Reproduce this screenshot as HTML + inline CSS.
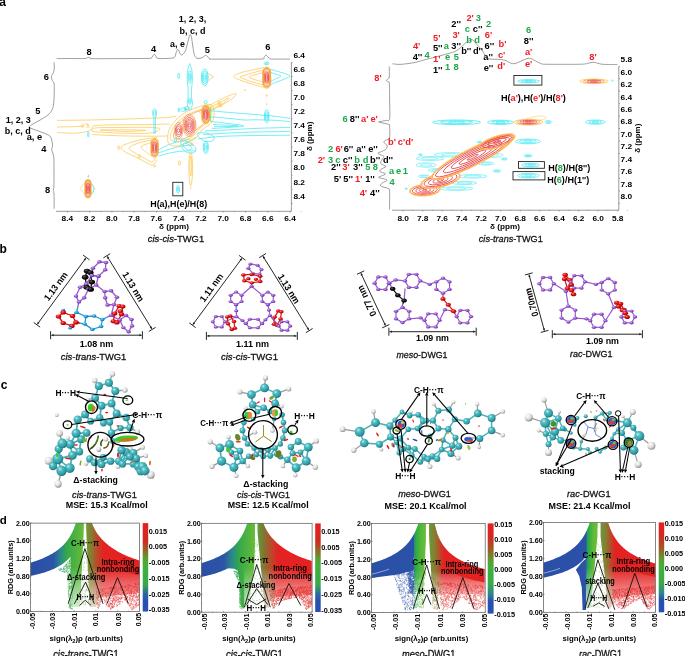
<!DOCTYPE html><html><head><meta charset="utf-8"><style>html,body{margin:0;padding:0;background:#fff;width:685px;height:656px;overflow:hidden}svg{display:block;will-change:transform}text{font-family:"Liberation Sans",sans-serif}</style></head><body><svg width="685" height="656" viewBox="0 0 685 656" font-family="Liberation Sans, sans-serif" font-weight="bold"><defs><radialGradient id="gP" cx="0.38" cy="0.35" r="0.7"><stop offset="0" stop-color="#d0aef2"/><stop offset="0.45" stop-color="#9c5cd4"/><stop offset="1" stop-color="#5e2890"/></radialGradient><radialGradient id="gR" cx="0.38" cy="0.35" r="0.7"><stop offset="0" stop-color="#ff8080"/><stop offset="0.45" stop-color="#e41010"/><stop offset="1" stop-color="#900000"/></radialGradient><radialGradient id="gB" cx="0.38" cy="0.35" r="0.7"><stop offset="0" stop-color="#9ae0ff"/><stop offset="0.45" stop-color="#1fa2dc"/><stop offset="1" stop-color="#0a6894"/></radialGradient><radialGradient id="gK" cx="0.38" cy="0.35" r="0.7"><stop offset="0" stop-color="#606060"/><stop offset="0.45" stop-color="#101010"/><stop offset="1" stop-color="#000"/></radialGradient><radialGradient id="gT" cx="0.36" cy="0.32" r="0.72"><stop offset="0" stop-color="#b8f0f2"/><stop offset="0.3" stop-color="#52bcc4"/><stop offset="0.75" stop-color="#2f9aa2"/><stop offset="1" stop-color="#1d6a70"/></radialGradient><radialGradient id="gH" cx="0.36" cy="0.32" r="0.72"><stop offset="0" stop-color="#ffffff"/><stop offset="0.55" stop-color="#dcdcdc"/><stop offset="1" stop-color="#8a8a8a"/></radialGradient><linearGradient id="bg0" gradientUnits="userSpaceOnUse" x1="30.4" y1="0" x2="139.6" y2="0"><stop offset="0" stop-color="#2a4fa6"/><stop offset="0.21" stop-color="#2b55a6"/><stop offset="0.28" stop-color="#2a8a8a"/><stop offset="0.33" stop-color="#34a848"/><stop offset="0.42" stop-color="#50b440"/><stop offset="0.49" stop-color="#6cbc38"/><stop offset="0.51" stop-color="#6a9a34"/><stop offset="0.56" stop-color="#8a7a30"/><stop offset="0.61" stop-color="#b84a2a"/><stop offset="0.67" stop-color="#e42222"/><stop offset="1" stop-color="#e42222"/></linearGradient><clipPath id="cp0"><rect x="30.4" y="523.1" width="109.2" height="88.4"/></clipPath><linearGradient id="fm0" gradientUnits="userSpaceOnUse" x1="0" y1="567.3" x2="0" y2="607.08"><stop offset="0" stop-color="#fff"/><stop offset="1" stop-color="#404040"/></linearGradient><mask id="mk0" maskUnits="userSpaceOnUse" x="30.4" y="523.1" width="109.2" height="88.4"><rect x="30.4" y="523.1" width="109.2" height="88.4" fill="url(#fm0)"/></mask><linearGradient id="bg0d" gradientUnits="userSpaceOnUse" x1="304" y1="0" x2="1396" y2="0"><stop offset="0" stop-color="#2a4fa6"/><stop offset="0.21" stop-color="#2b55a6"/><stop offset="0.28" stop-color="#2a8a8a"/><stop offset="0.33" stop-color="#34a848"/><stop offset="0.42" stop-color="#50b440"/><stop offset="0.49" stop-color="#6cbc38"/><stop offset="0.51" stop-color="#6a9a34"/><stop offset="0.56" stop-color="#8a7a30"/><stop offset="0.61" stop-color="#b84a2a"/><stop offset="0.67" stop-color="#e42222"/><stop offset="1" stop-color="#e42222"/></linearGradient><linearGradient id="cb0" x1="0" y1="0" x2="0" y2="1"><stop offset="0" stop-color="#e82020"/><stop offset="0.2" stop-color="#d02a20"/><stop offset="0.3" stop-color="#9a6028"/><stop offset="0.4" stop-color="#5aa030"/><stop offset="0.5" stop-color="#40b040"/><stop offset="0.7" stop-color="#3aa84a"/><stop offset="0.8" stop-color="#2868a0"/><stop offset="0.88" stop-color="#2850b0"/><stop offset="1" stop-color="#2850b0"/></linearGradient><linearGradient id="bg1" gradientUnits="userSpaceOnUse" x1="201.4" y1="0" x2="312.1" y2="0"><stop offset="0" stop-color="#2a4fa6"/><stop offset="0.2" stop-color="#2b55a6"/><stop offset="0.28" stop-color="#2a8a8a"/><stop offset="0.34" stop-color="#34a848"/><stop offset="0.42" stop-color="#50b440"/><stop offset="0.49" stop-color="#6cbc38"/><stop offset="0.51" stop-color="#5a9e38"/><stop offset="0.57" stop-color="#887030"/><stop offset="0.63" stop-color="#b84a2a"/><stop offset="0.69" stop-color="#e42222"/><stop offset="1" stop-color="#e42222"/></linearGradient><clipPath id="cp1"><rect x="201.4" y="523.3" width="110.7" height="88.9"/></clipPath><linearGradient id="fm1" gradientUnits="userSpaceOnUse" x1="0" y1="567.75" x2="0" y2="607.75"><stop offset="0" stop-color="#fff"/><stop offset="1" stop-color="#404040"/></linearGradient><mask id="mk1" maskUnits="userSpaceOnUse" x="201.4" y="523.3" width="110.7" height="88.9"><rect x="201.4" y="523.3" width="110.7" height="88.9" fill="url(#fm1)"/></mask><linearGradient id="bg1d" gradientUnits="userSpaceOnUse" x1="2014" y1="0" x2="3121" y2="0"><stop offset="0" stop-color="#2a4fa6"/><stop offset="0.2" stop-color="#2b55a6"/><stop offset="0.28" stop-color="#2a8a8a"/><stop offset="0.34" stop-color="#34a848"/><stop offset="0.42" stop-color="#50b440"/><stop offset="0.49" stop-color="#6cbc38"/><stop offset="0.51" stop-color="#5a9e38"/><stop offset="0.57" stop-color="#887030"/><stop offset="0.63" stop-color="#b84a2a"/><stop offset="0.69" stop-color="#e42222"/><stop offset="1" stop-color="#e42222"/></linearGradient><linearGradient id="cb1" x1="0" y1="0" x2="0" y2="1"><stop offset="0" stop-color="#e82020"/><stop offset="0.2" stop-color="#d02a20"/><stop offset="0.3" stop-color="#9a6028"/><stop offset="0.4" stop-color="#5aa030"/><stop offset="0.5" stop-color="#40b040"/><stop offset="0.7" stop-color="#3aa84a"/><stop offset="0.8" stop-color="#2868a0"/><stop offset="0.88" stop-color="#2850b0"/><stop offset="1" stop-color="#2850b0"/></linearGradient><linearGradient id="bg2" gradientUnits="userSpaceOnUse" x1="371.4" y1="0" x2="485.2" y2="0"><stop offset="0" stop-color="#2a4fa6"/><stop offset="0.37" stop-color="#2b52a8"/><stop offset="0.38" stop-color="#2a9a60"/><stop offset="0.4" stop-color="#30b040"/><stop offset="0.44" stop-color="#5cb838"/><stop offset="0.49" stop-color="#70c038"/><stop offset="0.51" stop-color="#6a9a34"/><stop offset="0.56" stop-color="#8a7a30"/><stop offset="0.61" stop-color="#c04028"/><stop offset="0.64" stop-color="#e42222"/><stop offset="1" stop-color="#e42222"/></linearGradient><clipPath id="cp2"><rect x="371.4" y="523.4" width="113.8" height="89.2"/></clipPath><linearGradient id="fm2" gradientUnits="userSpaceOnUse" x1="0" y1="570.23" x2="0" y2="596.99"><stop offset="0" stop-color="#fff"/><stop offset="1" stop-color="#303030"/></linearGradient><mask id="mk2" maskUnits="userSpaceOnUse" x="371.4" y="523.4" width="113.8" height="89.2"><rect x="371.4" y="523.4" width="113.8" height="89.2" fill="url(#fm2)"/></mask><linearGradient id="bg2d" gradientUnits="userSpaceOnUse" x1="3714" y1="0" x2="4852" y2="0"><stop offset="0" stop-color="#2a4fa6"/><stop offset="0.37" stop-color="#2b52a8"/><stop offset="0.38" stop-color="#2a9a60"/><stop offset="0.4" stop-color="#30b040"/><stop offset="0.44" stop-color="#5cb838"/><stop offset="0.49" stop-color="#70c038"/><stop offset="0.51" stop-color="#6a9a34"/><stop offset="0.56" stop-color="#8a7a30"/><stop offset="0.61" stop-color="#c04028"/><stop offset="0.64" stop-color="#e42222"/><stop offset="1" stop-color="#e42222"/></linearGradient><linearGradient id="cb2" x1="0" y1="0" x2="0" y2="1"><stop offset="0" stop-color="#e82020"/><stop offset="0.15" stop-color="#d02a20"/><stop offset="0.3" stop-color="#9a6028"/><stop offset="0.42" stop-color="#5aa030"/><stop offset="0.5" stop-color="#40b040"/><stop offset="0.68" stop-color="#3aa84a"/><stop offset="0.78" stop-color="#2a8a88"/><stop offset="0.86" stop-color="#2850b0"/><stop offset="1" stop-color="#2850b0"/></linearGradient><linearGradient id="bg3" gradientUnits="userSpaceOnUse" x1="543.4" y1="0" x2="655.6" y2="0"><stop offset="0" stop-color="#2a4fa6"/><stop offset="0.38" stop-color="#2b52a8"/><stop offset="0.39" stop-color="#2a9a60"/><stop offset="0.41" stop-color="#30b040"/><stop offset="0.44" stop-color="#5cb838"/><stop offset="0.49" stop-color="#70c038"/><stop offset="0.51" stop-color="#6a9a34"/><stop offset="0.56" stop-color="#8a7a30"/><stop offset="0.61" stop-color="#c04028"/><stop offset="0.64" stop-color="#e42222"/><stop offset="1" stop-color="#e42222"/></linearGradient><clipPath id="cp3"><rect x="543.4" y="522.5" width="112.2" height="89.8"/></clipPath><linearGradient id="fm3" gradientUnits="userSpaceOnUse" x1="0" y1="567.4" x2="0" y2="607.81"><stop offset="0" stop-color="#fff"/><stop offset="1" stop-color="#404040"/></linearGradient><mask id="mk3" maskUnits="userSpaceOnUse" x="543.4" y="522.5" width="112.2" height="89.8"><rect x="543.4" y="522.5" width="112.2" height="89.8" fill="url(#fm3)"/></mask><linearGradient id="bg3d" gradientUnits="userSpaceOnUse" x1="5434" y1="0" x2="6556" y2="0"><stop offset="0" stop-color="#2a4fa6"/><stop offset="0.38" stop-color="#2b52a8"/><stop offset="0.39" stop-color="#2a9a60"/><stop offset="0.41" stop-color="#30b040"/><stop offset="0.44" stop-color="#5cb838"/><stop offset="0.49" stop-color="#70c038"/><stop offset="0.51" stop-color="#6a9a34"/><stop offset="0.56" stop-color="#8a7a30"/><stop offset="0.61" stop-color="#c04028"/><stop offset="0.64" stop-color="#e42222"/><stop offset="1" stop-color="#e42222"/></linearGradient><linearGradient id="cb3" x1="0" y1="0" x2="0" y2="1"><stop offset="0" stop-color="#e82020"/><stop offset="0.15" stop-color="#d02a20"/><stop offset="0.3" stop-color="#9a6028"/><stop offset="0.42" stop-color="#5aa030"/><stop offset="0.5" stop-color="#40b040"/><stop offset="0.68" stop-color="#3aa84a"/><stop offset="0.78" stop-color="#2a8a88"/><stop offset="0.86" stop-color="#2850b0"/><stop offset="1" stop-color="#2850b0"/></linearGradient></defs><path d="M56.6,58.6 C58.83,58.58 65.43,58.5 70,58.5 C74.57,58.5 81.25,58.65 84,58.6 C86.75,58.55 85.75,58.42 86.5,58.2 C87.25,57.98 87.83,57.3 88.5,57.3 C89.17,57.3 89.75,57.97 90.5,58.2 C91.25,58.43 88.08,58.63 93,58.7 C97.92,58.77 110.83,58.65 120,58.6 C129.17,58.55 142.75,58.53 148,58.4 C153.25,58.27 150.67,58.27 151.5,57.8 C152.33,57.33 152.55,56.2 153,55.6 C153.45,55 153.77,54.2 154.2,54.2 C154.63,54.2 155.05,54.92 155.6,55.6 C156.15,56.28 155.93,57.82 157.5,58.3 C159.07,58.78 162.58,58.53 165,58.5 C167.42,58.47 170.38,58.35 172,58.1 C173.62,57.85 174,57.93 174.7,57 C175.4,56.07 175.75,53.73 176.2,52.5 C176.65,51.27 177,49.98 177.4,49.6 C177.8,49.22 178.17,49.55 178.6,50.2 C179.03,50.85 179.55,52.7 180,53.5 C180.45,54.3 180.8,54.88 181.3,55 C181.8,55.12 182.3,54.95 183,54.2 C183.7,53.45 184.67,52.62 185.5,50.5 C186.33,48.38 187.32,44 188,41.5 C188.68,39 189.18,36.62 189.6,35.5 C190.02,34.38 190.18,34.47 190.5,34.8 C190.82,35.13 191.12,35.63 191.5,37.5 C191.88,39.37 192.33,43.15 192.8,46 C193.27,48.85 193.77,52.67 194.3,54.6 C194.83,56.53 195.38,56.95 196,57.6 C196.62,58.25 197,58.47 198,58.5 C199,58.53 200.97,58.18 202,57.8 C203.03,57.42 203.57,56.62 204.2,56.2 C204.83,55.78 205.25,55.25 205.8,55.3 C206.35,55.35 206.88,55.95 207.5,56.5 C208.12,57.05 208.75,58.17 209.5,58.6 C210.25,59.03 206.92,59.02 212,59.1 C217.08,59.18 231.67,59.12 240,59.1 C248.33,59.08 258,59.32 262,59 C266,58.68 263.33,57.83 264,57.2 C264.67,56.57 265.33,55.23 266,55.2 C266.67,55.17 267.25,56.38 268,57 C268.75,57.62 269.33,58.55 270.5,58.9 C271.67,59.25 271.75,59.07 275,59.1 C278.25,59.13 287.5,59.1 290,59.1" stroke="#606060" stroke-width="0.6" fill="none"/>
<path d="M54.1,62.3 C54.13,63.25 54.38,66.38 54.3,68 C54.22,69.62 54.08,70.58 53.6,72 C53.12,73.42 51.63,75.17 51.4,76.5 C51.17,77.83 51.75,78.75 52.2,80 C52.65,81.25 53.77,81.5 54.1,84 C54.43,86.5 54.28,91.67 54.2,95 C54.12,98.33 53.97,101.5 53.6,104 C53.23,106.5 52.93,108.17 52,110 C51.07,111.83 49.83,113.42 48,115 C46.17,116.58 43.5,118 41,119.5 C38.5,121 35,122.78 33,124 C31,125.22 29.17,126.02 29,126.8 C28.83,127.58 30.17,127.9 32,128.7 C33.83,129.5 37.5,130.65 40,131.6 C42.5,132.55 45.25,133.57 47,134.4 C48.75,135.23 49.78,135.83 50.5,136.6 C51.22,137.37 51,137.93 51.3,139 C51.6,140.07 52.1,141.75 52.3,143 C52.5,144.25 52.62,145.42 52.5,146.5 C52.38,147.58 51.55,148.42 51.6,149.5 C51.65,150.58 52.43,151.58 52.8,153 C53.17,154.42 53.6,155.17 53.8,158 C54,160.83 53.98,165.33 54,170 C54.02,174.67 54.02,182.67 53.9,186 C53.78,189.33 53.28,188.67 53.3,190 C53.32,191.33 53.85,190.88 54,194 C54.15,197.12 54.17,206.25 54.2,208.7" stroke="#606060" stroke-width="0.6" fill="none"/>
<path d="M392.5,63.8 C393.75,63.9 397.08,64.48 400,64.4 C402.92,64.32 407.08,63.72 410,63.3 C412.92,62.88 414.83,62.55 417.5,61.9 C420.17,61.25 423.37,60.12 426,59.4 C428.63,58.68 430.47,58.33 433.3,57.6 C436.13,56.87 439.78,55.88 443,55 C446.22,54.12 450.1,53.18 452.6,52.3 C455.1,51.42 456.55,50.58 458,49.7 C459.45,48.82 460.13,48.05 461.3,47 C462.47,45.95 463.68,44.47 465,43.4 C466.32,42.33 468.07,41.23 469.2,40.6 C470.33,39.97 471.03,39.57 471.8,39.6 C472.57,39.63 473.22,40.28 473.8,40.8 C474.38,41.32 474.43,41.7 475.3,42.7 C476.17,43.7 477.83,45.5 479,46.8 C480.17,48.1 481.3,49.13 482.3,50.5 C483.3,51.87 484.12,53.72 485,55 C485.88,56.28 486.43,57.5 487.6,58.2 C488.77,58.9 490.25,59.02 492,59.2 C493.75,59.38 495.93,59.12 498.1,59.3 C500.27,59.48 503.18,59.8 505,60.3 C506.82,60.8 507.78,61.75 509,62.3 C510.22,62.85 511.13,63.43 512.3,63.6 C513.47,63.77 514.38,63.8 516,63.3 C517.62,62.8 520.17,61.38 522,60.6 C523.83,59.82 525.73,58.98 527,58.6 C528.27,58.22 528.68,58.18 529.6,58.3 C530.52,58.42 531.27,58.73 532.5,59.3 C533.73,59.87 535.58,60.98 537,61.7 C538.42,62.42 539.83,63.18 541,63.6 C542.17,64.02 540.83,64.08 544,64.2 C547.17,64.32 553.72,64.3 560,64.3 C566.28,64.3 577.03,64.37 581.7,64.2 C586.37,64.03 586.12,63.63 588,63.3 C589.88,62.97 591.33,62.2 593,62.2 C594.67,62.2 596.33,62.95 598,63.3 C599.67,63.65 599.75,64.08 603,64.3 C606.25,64.52 615.08,64.55 617.5,64.6" stroke="#606060" stroke-width="0.6" fill="none"/>
<path d="M389.3,66.5 C389.3,68.25 389.45,74.98 389.3,77 C389.15,79.02 388.88,78.05 388.4,78.6 C387.92,79.15 386.4,79.73 386.4,80.3 C386.4,80.87 387.9,81.47 388.4,82 C388.9,82.53 389.2,80.5 389.4,83.5 C389.6,86.5 389.57,94.12 389.6,100 C389.63,105.88 390.2,115.4 389.6,118.8 C389,122.2 387.6,119.92 386,120.4 C384.4,120.88 381.2,121.43 380,121.7 C378.8,121.97 378.47,121.8 378.8,122 C379.13,122.2 380.4,122.53 382,122.9 C383.6,123.27 387.13,123.68 388.4,124.2 C389.67,124.72 389.4,123.7 389.6,126 C389.8,128.3 390.07,135.72 389.6,138 C389.13,140.28 387.73,139.1 386.8,139.7 C385.87,140.3 384.37,141 384,141.6 C383.63,142.2 384.13,142.73 384.6,143.3 C385.07,143.87 386.35,144.38 386.8,145 C387.25,145.62 387.52,146.25 387.3,147 C387.08,147.75 386.47,148.73 385.5,149.5 C384.53,150.27 382.75,151.02 381.5,151.6 C380.25,152.18 378.25,152.52 378,153 C377.75,153.48 379,153.92 380,154.5 C381,155.08 383.67,155.67 384,156.5 C384.33,157.33 382.53,158.32 382,159.5 C381.47,160.68 380.13,162.45 380.8,163.6 C381.47,164.75 385.63,165.63 386,166.4 C386.37,167.17 384.08,167.4 383,168.2 C381.92,169 379.08,170.27 379.5,171.2 C379.92,172.13 385.18,173 385.5,173.8 C385.82,174.6 382.52,175.38 381.4,176 C380.28,176.62 377.87,176.83 378.8,177.5 C379.73,178.17 386.47,179.05 387,180 C387.53,180.95 383.05,182.2 382,183.2 C380.95,184.2 379.75,185.15 380.7,186 C381.65,186.85 386.23,187.63 387.7,188.3 C389.17,188.97 389.18,188.05 389.5,190 C389.82,191.95 389.58,196.75 389.6,200 C389.62,203.25 389.6,207.92 389.6,209.5" stroke="#606060" stroke-width="0.6" fill="none"/>
<line x1="291.4" y1="62.2" x2="291.4" y2="211.3" stroke="#555" stroke-width="0.6"/>
<line x1="56" y1="211.3" x2="291.4" y2="211.3" stroke="#555" stroke-width="0.6"/>
<line x1="291.4" y1="62.4" x2="292.6" y2="62.4" stroke="#555" stroke-width="0.5"/>
<line x1="291.4" y1="76.5" x2="292.6" y2="76.5" stroke="#555" stroke-width="0.5"/>
<line x1="291.4" y1="90.6" x2="292.6" y2="90.6" stroke="#555" stroke-width="0.5"/>
<line x1="291.4" y1="104.7" x2="292.6" y2="104.7" stroke="#555" stroke-width="0.5"/>
<line x1="291.4" y1="118.8" x2="292.6" y2="118.8" stroke="#555" stroke-width="0.5"/>
<line x1="291.4" y1="132.9" x2="292.6" y2="132.9" stroke="#555" stroke-width="0.5"/>
<line x1="291.4" y1="147" x2="292.6" y2="147" stroke="#555" stroke-width="0.5"/>
<line x1="291.4" y1="161.1" x2="292.6" y2="161.1" stroke="#555" stroke-width="0.5"/>
<line x1="291.4" y1="175.2" x2="292.6" y2="175.2" stroke="#555" stroke-width="0.5"/>
<line x1="291.4" y1="189.3" x2="292.6" y2="189.3" stroke="#555" stroke-width="0.5"/>
<line x1="291.4" y1="203.4" x2="292.6" y2="203.4" stroke="#555" stroke-width="0.5"/>
<line x1="67.4" y1="211.3" x2="67.4" y2="212.6" stroke="#555" stroke-width="0.5"/>
<line x1="78.53" y1="211.3" x2="78.53" y2="212.1" stroke="#555" stroke-width="0.5"/>
<line x1="89.66" y1="211.3" x2="89.66" y2="212.6" stroke="#555" stroke-width="0.5"/>
<line x1="100.79" y1="211.3" x2="100.79" y2="212.1" stroke="#555" stroke-width="0.5"/>
<line x1="111.92" y1="211.3" x2="111.92" y2="212.6" stroke="#555" stroke-width="0.5"/>
<line x1="123.05" y1="211.3" x2="123.05" y2="212.1" stroke="#555" stroke-width="0.5"/>
<line x1="134.18" y1="211.3" x2="134.18" y2="212.6" stroke="#555" stroke-width="0.5"/>
<line x1="145.31" y1="211.3" x2="145.31" y2="212.1" stroke="#555" stroke-width="0.5"/>
<line x1="156.44" y1="211.3" x2="156.44" y2="212.6" stroke="#555" stroke-width="0.5"/>
<line x1="167.57" y1="211.3" x2="167.57" y2="212.1" stroke="#555" stroke-width="0.5"/>
<line x1="178.7" y1="211.3" x2="178.7" y2="212.6" stroke="#555" stroke-width="0.5"/>
<line x1="189.83" y1="211.3" x2="189.83" y2="212.1" stroke="#555" stroke-width="0.5"/>
<line x1="200.96" y1="211.3" x2="200.96" y2="212.6" stroke="#555" stroke-width="0.5"/>
<line x1="212.09" y1="211.3" x2="212.09" y2="212.1" stroke="#555" stroke-width="0.5"/>
<line x1="223.22" y1="211.3" x2="223.22" y2="212.6" stroke="#555" stroke-width="0.5"/>
<line x1="234.35" y1="211.3" x2="234.35" y2="212.1" stroke="#555" stroke-width="0.5"/>
<line x1="245.48" y1="211.3" x2="245.48" y2="212.6" stroke="#555" stroke-width="0.5"/>
<line x1="256.61" y1="211.3" x2="256.61" y2="212.1" stroke="#555" stroke-width="0.5"/>
<line x1="267.74" y1="211.3" x2="267.74" y2="212.6" stroke="#555" stroke-width="0.5"/>
<line x1="278.87" y1="211.3" x2="278.87" y2="212.1" stroke="#555" stroke-width="0.5"/>
<line x1="290" y1="211.3" x2="290" y2="212.6" stroke="#555" stroke-width="0.5"/>
<line x1="301.13" y1="211.3" x2="301.13" y2="212.1" stroke="#555" stroke-width="0.5"/>
<line x1="618.8" y1="66.3" x2="618.8" y2="210.2" stroke="#555" stroke-width="0.6"/>
<line x1="392" y1="210.2" x2="618.8" y2="210.2" stroke="#555" stroke-width="0.6"/>
<line x1="618.8" y1="66.3" x2="620" y2="66.3" stroke="#555" stroke-width="0.5"/>
<line x1="618.8" y1="78.75" x2="620" y2="78.75" stroke="#555" stroke-width="0.5"/>
<line x1="618.8" y1="91.2" x2="620" y2="91.2" stroke="#555" stroke-width="0.5"/>
<line x1="618.8" y1="103.65" x2="620" y2="103.65" stroke="#555" stroke-width="0.5"/>
<line x1="618.8" y1="116.1" x2="620" y2="116.1" stroke="#555" stroke-width="0.5"/>
<line x1="618.8" y1="128.55" x2="620" y2="128.55" stroke="#555" stroke-width="0.5"/>
<line x1="618.8" y1="141" x2="620" y2="141" stroke="#555" stroke-width="0.5"/>
<line x1="618.8" y1="153.45" x2="620" y2="153.45" stroke="#555" stroke-width="0.5"/>
<line x1="618.8" y1="165.9" x2="620" y2="165.9" stroke="#555" stroke-width="0.5"/>
<line x1="618.8" y1="178.35" x2="620" y2="178.35" stroke="#555" stroke-width="0.5"/>
<line x1="618.8" y1="190.8" x2="620" y2="190.8" stroke="#555" stroke-width="0.5"/>
<line x1="618.8" y1="203.25" x2="620" y2="203.25" stroke="#555" stroke-width="0.5"/>
<line x1="403.2" y1="210.2" x2="403.2" y2="211.5" stroke="#555" stroke-width="0.5"/>
<line x1="412.95" y1="210.2" x2="412.95" y2="211" stroke="#555" stroke-width="0.5"/>
<line x1="422.7" y1="210.2" x2="422.7" y2="211.5" stroke="#555" stroke-width="0.5"/>
<line x1="432.45" y1="210.2" x2="432.45" y2="211" stroke="#555" stroke-width="0.5"/>
<line x1="442.2" y1="210.2" x2="442.2" y2="211.5" stroke="#555" stroke-width="0.5"/>
<line x1="451.95" y1="210.2" x2="451.95" y2="211" stroke="#555" stroke-width="0.5"/>
<line x1="461.7" y1="210.2" x2="461.7" y2="211.5" stroke="#555" stroke-width="0.5"/>
<line x1="471.45" y1="210.2" x2="471.45" y2="211" stroke="#555" stroke-width="0.5"/>
<line x1="481.2" y1="210.2" x2="481.2" y2="211.5" stroke="#555" stroke-width="0.5"/>
<line x1="490.95" y1="210.2" x2="490.95" y2="211" stroke="#555" stroke-width="0.5"/>
<line x1="500.7" y1="210.2" x2="500.7" y2="211.5" stroke="#555" stroke-width="0.5"/>
<line x1="510.45" y1="210.2" x2="510.45" y2="211" stroke="#555" stroke-width="0.5"/>
<line x1="520.2" y1="210.2" x2="520.2" y2="211.5" stroke="#555" stroke-width="0.5"/>
<line x1="529.95" y1="210.2" x2="529.95" y2="211" stroke="#555" stroke-width="0.5"/>
<line x1="539.7" y1="210.2" x2="539.7" y2="211.5" stroke="#555" stroke-width="0.5"/>
<line x1="549.45" y1="210.2" x2="549.45" y2="211" stroke="#555" stroke-width="0.5"/>
<line x1="559.2" y1="210.2" x2="559.2" y2="211.5" stroke="#555" stroke-width="0.5"/>
<line x1="568.95" y1="210.2" x2="568.95" y2="211" stroke="#555" stroke-width="0.5"/>
<line x1="578.7" y1="210.2" x2="578.7" y2="211.5" stroke="#555" stroke-width="0.5"/>
<line x1="588.45" y1="210.2" x2="588.45" y2="211" stroke="#555" stroke-width="0.5"/>
<line x1="598.2" y1="210.2" x2="598.2" y2="211.5" stroke="#555" stroke-width="0.5"/>
<line x1="607.95" y1="210.2" x2="607.95" y2="211" stroke="#555" stroke-width="0.5"/>
<line x1="617.7" y1="210.2" x2="617.7" y2="211.5" stroke="#555" stroke-width="0.5"/>
<line x1="627.45" y1="210.2" x2="627.45" y2="211" stroke="#555" stroke-width="0.5"/>
<path d="M57,120.4 C62.5,120.33 79.5,120.2 90,120 C100.5,119.8 110,119.5 120,119.2 C130,118.9 142,118.5 150,118.2 C158,117.9 163.67,117.73 168,117.4 C172.33,117.07 174.67,116.4 176,116.2" stroke="#fcc44a" stroke-width="0.72" fill="none"/>
<path d="M57,132.6 C60,132.7 69.83,133.43 75,133.2 C80.17,132.97 85.17,131.98 88,131.2 C90.83,130.42 90.83,129.43 92,128.5 C93.17,127.57 90.33,126.22 95,125.6 C99.67,124.98 110.83,124.98 120,124.8 C129.17,124.62 141.67,124.63 150,124.5 C158.33,124.37 166.67,124.08 170,124" stroke="#fcc44a" stroke-width="0.72" fill="none"/>
<path d="M57,127 C60.83,126.88 75.17,126.83 80,126.3 C84.83,125.77 84.5,123.85 86,123.8 C87.5,123.75 88.5,125.63 89,126" stroke="#fcc44a" stroke-width="0.72" fill="none"/>
<path d="M92,134.5 C96.67,134.72 110.33,135.52 120,135.8 C129.67,136.08 142,136.17 150,136.2 C158,136.23 165,136.03 168,136" stroke="#fcc44a" stroke-width="0.72" fill="none"/>
<path d="M92,131.5 C92.5,130.92 90.33,128.67 95,128 C99.67,127.33 110.83,127.6 120,127.5 C129.17,127.4 143.33,127.15 150,127.4 C156.67,127.65 160,128.07 160,129 C160,129.93 156.67,132.3 150,133 C143.33,133.7 129.67,133.45 120,133.2 C110.33,132.95 96.67,131.78 92,131.5" stroke="#fcc44a" stroke-width="0.72" fill="none"/>
<path d="M100,130 C104.17,129.97 117.33,129.73 125,129.8 C132.67,129.87 146,130.12 146,130.4 C146,130.68 132.67,131.57 125,131.5 C117.33,131.43 104.17,130.25 100,130" stroke="#fcc44a" stroke-width="0.72" fill="none"/>
<ellipse cx="82.4" cy="126.2" rx="1.3" ry="1.2" stroke="#fcc44a" stroke-width="0.72" fill="none"/>
<path d="M86.5,128 L88,124.5 L89.5,128" stroke="#fcc44a" stroke-width="0.72" fill="none"/>
<ellipse cx="88.3" cy="134.4" rx="0.7" ry="2.6" stroke="#3fe6f2" stroke-width="0.72" fill="none"/>
<ellipse cx="154.6" cy="113.2" rx="2" ry="4.6" stroke="#3fe6f2" stroke-width="0.72" fill="none"/>
<ellipse cx="154.6" cy="113.2" rx="1" ry="2.6" stroke="#3fe6f2" stroke-width="0.72" fill="none"/>
<path d="M153.8,117.6 L154,134 M155.4,117.6 L155.2,134" stroke="#3fe6f2" stroke-width="0.72" fill="none"/>
<path d="M157,137.5 C155,137.75 148.83,138.33 145,139 C141.17,139.67 137.5,140.5 134,141.5 C130.5,142.5 126.17,143.92 124,145 C121.83,146.08 120.67,146.75 121,148 C121.33,149.25 123.5,151 126,152.5 C128.5,154 132.5,155.25 136,157 C139.5,158.75 144.17,161.67 147,163 C149.83,164.33 151.33,165.5 153,165 C154.67,164.5 156.33,160.83 157,160" stroke="#fcc44a" stroke-width="0.72" fill="none"/>
<path d="M156,139.5 C154.33,139.75 149.33,140.25 146,141 C142.67,141.75 138.83,142.83 136,144 C133.17,145.17 129.33,146.58 129,148 C128.67,149.42 131.5,150.83 134,152.5 C136.5,154.17 141,156.42 144,158 C147,159.58 150,162.17 152,162 C154,161.83 155.33,157.83 156,157" stroke="#fcc44a" stroke-width="0.72" fill="none"/>
<path d="M155,141.5 C153.83,141.83 150.33,142.58 148,143.5 C145.67,144.42 141.33,145.58 141,147 C140.67,148.42 144.17,150.42 146,152 C147.83,153.58 151,155.75 152,156.5" stroke="#fcc44a" stroke-width="0.72" fill="none"/>
<rect x="150.9" y="138.2" width="7.4" height="19" fill="none" stroke="#fcc44a" stroke-width="1.15" rx="3.7" ry="5.18"/>
<rect x="151.49" y="139.52" width="6.23" height="16.36" fill="none" stroke="#f59a4a" stroke-width="1.15" rx="3.11" ry="4.36"/>
<rect x="152.07" y="140.84" width="5.05" height="13.72" fill="none" stroke="#f59a4a" stroke-width="0.8" rx="2.53" ry="3.54"/>
<rect x="152.66" y="142.16" width="3.88" height="11.08" fill="none" stroke="#ea4a4a" stroke-width="0.8" rx="1.94" ry="2.71"/>
<rect x="153.25" y="143.48" width="2.7" height="8.44" fill="none" stroke="#ea4a4a" stroke-width="0.8" rx="1.35" ry="1.89"/>
<rect x="153.84" y="144.8" width="1.53" height="5.81" fill="none" stroke="#ea4a4a" stroke-width="0.8" rx="0.76" ry="1.07"/>
<ellipse cx="154.6" cy="166.2" rx="0.9" ry="0.9" stroke="#fcc44a" stroke-width="0.72" fill="none"/>
<ellipse cx="118.6" cy="147.7" rx="0.9" ry="1.9" stroke="#fcc44a" stroke-width="0.72" fill="none"/>
<ellipse cx="139.3" cy="156.5" rx="0.9" ry="1.8" stroke="#fcc44a" stroke-width="0.72" fill="none"/>
<path d="M158.5,150 C160.08,149.17 164.42,146.5 168,145 C171.58,143.5 176.33,142 180,141 C183.67,140 188.33,139.33 190,139" stroke="#3fe6f2" stroke-width="0.72" fill="none"/>
<path d="M158.5,153 C160.42,152.33 166.08,150.17 170,149 C173.92,147.83 178,146.67 182,146 C186,145.33 192,145.17 194,145" stroke="#3fe6f2" stroke-width="0.72" fill="none"/>
<path d="M158.5,156 C160.75,155.42 167.75,153.33 172,152.5 C176.25,151.67 180,151.25 184,151 C188,150.75 194,151 196,151" stroke="#3fe6f2" stroke-width="0.72" fill="none"/>
<path d="M80,188.3 Q84,183 88,181 Q92,183 95,188.5 Q92,194 88,196.5 Q84,194 80,188.3Z" stroke="#fcc44a" stroke-width="0.55" fill="none"/>
<rect x="84.9" y="179.3" width="6.2" height="18.6" fill="none" stroke="#fcc44a" stroke-width="1.15" rx="3.1" ry="4.34"/>
<rect x="85.39" y="180.59" width="5.22" height="16.02" fill="none" stroke="#f59a4a" stroke-width="1.15" rx="2.61" ry="3.65"/>
<rect x="85.88" y="181.88" width="4.23" height="13.43" fill="none" stroke="#f59a4a" stroke-width="0.8" rx="2.12" ry="2.96"/>
<rect x="86.38" y="183.17" width="3.25" height="10.85" fill="none" stroke="#ea4a4a" stroke-width="0.8" rx="1.62" ry="2.27"/>
<rect x="86.87" y="184.47" width="2.26" height="8.27" fill="none" stroke="#ea4a4a" stroke-width="0.8" rx="1.13" ry="1.58"/>
<rect x="87.36" y="185.76" width="1.28" height="5.68" fill="none" stroke="#ea4a4a" stroke-width="0.8" rx="0.64" ry="0.9"/>
<path d="M91,183.5 Q97,189 91,195" stroke="#3fe6f2" stroke-width="0.72" fill="none"/>
<ellipse cx="88.3" cy="176.3" rx="0.45" ry="1" stroke="#3fe6f2" stroke-width="0.72" fill="none"/>
<path d="M264,67.5 C262,67.92 256,69.08 252,70 C248,70.92 243.08,71.92 240,73 C236.92,74.08 233.5,75.33 233.5,76.5 C233.5,77.67 236.92,78.75 240,80 C243.08,81.25 248,82.75 252,84 C256,85.25 262,86.92 264,87.5" stroke="#fcc44a" stroke-width="0.72" fill="none"/>
<path d="M264,70 C262.33,70.42 257.33,71.58 254,72.5 C250.67,73.42 246.33,74.75 244,75.5 C241.67,76.25 240,76.42 240,77 C240,77.58 241.67,78.08 244,79 C246.33,79.92 250.67,81.5 254,82.5 C257.33,83.5 262.33,84.58 264,85" stroke="#fcc44a" stroke-width="0.72" fill="none"/>
<path d="M264,72.5 C262.67,72.83 258.5,73.75 256,74.5 C253.5,75.25 249,76.08 249,77 C249,77.92 253.5,79.17 256,80 C258.5,80.83 262.67,81.67 264,82" stroke="#fcc44a" stroke-width="0.72" fill="none"/>
<path d="M269.5,69 C270.92,69.42 275.25,70.67 278,71.5 C280.75,72.33 284,73.25 286,74 C288,74.75 290,75.25 290,76 C290,76.75 288,77.58 286,78.5 C284,79.42 280.75,80.42 278,81.5 C275.25,82.58 270.92,84.42 269.5,85" stroke="#3fe6f2" stroke-width="0.72" fill="none"/>
<path d="M269.5,72 C270.58,72.37 274.08,73.53 276,74.2 C277.92,74.87 281,75.28 281,76 C281,76.72 277.92,77.5 276,78.5 C274.08,79.5 270.58,81.42 269.5,82" stroke="#3fe6f2" stroke-width="0.72" fill="none"/>
<ellipse cx="266.6" cy="63.5" rx="2.4" ry="1.3" stroke="#3fe6f2" stroke-width="0.72" fill="none"/>
<ellipse cx="266.6" cy="63.5" rx="1.2" ry="0.6" stroke="#3fe6f2" stroke-width="0.72" fill="none"/>
<rect x="262.7" y="67.1" width="8" height="21" fill="none" stroke="#fcc44a" stroke-width="1.15" rx="4" ry="5.6"/>
<rect x="263.25" y="68.38" width="6.9" height="18.44" fill="none" stroke="#f59a4a" stroke-width="1.15" rx="3.45" ry="4.83"/>
<rect x="263.8" y="69.66" width="5.81" height="15.88" fill="none" stroke="#f59a4a" stroke-width="0.8" rx="2.9" ry="4.07"/>
<rect x="264.34" y="70.94" width="4.71" height="13.32" fill="none" stroke="#f59a4a" stroke-width="0.8" rx="2.36" ry="3.3"/>
<rect x="264.89" y="72.22" width="3.62" height="10.76" fill="none" stroke="#ea4a4a" stroke-width="0.8" rx="1.81" ry="2.53"/>
<rect x="265.44" y="73.5" width="2.52" height="8.2" fill="none" stroke="#ea4a4a" stroke-width="0.8" rx="1.26" ry="1.76"/>
<rect x="265.99" y="74.78" width="1.42" height="5.63" fill="none" stroke="#ea4a4a" stroke-width="0.8" rx="0.71" ry="1"/>
<ellipse cx="266.7" cy="95.5" rx="0.7" ry="0.9" stroke="#fcc44a" stroke-width="0.72" fill="none"/>
<line x1="266.7" y1="102.6" x2="266.7" y2="105.4" stroke="#fcc44a" stroke-width="0.7"/>
<ellipse cx="245" cy="90" rx="0.4" ry="0.6" stroke="#fcc44a" stroke-width="0.72" fill="none"/>
<ellipse cx="204.8" cy="77.4" rx="3.4" ry="8.4" stroke="#3fe6f2" stroke-width="0.78" fill="none"/>
<ellipse cx="204.8" cy="77.4" rx="2.55" ry="6.3" stroke="#3fe6f2" stroke-width="0.78" fill="none"/>
<ellipse cx="204.8" cy="77.4" rx="1.7" ry="4.2" stroke="#3fe6f2" stroke-width="0.78" fill="none"/>
<ellipse cx="204.8" cy="77.4" rx="0.85" ry="2.1" stroke="#3fe6f2" stroke-width="0.78" fill="none"/>
<path d="M208.8,73.5 L213.5,76.8 L208.8,80.5" stroke="#fcc44a" stroke-width="0.72" fill="none"/>
<path d="M189.8,63.6 C190.13,64.67 191.37,67.27 191.8,70 C192.23,72.73 192.47,76.67 192.4,80 C192.33,83.33 191.53,87 191.4,90 C191.27,93 191.42,95.83 191.6,98 C191.78,100.17 192.57,101.17 192.5,103 C192.43,104.83 191.65,107.77 191.2,109 C190.75,110.23 190.27,110.4 189.8,110.4 C189.33,110.4 188.83,110.23 188.4,109 C187.97,107.77 187.27,104.83 187.2,103 C187.13,101.17 187.83,100.17 188,98 C188.17,95.83 188.33,93 188.2,90 C188.07,87 187.27,83.33 187.2,80 C187.13,76.67 187.37,72.73 187.8,70 C188.23,67.27 189.47,64.67 189.8,63.6" stroke="#3fe6f2" stroke-width="0.72" fill="none"/>
<ellipse cx="189.8" cy="77" rx="1.5" ry="6.5" stroke="#3fe6f2" stroke-width="0.72" fill="none"/>
<ellipse cx="189.8" cy="77" rx="0.7" ry="3.5" stroke="#3fe6f2" stroke-width="0.72" fill="none"/>
<ellipse cx="189.8" cy="101.2" rx="1.5" ry="3" stroke="#3fe6f2" stroke-width="0.72" fill="none"/>
<ellipse cx="189.8" cy="101.2" rx="0.6" ry="1.4" stroke="#3fe6f2" stroke-width="0.72" fill="none"/>
<ellipse cx="178.6" cy="75.8" rx="0.8" ry="2.8" stroke="#3fe6f2" stroke-width="0.72" fill="none"/>
<ellipse cx="178.8" cy="110" rx="0.6" ry="2.2" stroke="#3fe6f2" stroke-width="0.72" fill="none"/>
<ellipse cx="183.5" cy="109.6" rx="2.8" ry="1.8" stroke="#3fe6f2" stroke-width="0.72" fill="none"/>
<ellipse cx="187" cy="108.2" rx="2.6" ry="1.6" stroke="#3fe6f2" stroke-width="0.72" fill="none"/>
<ellipse cx="185.4" cy="109.2" rx="1.4" ry="0.9" stroke="#3fe6f2" stroke-width="0.72" fill="none"/>
<ellipse cx="205.6" cy="102.2" rx="1.6" ry="1.4" stroke="#3fe6f2" stroke-width="0.72" fill="none"/>
<path d="M200,111 C201.5,109.42 207.67,106.33 212,104 C216.33,101.67 222,98.75 226,97 C230,95.25 234.83,93.33 236,93.5 C237.17,93.67 235,96.25 233,98 C231,99.75 227.5,102 224,104 C220.5,106 215.5,108.42 212,110 C208.5,111.58 205,113.33 203,113.5 C201,113.67 198.5,112.58 200,111Z" stroke="#fcc44a" stroke-width="0.72" fill="none"/>
<path d="M206,110 C206.67,109.25 212.17,106.5 216,104.5 C219.83,102.5 228,98.08 229,98 C230,97.92 224.83,102.17 222,104 C219.17,105.83 214.67,108 212,109 C209.33,110 205.33,110.75 206,110Z" stroke="#fcc44a" stroke-width="0.72" fill="none"/>
<ellipse cx="219.8" cy="104.4" rx="1.5" ry="3" stroke="#fcc44a" stroke-width="0.72" fill="none" transform="rotate(-20 219.8 104.4)"/>
<ellipse cx="219.8" cy="104.4" rx="0.6" ry="1.4" stroke="#fcc44a" stroke-width="0.72" fill="none" transform="rotate(-20 219.8 104.4)"/>
<path d="M168,142 C167.17,139.33 167.67,133.67 169,130 C170.33,126.33 173.17,123 176,120 C178.83,117 182.33,114.17 186,112 C189.67,109.83 194,108.25 198,107 C202,105.75 207.33,104 210,104.5 C212.67,105 213.67,107.08 214,110 C214.33,112.92 214,118.67 212,122 C210,125.33 204.67,127.33 202,130 C199.33,132.67 199,135.67 196,138 C193,140.33 187.67,142.67 184,144 C180.33,145.33 176.67,146.33 174,146 C171.33,145.67 168.83,144.67 168,142Z" stroke="#fcc44a" stroke-width="0.72" fill="none"/>
<path d="M171,140 C169.17,138.08 170.67,133.17 172,130 C173.33,126.83 176.33,123.58 179,121 C181.67,118.42 184.67,116.33 188,114.5 C191.33,112.67 195.5,111.17 199,110 C202.5,108.83 207,107.17 209,107.5 C211,107.83 211,109.75 211,112 C211,114.25 210.83,118.33 209,121 C207.17,123.67 202.67,125.5 200,128 C197.33,130.5 195.83,133.75 193,136 C190.17,138.25 186.67,140.83 183,141.5 C179.33,142.17 172.83,141.92 171,140Z" stroke="#fcc44a" stroke-width="0.72" fill="none"/>
<path d="M174,138 C172.33,136.33 174.33,131.17 176,128 C177.67,124.83 181,121.5 184,119 C187,116.5 190.83,114.42 194,113 C197.17,111.58 200.67,110.33 203,110.5 C205.33,110.67 207.67,112.08 208,114 C208.33,115.92 207,119.33 205,122 C203,124.67 199.17,127.33 196,130 C192.83,132.67 189.67,136.67 186,138 C182.33,139.33 175.67,139.67 174,138Z" stroke="#f59a4a" stroke-width="0.72" fill="none"/>
<ellipse cx="189.4" cy="125.4" rx="6.6" ry="11.2" stroke="#f59a4a" stroke-width="0.78" fill="none"/>
<ellipse cx="189.4" cy="125.4" rx="5.66" ry="9.6" stroke="#f59a4a" stroke-width="0.78" fill="none"/>
<ellipse cx="189.4" cy="125.4" rx="4.71" ry="8" stroke="#ea4a4a" stroke-width="0.78" fill="none"/>
<ellipse cx="189.4" cy="125.4" rx="3.77" ry="6.4" stroke="#ea4a4a" stroke-width="0.78" fill="none"/>
<ellipse cx="189.4" cy="125.4" rx="2.83" ry="4.8" stroke="#ea4a4a" stroke-width="0.78" fill="none"/>
<ellipse cx="189.4" cy="125.4" rx="1.89" ry="3.2" stroke="#ea4a4a" stroke-width="0.78" fill="none"/>
<ellipse cx="189.4" cy="125.4" rx="0.94" ry="1.6" stroke="#ea4a4a" stroke-width="0.78" fill="none"/>
<ellipse cx="178.6" cy="130.6" rx="4.1" ry="8.2" stroke="#f59a4a" stroke-width="0.78" fill="none"/>
<ellipse cx="178.6" cy="130.6" rx="3.07" ry="6.15" stroke="#ea4a4a" stroke-width="0.78" fill="none"/>
<ellipse cx="178.6" cy="130.6" rx="2.05" ry="4.1" stroke="#ea4a4a" stroke-width="0.78" fill="none"/>
<ellipse cx="178.6" cy="130.6" rx="1.02" ry="2.05" stroke="#ea4a4a" stroke-width="0.78" fill="none"/>
<rect x="201.8" y="105.15" width="8" height="18.5" fill="none" stroke="#fcc44a" stroke-width="1.15" rx="4" ry="5.6"/>
<rect x="202.43" y="106.43" width="6.73" height="15.93" fill="none" stroke="#f59a4a" stroke-width="1.15" rx="3.37" ry="4.71"/>
<rect x="203.07" y="107.72" width="5.46" height="13.36" fill="none" stroke="#f59a4a" stroke-width="0.8" rx="2.73" ry="3.82"/>
<rect x="203.7" y="109" width="4.19" height="10.79" fill="none" stroke="#ea4a4a" stroke-width="0.8" rx="2.1" ry="2.93"/>
<rect x="204.34" y="110.29" width="2.92" height="8.22" fill="none" stroke="#ea4a4a" stroke-width="0.8" rx="1.46" ry="2.04"/>
<rect x="204.97" y="111.57" width="1.65" height="5.65" fill="none" stroke="#ea4a4a" stroke-width="0.8" rx="0.83" ry="1.16"/>
<line x1="211" y1="106" x2="210.5" y2="122" stroke="#7ad85a" stroke-width="0.7"/>
<line x1="196" y1="137" x2="186" y2="143" stroke="#7ad85a" stroke-width="0.6"/>
<path d="M209,110.6 C212.5,110.92 222.33,111.85 230,112.5 C237.67,113.15 247.5,113.87 255,114.5 C262.5,115.13 269.17,115.65 275,116.3 C280.83,116.95 287.5,118.05 290,118.4" stroke="#3fe6f2" stroke-width="0.72" fill="none"/>
<path d="M210,116.8 C213.33,117.08 224.33,117.97 230,118.5 C235.67,119.03 239.83,119.78 244,120 C248.17,120.22 249.83,119.75 255,119.8 C260.17,119.85 269.17,120 275,120.3 C280.83,120.6 287.5,121.38 290,121.6" stroke="#3fe6f2" stroke-width="0.72" fill="none"/>
<path d="M211,121.5 C213.83,121.83 222.53,122.78 228,123.5 C233.47,124.22 243.8,125.13 243.8,125.8 C243.8,126.47 233.3,127.05 228,127.5 C222.7,127.95 214.67,128.33 212,128.5" stroke="#3fe6f2" stroke-width="0.72" fill="none"/>
<path d="M213,124.5 C215.83,124.63 225.83,125.08 230,125.3 C234.17,125.52 238,125.6 238,125.8 C238,126 234,126.37 230,126.5 C226,126.63 216.67,126.58 214,126.6" stroke="#3fe6f2" stroke-width="0.72" fill="none"/>
<path d="M205,131 C209.17,130.8 221.67,130.23 230,129.8 C238.33,129.37 247.5,128.73 255,128.4 C262.5,128.07 269.17,127.97 275,127.8 C280.83,127.63 287.5,127.47 290,127.4" stroke="#3fe6f2" stroke-width="0.72" fill="none"/>
<path d="M203,134.5 C207.5,134.25 221.33,133.42 230,133 C238.67,132.58 245,132.25 255,132 C265,131.75 284.17,131.58 290,131.5" stroke="#3fe6f2" stroke-width="0.72" fill="none"/>
<path d="M198,139 C201.67,138.58 211.33,137.07 220,136.5 C228.67,135.93 238.33,135.82 250,135.6 C261.67,135.38 283.33,135.27 290,135.2" stroke="#3fe6f2" stroke-width="0.72" fill="none"/>
<ellipse cx="266.7" cy="116.2" rx="2.3" ry="6.6" stroke="#3fe6f2" stroke-width="0.78" fill="none"/>
<ellipse cx="266.7" cy="116.2" rx="1.53" ry="4.4" stroke="#3fe6f2" stroke-width="0.78" fill="none"/>
<ellipse cx="266.7" cy="116.2" rx="0.77" ry="2.2" stroke="#3fe6f2" stroke-width="0.78" fill="none"/>
<path d="M181,140 C181.67,139.08 184.17,140.83 186,141.5 C187.83,142.17 190.33,142.75 192,144 C193.67,145.25 195.83,147.5 196,149 C196.17,150.5 194.67,152.5 193,153 C191.33,153.5 187.83,153 186,152 C184.17,151 182.83,149 182,147 C181.17,145 180.33,140.92 181,140Z" stroke="#3fe6f2" stroke-width="0.72" fill="none"/>
<path d="M184,143 C184.83,142.67 187.67,144.08 189,145 C190.33,145.92 192.17,147.67 192,148.5 C191.83,149.33 189.33,150.25 188,150 C186.67,149.75 184.67,148.17 184,147 C183.33,145.83 183.17,143.33 184,143Z" stroke="#3fe6f2" stroke-width="0.72" fill="none"/>
<ellipse cx="175.3" cy="140" rx="1.2" ry="2" stroke="#3fe6f2" stroke-width="0.72" fill="none"/>
<ellipse cx="205.8" cy="147.3" rx="2.6" ry="6.2" stroke="#3fe6f2" stroke-width="0.78" fill="none"/>
<ellipse cx="205.8" cy="147.3" rx="1.73" ry="4.13" stroke="#3fe6f2" stroke-width="0.78" fill="none"/>
<ellipse cx="205.8" cy="147.3" rx="0.87" ry="2.07" stroke="#3fe6f2" stroke-width="0.78" fill="none"/>
<path d="M197,134 C197.33,132.67 203.17,132.5 206,133 C208.83,133.5 213,135.67 214,137 C215,138.33 213.67,140.33 212,141 C210.33,141.67 206.5,142.17 204,141 C201.5,139.83 196.67,135.33 197,134Z" stroke="#3fe6f2" stroke-width="0.72" fill="none"/>
<ellipse cx="191.6" cy="144" rx="1.2" ry="1.2" stroke="#fcc44a" stroke-width="0.72" fill="none"/>
<ellipse cx="190.7" cy="168.5" rx="1.9" ry="16.5" stroke="#fcc44a" stroke-width="0.72" fill="none"/>
<ellipse cx="190.7" cy="166" rx="0.9" ry="10" stroke="#fcc44a" stroke-width="0.72" fill="none"/>
<line x1="190.7" y1="185" x2="190.7" y2="189.5" stroke="#fcc44a" stroke-width="0.6"/>
<ellipse cx="179.4" cy="163" rx="1" ry="2.2" stroke="#fcc44a" stroke-width="0.72" fill="none"/>
<rect x="172.8" y="182.3" width="10" height="13.5" fill="none" stroke="#222" stroke-width="0.9"/>
<ellipse cx="178" cy="189.2" rx="1.5" ry="4" stroke="#3fe6f2" stroke-width="0.72" fill="none"/>
<ellipse cx="178" cy="189.2" rx="0.7" ry="2.2" stroke="#3fe6f2" stroke-width="0.72" fill="none"/>
<ellipse cx="451.2" cy="154.8" rx="17" ry="2.2" stroke="#3fe6f2" stroke-width="0.55" fill="none"/>
<ellipse cx="451.2" cy="154.8" rx="10.2" ry="1.1" stroke="#3fe6f2" stroke-width="0.5" fill="none"/>
<ellipse cx="430" cy="158.5" rx="14" ry="2" stroke="#3fe6f2" stroke-width="0.55" fill="none"/>
<ellipse cx="430" cy="158.5" rx="8.4" ry="1" stroke="#3fe6f2" stroke-width="0.5" fill="none"/>
<ellipse cx="426" cy="165" rx="10" ry="2.2" stroke="#3fe6f2" stroke-width="0.55" fill="none"/>
<ellipse cx="426" cy="165" rx="6" ry="1.1" stroke="#3fe6f2" stroke-width="0.5" fill="none"/>
<ellipse cx="437" cy="170.2" rx="9" ry="1.6" stroke="#3fe6f2" stroke-width="0.55" fill="none"/>
<ellipse cx="437" cy="170.2" rx="5.4" ry="0.8" stroke="#3fe6f2" stroke-width="0.5" fill="none"/>
<ellipse cx="424" cy="176.3" rx="5.6" ry="1.4" stroke="#3fe6f2" stroke-width="0.55" fill="none"/>
<ellipse cx="424" cy="176.3" rx="3.36" ry="0.7" stroke="#3fe6f2" stroke-width="0.5" fill="none"/>
<ellipse cx="472.7" cy="176.3" rx="14.3" ry="1.8" stroke="#3fe6f2" stroke-width="0.55" fill="none"/>
<ellipse cx="472.7" cy="176.3" rx="8.58" ry="0.9" stroke="#3fe6f2" stroke-width="0.5" fill="none"/>
<ellipse cx="464.4" cy="183" rx="12.4" ry="1.6" stroke="#3fe6f2" stroke-width="0.55" fill="none"/>
<ellipse cx="464.4" cy="183" rx="7.44" ry="0.8" stroke="#3fe6f2" stroke-width="0.5" fill="none"/>
<ellipse cx="456.4" cy="188.6" rx="16.4" ry="1.8" stroke="#3fe6f2" stroke-width="0.55" fill="none"/>
<ellipse cx="456.4" cy="188.6" rx="9.84" ry="0.9" stroke="#3fe6f2" stroke-width="0.5" fill="none"/>
<ellipse cx="492" cy="155.2" rx="11" ry="2.2" stroke="#3fe6f2" stroke-width="0.55" fill="none"/>
<ellipse cx="492" cy="155.2" rx="6.6" ry="1.1" stroke="#3fe6f2" stroke-width="0.5" fill="none"/>
<ellipse cx="504.4" cy="159" rx="3.1" ry="1.1" stroke="#3fe6f2" stroke-width="0.55" fill="none"/>
<ellipse cx="504.4" cy="159" rx="1.86" ry="0.55" stroke="#3fe6f2" stroke-width="0.5" fill="none"/>
<ellipse cx="486" cy="163.5" rx="8" ry="1.6" stroke="#3fe6f2" stroke-width="0.55" fill="none"/>
<ellipse cx="486" cy="163.5" rx="4.8" ry="0.8" stroke="#3fe6f2" stroke-width="0.5" fill="none"/>
<ellipse cx="479.6" cy="142.2" rx="2.6" ry="0.9" stroke="#3fe6f2" stroke-width="0.55" fill="none"/>
<ellipse cx="479.6" cy="142.2" rx="1.56" ry="0.45" stroke="#3fe6f2" stroke-width="0.5" fill="none"/>
<ellipse cx="406.3" cy="188.7" rx="1.2" ry="0.6" stroke="#3fe6f2" stroke-width="0.55" fill="none"/>
<ellipse cx="406.3" cy="188.7" rx="0.72" ry="0.3" stroke="#3fe6f2" stroke-width="0.5" fill="none"/>
<ellipse cx="420.5" cy="154.7" rx="2" ry="0.8" stroke="#3fe6f2" stroke-width="0.55" fill="none"/>
<ellipse cx="420.5" cy="154.7" rx="1.2" ry="0.4" stroke="#3fe6f2" stroke-width="0.5" fill="none"/>
<ellipse cx="497" cy="171" rx="4" ry="1.2" stroke="#3fe6f2" stroke-width="0.55" fill="none"/>
<ellipse cx="497" cy="171" rx="2.4" ry="0.6" stroke="#3fe6f2" stroke-width="0.5" fill="none"/>
<ellipse cx="424.8" cy="190.2" rx="15.5" ry="5.9" stroke="#ffc850" stroke-width="0.9" fill="#fff" transform="rotate(-4 424.8 190.2)"/>
<ellipse cx="424.8" cy="190.2" rx="14.6" ry="5.15" stroke="#ff8a3a" stroke-width="0.8" fill="none" transform="rotate(-4 424.8 190.2)"/>
<ellipse cx="424.8" cy="190.2" rx="12.49" ry="4.07" stroke="#e84848" stroke-width="0.85" fill="none" transform="rotate(-4 424.8 190.2)"/>
<ellipse cx="424.8" cy="190.2" rx="9.11" ry="2.97" stroke="#e84848" stroke-width="0.85" fill="none" transform="rotate(-4 424.8 190.2)"/>
<ellipse cx="424.8" cy="190.2" rx="5.74" ry="1.87" stroke="#e84848" stroke-width="0.85" fill="none" transform="rotate(-4 424.8 190.2)"/>
<ellipse cx="424.8" cy="190.2" rx="2.36" ry="0.77" stroke="#e84848" stroke-width="0.85" fill="none" transform="rotate(-4 424.8 190.2)"/>
<ellipse cx="440.5" cy="180.2" rx="20.5" ry="6.9" stroke="#ffc850" stroke-width="0.9" fill="#fff" transform="rotate(-14 440.5 180.2)"/>
<ellipse cx="440.5" cy="180.2" rx="19.6" ry="6.15" stroke="#ff8a3a" stroke-width="0.8" fill="none" transform="rotate(-14 440.5 180.2)"/>
<ellipse cx="440.5" cy="180.2" rx="17.11" ry="5" stroke="#e84848" stroke-width="0.85" fill="none" transform="rotate(-14 440.5 180.2)"/>
<ellipse cx="440.5" cy="180.2" rx="12.49" ry="3.65" stroke="#e84848" stroke-width="0.85" fill="none" transform="rotate(-14 440.5 180.2)"/>
<ellipse cx="440.5" cy="180.2" rx="7.86" ry="2.3" stroke="#e84848" stroke-width="0.85" fill="none" transform="rotate(-14 440.5 180.2)"/>
<ellipse cx="440.5" cy="180.2" rx="3.24" ry="0.95" stroke="#e84848" stroke-width="0.85" fill="none" transform="rotate(-14 440.5 180.2)"/>
<ellipse cx="472.5" cy="157.2" rx="46" ry="8.7" stroke="#ffc850" stroke-width="0.9" fill="#fff" transform="rotate(-27 472.5 157.2)"/>
<ellipse cx="472.5" cy="157.2" rx="45.1" ry="7.95" stroke="#ff8a3a" stroke-width="0.8" fill="none" transform="rotate(-27 472.5 157.2)"/>
<ellipse cx="472.5" cy="157.2" rx="41.36" ry="6.77" stroke="#e84848" stroke-width="0.85" fill="none" transform="rotate(-27 472.5 157.2)"/>
<ellipse cx="472.5" cy="157.2" rx="32.56" ry="5.33" stroke="#e84848" stroke-width="0.85" fill="none" transform="rotate(-27 472.5 157.2)"/>
<ellipse cx="472.5" cy="157.2" rx="23.76" ry="3.89" stroke="#e84848" stroke-width="0.85" fill="none" transform="rotate(-27 472.5 157.2)"/>
<ellipse cx="472.5" cy="157.2" rx="14.96" ry="2.45" stroke="#e84848" stroke-width="0.85" fill="none" transform="rotate(-27 472.5 157.2)"/>
<ellipse cx="472.5" cy="157.2" rx="6.16" ry="1.01" stroke="#e84848" stroke-width="0.85" fill="none" transform="rotate(-27 472.5 157.2)"/>
<ellipse cx="497" cy="141.8" rx="19" ry="5.7" stroke="#ffc850" stroke-width="0.9" fill="none" transform="rotate(-18 497 141.8)"/>
<ellipse cx="497" cy="141.8" rx="18.1" ry="4.95" stroke="#ff8a3a" stroke-width="0.8" fill="none" transform="rotate(-18 497 141.8)"/>
<ellipse cx="497" cy="141.8" rx="15.3" ry="3.78" stroke="#e84848" stroke-width="0.85" fill="none" transform="rotate(-18 497 141.8)"/>
<ellipse cx="497" cy="141.8" rx="9.63" ry="2.38" stroke="#e84848" stroke-width="0.85" fill="none" transform="rotate(-18 497 141.8)"/>
<ellipse cx="497" cy="141.8" rx="3.97" ry="0.98" stroke="#e84848" stroke-width="0.85" fill="none" transform="rotate(-18 497 141.8)"/>
<ellipse cx="456.6" cy="122.3" rx="24" ry="2.3" stroke="#3fe6f2" stroke-width="0.78" fill="none"/>
<ellipse cx="456.6" cy="122.3" rx="16" ry="1.53" stroke="#3fe6f2" stroke-width="0.78" fill="none"/>
<ellipse cx="456.6" cy="122.3" rx="8" ry="0.77" stroke="#3fe6f2" stroke-width="0.78" fill="none"/>
<ellipse cx="500.5" cy="122.3" rx="13" ry="2.1" stroke="#3fe6f2" stroke-width="0.78" fill="none"/>
<ellipse cx="500.5" cy="122.3" rx="8.67" ry="1.4" stroke="#3fe6f2" stroke-width="0.78" fill="none"/>
<ellipse cx="500.5" cy="122.3" rx="4.33" ry="0.7" stroke="#3fe6f2" stroke-width="0.78" fill="none"/>
<path d="M526,119.5 C524.67,118.97 531.33,117.38 534,116.8 C536.67,116.22 540,115.88 542,116 C544,116.12 546,116.83 546,117.5 C546,118.17 545.33,119.67 542,120 C538.67,120.33 527.33,120.03 526,119.5Z" stroke="#fcc44a" stroke-width="0.55" fill="none"/>
<ellipse cx="528.4" cy="122.2" rx="14.6" ry="2.9" stroke="#fcc44a" stroke-width="0.78" fill="none"/>
<ellipse cx="528.4" cy="122.2" rx="11.68" ry="2.32" stroke="#f59a4a" stroke-width="0.78" fill="none"/>
<ellipse cx="528.4" cy="122.2" rx="8.76" ry="1.74" stroke="#ea4a4a" stroke-width="0.78" fill="none"/>
<ellipse cx="528.4" cy="122.2" rx="5.84" ry="1.16" stroke="#ea4a4a" stroke-width="0.78" fill="none"/>
<ellipse cx="528.4" cy="122.2" rx="2.92" ry="0.58" stroke="#ea4a4a" stroke-width="0.78" fill="none"/>
<ellipse cx="548.3" cy="122.1" rx="3" ry="1.5" stroke="#3fe6f2" stroke-width="0.7" fill="none"/>
<ellipse cx="548.3" cy="122.1" rx="1.5" ry="0.75" stroke="#3fe6f2" stroke-width="0.7" fill="none"/>
<ellipse cx="595.3" cy="122.1" rx="10" ry="2.1" stroke="#3fe6f2" stroke-width="0.7" fill="none"/>
<ellipse cx="595.3" cy="122.1" rx="6.67" ry="1.4" stroke="#3fe6f2" stroke-width="0.7" fill="none"/>
<ellipse cx="595.3" cy="122.1" rx="3.33" ry="0.7" stroke="#3fe6f2" stroke-width="0.7" fill="none"/>
<ellipse cx="528" cy="141.4" rx="12.5" ry="2.4" stroke="#3fe6f2" stroke-width="0.7" fill="none"/>
<ellipse cx="528" cy="141.4" rx="8.33" ry="1.6" stroke="#3fe6f2" stroke-width="0.7" fill="none"/>
<ellipse cx="528" cy="141.4" rx="4.17" ry="0.8" stroke="#3fe6f2" stroke-width="0.7" fill="none"/>
<ellipse cx="528.1" cy="155.8" rx="4" ry="1" stroke="#3fe6f2" stroke-width="0.7" fill="none"/>
<ellipse cx="528.1" cy="155.8" rx="2" ry="0.5" stroke="#3fe6f2" stroke-width="0.7" fill="none"/>
<rect x="518.5" y="161.6" width="25.9" height="6.7" fill="none" stroke="#222" stroke-width="0.9"/>
<ellipse cx="530.6" cy="165.2" rx="9" ry="1.9" stroke="#3fe6f2" stroke-width="0.7" fill="none"/>
<ellipse cx="530.6" cy="165.2" rx="6" ry="1.27" stroke="#3fe6f2" stroke-width="0.7" fill="none"/>
<ellipse cx="530.6" cy="165.2" rx="3" ry="0.63" stroke="#3fe6f2" stroke-width="0.7" fill="none"/>
<rect x="513" y="171.6" width="31.9" height="8.3" fill="none" stroke="#222" stroke-width="0.9"/>
<ellipse cx="528.4" cy="175.6" rx="11" ry="2.3" stroke="#3fe6f2" stroke-width="0.7" fill="none"/>
<ellipse cx="528.4" cy="175.6" rx="7.33" ry="1.53" stroke="#3fe6f2" stroke-width="0.7" fill="none"/>
<ellipse cx="528.4" cy="175.6" rx="3.67" ry="0.77" stroke="#3fe6f2" stroke-width="0.7" fill="none"/>
<ellipse cx="594" cy="81.3" rx="14.3" ry="2.3" stroke="#fcc44a" stroke-width="0.78" fill="none"/>
<ellipse cx="594" cy="81.3" rx="10.73" ry="1.72" stroke="#f59a4a" stroke-width="0.78" fill="none"/>
<ellipse cx="594" cy="81.3" rx="7.15" ry="1.15" stroke="#ea4a4a" stroke-width="0.78" fill="none"/>
<ellipse cx="594" cy="81.3" rx="3.58" ry="0.57" stroke="#ea4a4a" stroke-width="0.78" fill="none"/>
<rect x="513.9" y="75.5" width="28" height="9.6" fill="none" stroke="#222" stroke-width="0.9"/>
<ellipse cx="528.6" cy="81.2" rx="11" ry="1.6" stroke="#3fe6f2" stroke-width="0.7" fill="none"/>
<ellipse cx="528.6" cy="81.2" rx="7.33" ry="1.07" stroke="#3fe6f2" stroke-width="0.7" fill="none"/>
<ellipse cx="528.6" cy="81.2" rx="3.67" ry="0.53" stroke="#3fe6f2" stroke-width="0.7" fill="none"/>
<ellipse cx="612.4" cy="80.6" rx="1.2" ry="0.6" stroke="#3fe6f2" stroke-width="0.55" fill="none"/>
<text x="-0.8" y="6.2" font-size="12">a</text>
<text x="89" y="54.5" font-size="9.3" text-anchor="middle">8</text>
<text x="153.5" y="52.2" font-size="9.3" text-anchor="middle">4</text>
<text x="177.5" y="46.7" font-size="9.3" text-anchor="middle" textLength="14.8" lengthAdjust="spacingAndGlyphs">a, e</text>
<text x="192.4" y="22.4" font-size="9.3" text-anchor="middle" textLength="27.5" lengthAdjust="spacingAndGlyphs">1, 2, 3,</text>
<text x="192.4" y="33.6" font-size="9.3" text-anchor="middle" textLength="26" lengthAdjust="spacingAndGlyphs">b, c, d</text>
<text x="207.3" y="53" font-size="9.3" text-anchor="middle">5</text>
<text x="267.8" y="50.2" font-size="9.3" text-anchor="middle">6</text>
<text x="46.3" y="79.8" font-size="9.3" text-anchor="middle">6</text>
<text x="37.8" y="113.9" font-size="9.3" text-anchor="middle">5</text>
<text x="18.3" y="123.3" font-size="9.3" text-anchor="middle" textLength="25" lengthAdjust="spacingAndGlyphs">1, 2, 3</text>
<text x="17.7" y="133.5" font-size="9.3" text-anchor="middle" textLength="26" lengthAdjust="spacingAndGlyphs">b, c, d</text>
<text x="34.4" y="140.4" font-size="9.3" text-anchor="middle" textLength="15.5" lengthAdjust="spacingAndGlyphs">a, e</text>
<text x="43.9" y="152.3" font-size="9.3" text-anchor="middle">4</text>
<text x="47.6" y="193.3" font-size="9.3" text-anchor="middle">8</text>
<text x="293.4" y="57.6" font-size="7.4" textLength="11.6" lengthAdjust="spacingAndGlyphs">6.4</text>
<text x="293.4" y="71.7" font-size="7.4" textLength="11.6" lengthAdjust="spacingAndGlyphs">6.6</text>
<text x="293.4" y="85.8" font-size="7.4" textLength="11.6" lengthAdjust="spacingAndGlyphs">6.8</text>
<text x="293.4" y="99.9" font-size="7.4" textLength="11.6" lengthAdjust="spacingAndGlyphs">7.0</text>
<text x="293.4" y="114" font-size="7.4" textLength="11.6" lengthAdjust="spacingAndGlyphs">7.2</text>
<text x="293.4" y="128.1" font-size="7.4" textLength="11.6" lengthAdjust="spacingAndGlyphs">7.4</text>
<text x="293.4" y="142.2" font-size="7.4" textLength="11.6" lengthAdjust="spacingAndGlyphs">7.6</text>
<text x="293.4" y="156.3" font-size="7.4" textLength="11.6" lengthAdjust="spacingAndGlyphs">7.8</text>
<text x="293.4" y="170.4" font-size="7.4" textLength="11.6" lengthAdjust="spacingAndGlyphs">8.0</text>
<text x="293.4" y="184.5" font-size="7.4" textLength="11.6" lengthAdjust="spacingAndGlyphs">8.2</text>
<text x="293.4" y="198.6" font-size="7.4" textLength="11.6" lengthAdjust="spacingAndGlyphs">8.4</text>
<text x="67.4" y="221" font-size="7.4" text-anchor="middle" textLength="11.6" lengthAdjust="spacingAndGlyphs">8.4</text>
<text x="89.66" y="221" font-size="7.4" text-anchor="middle" textLength="11.6" lengthAdjust="spacingAndGlyphs">8.2</text>
<text x="111.92" y="221" font-size="7.4" text-anchor="middle" textLength="11.6" lengthAdjust="spacingAndGlyphs">8.0</text>
<text x="134.18" y="221" font-size="7.4" text-anchor="middle" textLength="11.6" lengthAdjust="spacingAndGlyphs">7.8</text>
<text x="156.44" y="221" font-size="7.4" text-anchor="middle" textLength="11.6" lengthAdjust="spacingAndGlyphs">7.6</text>
<text x="178.7" y="221" font-size="7.4" text-anchor="middle" textLength="11.6" lengthAdjust="spacingAndGlyphs">7.4</text>
<text x="200.96" y="221" font-size="7.4" text-anchor="middle" textLength="11.6" lengthAdjust="spacingAndGlyphs">7.2</text>
<text x="223.22" y="221" font-size="7.4" text-anchor="middle" textLength="11.6" lengthAdjust="spacingAndGlyphs">7.0</text>
<text x="245.48" y="221" font-size="7.4" text-anchor="middle" textLength="11.6" lengthAdjust="spacingAndGlyphs">6.8</text>
<text x="267.74" y="221" font-size="7.4" text-anchor="middle" textLength="11.6" lengthAdjust="spacingAndGlyphs">6.6</text>
<text x="290" y="221" font-size="7.4" text-anchor="middle" textLength="11.6" lengthAdjust="spacingAndGlyphs">6.4</text>
<text x="174" y="228.6" font-size="7.6" text-anchor="middle" textLength="30" lengthAdjust="spacingAndGlyphs">δ (ppm)</text>
<text x="312.4" y="136.3" font-size="7.6" text-anchor="middle" textLength="29.5" lengthAdjust="spacingAndGlyphs" transform="rotate(-90 312.4 136.3)">δ (ppm)</text>
<text x="176" y="242.2" font-size="9.4" text-anchor="middle" font-weight="normal" fill="#111" textLength="56.3" lengthAdjust="spacingAndGlyphs" stroke="#111" stroke-width="0.28"><tspan font-style="italic">cis-cis</tspan>-TWG1</text>
<text x="178.7" y="207.4" font-size="8.6" text-anchor="middle" textLength="57" lengthAdjust="spacingAndGlyphs">H(a),H(e)/H(8)</text>
<text x="470.1" y="20.7" font-size="9.3" text-anchor="middle" fill="#ee1d23">2'</text>
<text x="478.3" y="20.7" font-size="9.3" text-anchor="middle" fill="#1ca84a">3</text>
<text x="456.1" y="27.3" font-size="9.3" text-anchor="middle">2''</text>
<text x="467.4" y="32.1" font-size="9.3" text-anchor="middle" fill="#1ca84a">c</text>
<text x="477.6" y="32.1" font-size="9.3" text-anchor="middle">c''</text>
<text x="488.5" y="27.3" font-size="9.3" text-anchor="middle" fill="#1ca84a">2</text>
<text x="436.8" y="40.5" font-size="9.3" text-anchor="middle" fill="#ee1d23">5'</text>
<text x="456.1" y="37.8" font-size="9.3" text-anchor="middle" fill="#ee1d23">3'</text>
<text x="488.5" y="37.8" font-size="9.3" text-anchor="middle" fill="#ee1d23">6'</text>
<text x="469.2" y="42.6" font-size="9.3" text-anchor="middle" fill="#1ca84a">b</text>
<text x="477.1" y="42.6" font-size="9.3" text-anchor="middle" fill="#1ca84a">d</text>
<text x="416.6" y="49.2" font-size="9.3" text-anchor="middle" fill="#ee1d23">4'</text>
<text x="437.7" y="51" font-size="9.3" text-anchor="middle">5''</text>
<text x="446.4" y="48.7" font-size="9.3" text-anchor="middle" fill="#1ca84a">a</text>
<text x="456.1" y="49.2" font-size="9.3" text-anchor="middle">3''</text>
<text x="466.2" y="53.6" font-size="9.3" text-anchor="middle">b''</text>
<text x="478" y="53.6" font-size="9.3" text-anchor="middle">d''</text>
<text x="489.3" y="49.2" font-size="9.3" text-anchor="middle">6''</text>
<text x="502.5" y="47.3" font-size="9.3" text-anchor="middle" fill="#ee1d23">b'</text>
<text x="417.5" y="59.7" font-size="9.3" text-anchor="middle">4''</text>
<text x="427.2" y="58" font-size="9.3" text-anchor="middle" fill="#1ca84a">4</text>
<text x="436.8" y="61.8" font-size="9.3" text-anchor="middle" fill="#ee1d23">1'</text>
<text x="447.7" y="59.7" font-size="9.3" text-anchor="middle" fill="#1ca84a">e</text>
<text x="456.4" y="59.7" font-size="9.3" text-anchor="middle" fill="#1ca84a">5</text>
<text x="488.1" y="60.1" font-size="9.3" text-anchor="middle">a''</text>
<text x="501.6" y="58.3" font-size="9.3" text-anchor="middle" fill="#ee1d23">c'</text>
<text x="437.7" y="73.2" font-size="9.3" text-anchor="middle">1''</text>
<text x="447.7" y="70.1" font-size="9.3" text-anchor="middle" fill="#1ca84a">1</text>
<text x="456.1" y="70.1" font-size="9.3" text-anchor="middle" fill="#1ca84a">8</text>
<text x="488.5" y="70.6" font-size="9.3" text-anchor="middle">e''</text>
<text x="501.3" y="68.8" font-size="9.3" text-anchor="middle" fill="#ee1d23">d'</text>
<text x="528.6" y="33.3" font-size="9.3" text-anchor="middle" fill="#1ca84a">6</text>
<text x="528.6" y="44.2" font-size="9.3" text-anchor="middle">8''</text>
<text x="528.6" y="55" font-size="9.3" text-anchor="middle" fill="#ee1d23">a'</text>
<text x="528.6" y="66.6" font-size="9.3" text-anchor="middle" fill="#ee1d23">e'</text>
<text x="593" y="59.5" font-size="9.3" text-anchor="middle" fill="#ee1d23">8'</text>
<text x="378" y="81.4" font-size="9.3" text-anchor="middle" fill="#ee1d23">8'</text>
<text x="345" y="122.3" font-size="9.3" text-anchor="middle" fill="#1ca84a">6</text>
<text x="354.6" y="122.3" font-size="9.3" text-anchor="middle">8''</text>
<text x="364.7" y="122.3" font-size="9.3" text-anchor="middle" fill="#ee1d23">a'</text>
<text x="374.1" y="122.3" font-size="9.3" text-anchor="middle" fill="#ee1d23">e'</text>
<text x="392" y="144.5" font-size="9.3" text-anchor="middle" fill="#ee1d23">b'</text>
<text x="401.5" y="144.5" font-size="9.3" text-anchor="middle" fill="#ee1d23">c'</text>
<text x="409.3" y="144.5" font-size="9.3" text-anchor="middle" fill="#ee1d23">d'</text>
<text x="330.5" y="152.2" font-size="9.3" text-anchor="middle" fill="#1ca84a">2</text>
<text x="339.1" y="152.2" font-size="9.3" text-anchor="middle" fill="#ee1d23">6'</text>
<text x="348.5" y="152.2" font-size="9.3" text-anchor="middle">6''</text>
<text x="361" y="152.2" font-size="9.3" text-anchor="middle">a''</text>
<text x="373" y="152.2" font-size="9.3" text-anchor="middle">e''</text>
<text x="321.4" y="162.6" font-size="9.3" text-anchor="middle" fill="#ee1d23">2'</text>
<text x="330.5" y="162.6" font-size="9.3" text-anchor="middle" fill="#1ca84a">3</text>
<text x="337.8" y="162.6" font-size="9.3" text-anchor="middle" fill="#1ca84a">c</text>
<text x="347.6" y="162.6" font-size="9.3" text-anchor="middle">c''</text>
<text x="357.2" y="162.6" font-size="9.3" text-anchor="middle" fill="#1ca84a">b</text>
<text x="365.7" y="162.6" font-size="9.3" text-anchor="middle" fill="#1ca84a">d</text>
<text x="375.1" y="162.6" font-size="9.3" text-anchor="middle">b''</text>
<text x="388" y="162.6" font-size="9.3" text-anchor="middle">d''</text>
<text x="335.9" y="170.1" font-size="9.3" text-anchor="middle">2''</text>
<text x="346" y="170.1" font-size="9.3" text-anchor="middle" fill="#ee1d23">3'</text>
<text x="357.8" y="170.1" font-size="9.3" text-anchor="middle">3''</text>
<text x="367.9" y="170.1" font-size="9.3" text-anchor="middle" fill="#1ca84a">5</text>
<text x="375.3" y="170.1" font-size="9.3" text-anchor="middle" fill="#1ca84a">8</text>
<text x="391.5" y="173.9" font-size="9.3" text-anchor="middle" fill="#1ca84a">a</text>
<text x="398.5" y="173.9" font-size="9.3" text-anchor="middle" fill="#1ca84a">e</text>
<text x="405.3" y="173.9" font-size="9.3" text-anchor="middle" fill="#1ca84a">1</text>
<text x="337.5" y="181.9" font-size="9.3" text-anchor="middle">5'</text>
<text x="348.1" y="181.9" font-size="9.3" text-anchor="middle">5''</text>
<text x="358.8" y="181.9" font-size="9.3" text-anchor="middle" fill="#ee1d23">1'</text>
<text x="370" y="181.9" font-size="9.3" text-anchor="middle">1''</text>
<text x="392" y="184.5" font-size="9.3" text-anchor="middle" fill="#1ca84a">4</text>
<text x="363.4" y="195.7" font-size="9.3" text-anchor="middle" fill="#ee1d23">4'</text>
<text x="374.8" y="195.7" font-size="9.3" text-anchor="middle">4''</text>
<text x="620.6" y="62.2" font-size="7.4" textLength="11.6" lengthAdjust="spacingAndGlyphs">5.8</text>
<text x="620.6" y="74.65" font-size="7.4" textLength="11.6" lengthAdjust="spacingAndGlyphs">6.0</text>
<text x="620.6" y="87.1" font-size="7.4" textLength="11.6" lengthAdjust="spacingAndGlyphs">6.2</text>
<text x="620.6" y="99.55" font-size="7.4" textLength="11.6" lengthAdjust="spacingAndGlyphs">6.4</text>
<text x="620.6" y="112" font-size="7.4" textLength="11.6" lengthAdjust="spacingAndGlyphs">6.6</text>
<text x="620.6" y="124.45" font-size="7.4" textLength="11.6" lengthAdjust="spacingAndGlyphs">6.8</text>
<text x="620.6" y="136.9" font-size="7.4" textLength="11.6" lengthAdjust="spacingAndGlyphs">7.0</text>
<text x="620.6" y="149.35" font-size="7.4" textLength="11.6" lengthAdjust="spacingAndGlyphs">7.2</text>
<text x="620.6" y="161.8" font-size="7.4" textLength="11.6" lengthAdjust="spacingAndGlyphs">7.4</text>
<text x="620.6" y="174.25" font-size="7.4" textLength="11.6" lengthAdjust="spacingAndGlyphs">7.6</text>
<text x="620.6" y="186.7" font-size="7.4" textLength="11.6" lengthAdjust="spacingAndGlyphs">7.8</text>
<text x="620.6" y="199.15" font-size="7.4" textLength="11.6" lengthAdjust="spacingAndGlyphs">8.0</text>
<text x="403.2" y="221" font-size="7.4" text-anchor="middle" textLength="11.6" lengthAdjust="spacingAndGlyphs">8.0</text>
<text x="422.7" y="221" font-size="7.4" text-anchor="middle" textLength="11.6" lengthAdjust="spacingAndGlyphs">7.8</text>
<text x="442.2" y="221" font-size="7.4" text-anchor="middle" textLength="11.6" lengthAdjust="spacingAndGlyphs">7.6</text>
<text x="461.7" y="221" font-size="7.4" text-anchor="middle" textLength="11.6" lengthAdjust="spacingAndGlyphs">7.4</text>
<text x="481.2" y="221" font-size="7.4" text-anchor="middle" textLength="11.6" lengthAdjust="spacingAndGlyphs">7.2</text>
<text x="500.7" y="221" font-size="7.4" text-anchor="middle" textLength="11.6" lengthAdjust="spacingAndGlyphs">7.0</text>
<text x="520.2" y="221" font-size="7.4" text-anchor="middle" textLength="11.6" lengthAdjust="spacingAndGlyphs">6.8</text>
<text x="539.7" y="221" font-size="7.4" text-anchor="middle" textLength="11.6" lengthAdjust="spacingAndGlyphs">6.6</text>
<text x="559.2" y="221" font-size="7.4" text-anchor="middle" textLength="11.6" lengthAdjust="spacingAndGlyphs">6.4</text>
<text x="578.7" y="221" font-size="7.4" text-anchor="middle" textLength="11.6" lengthAdjust="spacingAndGlyphs">6.2</text>
<text x="598.2" y="221" font-size="7.4" text-anchor="middle" textLength="11.6" lengthAdjust="spacingAndGlyphs">6.0</text>
<text x="617.7" y="221" font-size="7.4" text-anchor="middle" textLength="11.6" lengthAdjust="spacingAndGlyphs">5.8</text>
<text x="505.1" y="228.6" font-size="7.6" text-anchor="middle" textLength="30" lengthAdjust="spacingAndGlyphs">δ (ppm)</text>
<text x="639.8" y="138.2" font-size="7.6" text-anchor="middle" textLength="29" lengthAdjust="spacingAndGlyphs" transform="rotate(-90 639.8 138.2)">δ (ppm)</text>
<text x="510.8" y="242.4" font-size="9.4" text-anchor="middle" font-weight="normal" fill="#111" textLength="64" lengthAdjust="spacingAndGlyphs" stroke="#111" stroke-width="0.28"><tspan font-style="italic">cis-trans</tspan>-TWG1</text>
<text x="533.4" y="101" font-size="8.6" text-anchor="middle" textLength="65" lengthAdjust="spacingAndGlyphs">H(<tspan fill="#ee1d23">a'</tspan>),H(<tspan fill="#ee1d23">e'</tspan>)/H(<tspan fill="#ee1d23">8'</tspan>)</text>
<text x="569.3" y="170.6" font-size="8.6" text-anchor="middle" textLength="42" lengthAdjust="spacingAndGlyphs">H(<tspan fill="#1ca84a">8</tspan>)/H(8'')</text>
<text x="568.3" y="183.2" font-size="8.6" text-anchor="middle" textLength="42" lengthAdjust="spacingAndGlyphs">H(<tspan fill="#1ca84a">6</tspan>)/H(1'')</text>
<text x="-0.6" y="252.8" font-size="12">b</text>
<line x1="38.2" y1="323.03" x2="85" y2="259.27" stroke="#1a1a1a" stroke-width="0.95"/>
<polygon points="36.9,324.8 39.56,323.03 37.79,321.73" fill="#1a1a1a" stroke="none" stroke-width="0.8"/>
<line x1="40.12" y1="327.17" x2="33.68" y2="322.43" stroke="#1a1a1a" stroke-width="0.95"/>
<polygon points="86.3,257.5 85.41,260.57 83.64,259.27" fill="#1a1a1a" stroke="none" stroke-width="0.8"/>
<line x1="89.52" y1="259.87" x2="83.08" y2="255.13" stroke="#1a1a1a" stroke-width="0.95"/>
<line x1="107.96" y1="257.67" x2="151.04" y2="327.53" stroke="#1a1a1a" stroke-width="0.95"/>
<polygon points="106.8,255.8 107.44,258.93 109.31,257.78" fill="#1a1a1a" stroke="none" stroke-width="0.8"/>
<line x1="103.4" y1="257.9" x2="110.2" y2="253.7" stroke="#1a1a1a" stroke-width="0.95"/>
<polygon points="152.2,329.4 149.69,327.42 151.56,326.27" fill="#1a1a1a" stroke="none" stroke-width="0.8"/>
<line x1="148.8" y1="331.5" x2="155.6" y2="327.3" stroke="#1a1a1a" stroke-width="0.95"/>
<line x1="52.8" y1="335.2" x2="140.2" y2="335.2" stroke="#1a1a1a" stroke-width="0.95"/>
<polygon points="50.6,335.2 53.6,336.3 53.6,334.1" fill="#1a1a1a" stroke="none" stroke-width="0.8"/>
<line x1="50.6" y1="339.2" x2="50.6" y2="331.2" stroke="#1a1a1a" stroke-width="0.95"/>
<polygon points="142.4,335.2 139.4,336.3 139.4,334.1" fill="#1a1a1a" stroke="none" stroke-width="0.8"/>
<line x1="142.4" y1="339.2" x2="142.4" y2="331.2" stroke="#1a1a1a" stroke-width="0.95"/>
<text x="58.3" y="288.2" font-size="9.3" text-anchor="middle" textLength="33" lengthAdjust="spacingAndGlyphs" transform="rotate(-53.7 58.3 288.2)">1.13 nm</text>
<text x="130.5" y="288.4" font-size="9.3" text-anchor="middle" textLength="33" lengthAdjust="spacingAndGlyphs" transform="rotate(58.5 130.5 288.4)">1.13 nm</text>
<text x="96.4" y="346.8" font-size="8.6" text-anchor="middle" textLength="33.5" lengthAdjust="spacingAndGlyphs">1.08 nm</text>
<text x="93.6" y="360.4" font-size="9.4" text-anchor="middle" font-weight="normal" fill="#111" textLength="65.5" lengthAdjust="spacingAndGlyphs" stroke="#111" stroke-width="0.28"><tspan font-style="italic">cis-trans</tspan>-TWG1</text>
<line x1="193.71" y1="323.43" x2="240.99" y2="259.57" stroke="#1a1a1a" stroke-width="0.95"/>
<polygon points="192.4,325.2 195.07,323.44 193.3,322.13" fill="#1a1a1a" stroke="none" stroke-width="0.8"/>
<line x1="195.61" y1="327.58" x2="189.19" y2="322.82" stroke="#1a1a1a" stroke-width="0.95"/>
<polygon points="242.3,257.8 241.4,260.87 239.63,259.56" fill="#1a1a1a" stroke="none" stroke-width="0.8"/>
<line x1="245.51" y1="260.18" x2="239.09" y2="255.42" stroke="#1a1a1a" stroke-width="0.95"/>
<line x1="263.76" y1="257.47" x2="308.04" y2="328.73" stroke="#1a1a1a" stroke-width="0.95"/>
<polygon points="262.6,255.6 263.25,258.73 265.12,257.57" fill="#1a1a1a" stroke="none" stroke-width="0.8"/>
<line x1="259.2" y1="257.71" x2="266" y2="253.49" stroke="#1a1a1a" stroke-width="0.95"/>
<polygon points="309.2,330.6 306.68,328.63 308.55,327.47" fill="#1a1a1a" stroke="none" stroke-width="0.8"/>
<line x1="305.8" y1="332.71" x2="312.6" y2="328.49" stroke="#1a1a1a" stroke-width="0.95"/>
<line x1="208.6" y1="335.9" x2="295.1" y2="335.9" stroke="#1a1a1a" stroke-width="0.95"/>
<polygon points="206.4,335.9 209.4,337 209.4,334.8" fill="#1a1a1a" stroke="none" stroke-width="0.8"/>
<line x1="206.4" y1="339.9" x2="206.4" y2="331.9" stroke="#1a1a1a" stroke-width="0.95"/>
<polygon points="297.3,335.9 294.3,337 294.3,334.8" fill="#1a1a1a" stroke="none" stroke-width="0.8"/>
<line x1="297.3" y1="339.9" x2="297.3" y2="331.9" stroke="#1a1a1a" stroke-width="0.95"/>
<text x="214" y="289.5" font-size="9.3" text-anchor="middle" textLength="33" lengthAdjust="spacingAndGlyphs" transform="rotate(-53.5 214 289.5)">1.11 nm</text>
<text x="286.2" y="290.5" font-size="9.3" text-anchor="middle" textLength="33" lengthAdjust="spacingAndGlyphs" transform="rotate(58 286.2 290.5)">1.13 nm</text>
<text x="252.4" y="346.8" font-size="8.6" text-anchor="middle" textLength="33" lengthAdjust="spacingAndGlyphs">1.11 nm</text>
<text x="249.5" y="360.2" font-size="9.4" text-anchor="middle" font-weight="normal" fill="#111" textLength="57" lengthAdjust="spacingAndGlyphs" stroke="#111" stroke-width="0.28"><tspan font-style="italic">cis-cis</tspan>-TWG1</text>
<line x1="361.54" y1="274.59" x2="384.86" y2="324.21" stroke="#1a1a1a" stroke-width="0.95"/>
<polygon points="360.6,272.6 360.88,275.78 362.87,274.85" fill="#1a1a1a" stroke="none" stroke-width="0.8"/>
<line x1="356.98" y1="274.3" x2="364.22" y2="270.9" stroke="#1a1a1a" stroke-width="0.95"/>
<polygon points="385.8,326.2 383.53,323.95 385.52,323.02" fill="#1a1a1a" stroke="none" stroke-width="0.8"/>
<line x1="382.18" y1="327.9" x2="389.42" y2="324.5" stroke="#1a1a1a" stroke-width="0.95"/>
<line x1="391.1" y1="331.7" x2="474" y2="331.7" stroke="#1a1a1a" stroke-width="0.95"/>
<polygon points="388.9,331.7 391.9,332.8 391.9,330.6" fill="#1a1a1a" stroke="none" stroke-width="0.8"/>
<line x1="388.9" y1="335.7" x2="388.9" y2="327.7" stroke="#1a1a1a" stroke-width="0.95"/>
<polygon points="476.2,331.7 473.2,332.8 473.2,330.6" fill="#1a1a1a" stroke="none" stroke-width="0.8"/>
<line x1="476.2" y1="335.7" x2="476.2" y2="327.7" stroke="#1a1a1a" stroke-width="0.95"/>
<text x="369.6" y="299.5" font-size="9.3" text-anchor="middle" textLength="33" lengthAdjust="spacingAndGlyphs" transform="rotate(-115.3 369.6 299.5)">0.77 nm</text>
<text x="432.5" y="341.2" font-size="8.6" text-anchor="middle" textLength="33" lengthAdjust="spacingAndGlyphs">1.09 nm</text>
<text x="422" y="357.8" font-size="9.4" text-anchor="middle" font-weight="normal" fill="#111" textLength="51" lengthAdjust="spacingAndGlyphs" stroke="#111" stroke-width="0.28"><tspan font-style="italic">meso</tspan>-DWG1</text>
<line x1="529.38" y1="276.02" x2="544.02" y2="329.28" stroke="#1a1a1a" stroke-width="0.95"/>
<polygon points="528.8,273.9 528.53,277.08 530.66,276.5" fill="#1a1a1a" stroke="none" stroke-width="0.8"/>
<line x1="524.94" y1="274.96" x2="532.66" y2="272.84" stroke="#1a1a1a" stroke-width="0.95"/>
<polygon points="544.6,331.4 542.74,328.8 544.87,328.22" fill="#1a1a1a" stroke="none" stroke-width="0.8"/>
<line x1="540.74" y1="332.46" x2="548.46" y2="330.34" stroke="#1a1a1a" stroke-width="0.95"/>
<line x1="554.5" y1="334.2" x2="640.2" y2="334.2" stroke="#1a1a1a" stroke-width="0.95"/>
<polygon points="552.3,334.2 555.3,335.3 555.3,333.1" fill="#1a1a1a" stroke="none" stroke-width="0.8"/>
<line x1="552.3" y1="338.2" x2="552.3" y2="330.2" stroke="#1a1a1a" stroke-width="0.95"/>
<polygon points="642.4,334.2 639.4,335.3 639.4,333.1" fill="#1a1a1a" stroke="none" stroke-width="0.8"/>
<line x1="642.4" y1="338.2" x2="642.4" y2="330.2" stroke="#1a1a1a" stroke-width="0.95"/>
<text x="534.6" y="301.5" font-size="9.3" text-anchor="middle" textLength="29" lengthAdjust="spacingAndGlyphs" transform="rotate(-105.4 534.6 301.5)">0.70nm</text>
<text x="602.5" y="344.4" font-size="8.6" text-anchor="middle" textLength="33" lengthAdjust="spacingAndGlyphs">1.09 nm</text>
<text x="591.3" y="357.3" font-size="9.4" text-anchor="middle" font-weight="normal" fill="#111" textLength="42.7" lengthAdjust="spacingAndGlyphs" stroke="#111" stroke-width="0.28"><tspan font-style="italic">rac</tspan>-DWG1</text>
<line x1="99.5" y1="261.8" x2="106" y2="262.5" stroke="#9a58d2" stroke-width="1.3"/>
<line x1="106" y1="262.5" x2="105.3" y2="269.7" stroke="#9a58d2" stroke-width="1.3"/>
<line x1="105.3" y1="269.7" x2="98.4" y2="276.2" stroke="#9a58d2" stroke-width="1.3"/>
<line x1="98.4" y1="276.2" x2="91.8" y2="275.5" stroke="#9a58d2" stroke-width="1.3"/>
<line x1="91.8" y1="275.5" x2="92.9" y2="268.2" stroke="#9a58d2" stroke-width="1.3"/>
<line x1="92.9" y1="268.2" x2="99.5" y2="261.8" stroke="#9a58d2" stroke-width="1.3"/>
<line x1="91.8" y1="275.5" x2="98.4" y2="276.2" stroke="#9a58d2" stroke-width="1.3"/>
<line x1="98.4" y1="276.2" x2="96.2" y2="285" stroke="#9a58d2" stroke-width="1.3"/>
<line x1="96.2" y1="285" x2="88.5" y2="289" stroke="#9a58d2" stroke-width="1.3"/>
<line x1="88.5" y1="289" x2="86.3" y2="283.9" stroke="#9a58d2" stroke-width="1.3"/>
<line x1="86.3" y1="283.9" x2="91.8" y2="275.5" stroke="#9a58d2" stroke-width="1.3"/>
<line x1="87" y1="271.1" x2="90.3" y2="272.6" stroke="#111" stroke-width="1.3"/>
<line x1="90.3" y1="272.6" x2="91.8" y2="282.1" stroke="#111" stroke-width="1.3"/>
<line x1="91.8" y1="282.1" x2="90.7" y2="289.4" stroke="#111" stroke-width="1.3"/>
<line x1="90.7" y1="289.4" x2="86.7" y2="287.2" stroke="#111" stroke-width="1.3"/>
<line x1="86.7" y1="287.2" x2="85.2" y2="277.3" stroke="#111" stroke-width="1.3"/>
<line x1="85.2" y1="277.3" x2="87" y2="271.1" stroke="#111" stroke-width="1.3"/>
<line x1="80.1" y1="287.3" x2="76" y2="296.1" stroke="#9a58d2" stroke-width="1.3"/>
<line x1="76" y1="296.1" x2="78.9" y2="301.9" stroke="#9a58d2" stroke-width="1.3"/>
<line x1="78.9" y1="301.9" x2="84.2" y2="297.8" stroke="#9a58d2" stroke-width="1.3"/>
<line x1="84.2" y1="297.8" x2="88.5" y2="289" stroke="#9a58d2" stroke-width="1.3"/>
<line x1="88.5" y1="289" x2="86.3" y2="283.9" stroke="#9a58d2" stroke-width="1.3"/>
<line x1="86.3" y1="283.9" x2="80.1" y2="287.3" stroke="#9a58d2" stroke-width="1.3"/>
<line x1="78.9" y1="301.9" x2="77.75" y2="307.15" stroke="#9a58d2" stroke-width="1.3"/>
<line x1="77.75" y1="307.15" x2="76.6" y2="312.4" stroke="#1a9ad8" stroke-width="1.3"/>
<line x1="96.2" y1="285" x2="104.6" y2="291.4" stroke="#9a58d2" stroke-width="1.3"/>
<line x1="104.6" y1="291.4" x2="111.1" y2="290.8" stroke="#9a58d2" stroke-width="1.3"/>
<line x1="111.1" y1="290.8" x2="116.9" y2="297.3" stroke="#9a58d2" stroke-width="1.3"/>
<line x1="116.9" y1="297.3" x2="114" y2="304.5" stroke="#9a58d2" stroke-width="1.3"/>
<line x1="114" y1="304.5" x2="107.5" y2="305" stroke="#9a58d2" stroke-width="1.3"/>
<line x1="107.5" y1="305" x2="105.2" y2="297.8" stroke="#9a58d2" stroke-width="1.3"/>
<line x1="105.2" y1="297.8" x2="104.6" y2="291.4" stroke="#9a58d2" stroke-width="1.3"/>
<line x1="114" y1="304.5" x2="111.1" y2="315.4" stroke="#9a58d2" stroke-width="1.3"/>
<line x1="111.1" y1="315.4" x2="106.7" y2="317.45" stroke="#9a58d2" stroke-width="1.3"/>
<line x1="106.7" y1="317.45" x2="102.3" y2="319.5" stroke="#1a9ad8" stroke-width="1.3"/>
<line x1="119.8" y1="320" x2="126" y2="315.5" stroke="#9a58d2" stroke-width="1.3"/>
<line x1="126" y1="315.5" x2="131.5" y2="319.5" stroke="#9a58d2" stroke-width="1.3"/>
<line x1="131.5" y1="319.5" x2="132.1" y2="325.9" stroke="#9a58d2" stroke-width="1.3"/>
<line x1="132.1" y1="325.9" x2="128.6" y2="331.7" stroke="#9a58d2" stroke-width="1.3"/>
<line x1="128.6" y1="331.7" x2="123.3" y2="327.6" stroke="#9a58d2" stroke-width="1.3"/>
<line x1="123.3" y1="327.6" x2="119.8" y2="320" stroke="#9a58d2" stroke-width="1.3"/>
<line x1="111.1" y1="315.4" x2="119.8" y2="320" stroke="#9a58d2" stroke-width="1.3"/>
<line x1="119.2" y1="306" x2="122.7" y2="306.6" stroke="#dc1010" stroke-width="1.3"/>
<line x1="122.7" y1="306.6" x2="121.6" y2="314.2" stroke="#dc1010" stroke-width="1.3"/>
<line x1="121.6" y1="314.2" x2="116.9" y2="322.4" stroke="#dc1010" stroke-width="1.3"/>
<line x1="116.9" y1="322.4" x2="113.4" y2="321.2" stroke="#dc1010" stroke-width="1.3"/>
<line x1="113.4" y1="321.2" x2="114.6" y2="313.6" stroke="#dc1010" stroke-width="1.3"/>
<line x1="114.6" y1="313.6" x2="119.2" y2="306" stroke="#dc1010" stroke-width="1.3"/>
<line x1="63.2" y1="312.4" x2="72.5" y2="316" stroke="#dc1010" stroke-width="1.3"/>
<line x1="72.5" y1="316" x2="76" y2="322.4" stroke="#dc1010" stroke-width="1.3"/>
<line x1="76" y1="322.4" x2="71.9" y2="325.9" stroke="#dc1010" stroke-width="1.3"/>
<line x1="71.9" y1="325.9" x2="63.2" y2="323" stroke="#dc1010" stroke-width="1.3"/>
<line x1="63.2" y1="323" x2="58.5" y2="316.5" stroke="#dc1010" stroke-width="1.3"/>
<line x1="58.5" y1="316.5" x2="63.2" y2="312.4" stroke="#dc1010" stroke-width="1.3"/>
<line x1="76.6" y1="312.4" x2="74.55" y2="314.2" stroke="#1a9ad8" stroke-width="1.3"/>
<line x1="74.55" y1="314.2" x2="72.5" y2="316" stroke="#dc1010" stroke-width="1.3"/>
<line x1="76.6" y1="312.4" x2="85.9" y2="316.5" stroke="#1a9ad8" stroke-width="1.3"/>
<line x1="85.9" y1="316.5" x2="94.1" y2="316" stroke="#1a9ad8" stroke-width="1.3"/>
<line x1="94.1" y1="316" x2="102.3" y2="319.5" stroke="#1a9ad8" stroke-width="1.3"/>
<line x1="102.3" y1="319.5" x2="101.1" y2="326.5" stroke="#1a9ad8" stroke-width="1.3"/>
<line x1="101.1" y1="326.5" x2="92.4" y2="329.4" stroke="#1a9ad8" stroke-width="1.3"/>
<line x1="92.4" y1="329.4" x2="84.8" y2="324.1" stroke="#1a9ad8" stroke-width="1.3"/>
<line x1="84.8" y1="324.1" x2="85.9" y2="316.5" stroke="#1a9ad8" stroke-width="1.3"/>
<line x1="76" y1="322.4" x2="80.4" y2="323.25" stroke="#dc1010" stroke-width="1.3"/>
<line x1="80.4" y1="323.25" x2="84.8" y2="324.1" stroke="#1a9ad8" stroke-width="1.3"/>
<ellipse cx="99.5" cy="261.8" rx="2.3" ry="1.7" fill="url(#gP)"/>
<ellipse cx="106" cy="262.5" rx="2.3" ry="1.7" fill="url(#gP)"/>
<ellipse cx="92.9" cy="268.2" rx="2.3" ry="1.7" fill="url(#gP)"/>
<ellipse cx="105.3" cy="269.7" rx="2.3" ry="1.7" fill="url(#gP)"/>
<ellipse cx="87" cy="271.1" rx="3.33" ry="2.46" fill="url(#gK)"/>
<ellipse cx="90.3" cy="272.6" rx="3.33" ry="2.46" fill="url(#gK)"/>
<ellipse cx="91.8" cy="275.5" rx="2.3" ry="1.7" fill="url(#gP)"/>
<ellipse cx="91.8" cy="275.5" rx="2.3" ry="1.7" fill="url(#gP)"/>
<ellipse cx="98.4" cy="276.2" rx="2.3" ry="1.7" fill="url(#gP)"/>
<ellipse cx="98.4" cy="276.2" rx="2.3" ry="1.7" fill="url(#gP)"/>
<ellipse cx="85.2" cy="277.3" rx="3.33" ry="2.46" fill="url(#gK)"/>
<ellipse cx="91.8" cy="282.1" rx="3.33" ry="2.46" fill="url(#gK)"/>
<ellipse cx="86.3" cy="283.9" rx="2.3" ry="1.7" fill="url(#gP)"/>
<ellipse cx="86.3" cy="283.9" rx="2.3" ry="1.7" fill="url(#gP)"/>
<ellipse cx="96.2" cy="285" rx="2.3" ry="1.7" fill="url(#gP)"/>
<ellipse cx="86.7" cy="287.2" rx="3.33" ry="2.46" fill="url(#gK)"/>
<ellipse cx="80.1" cy="287.3" rx="2.3" ry="1.7" fill="url(#gP)"/>
<ellipse cx="88.5" cy="289" rx="2.3" ry="1.7" fill="url(#gP)"/>
<ellipse cx="88.5" cy="289" rx="2.3" ry="1.7" fill="url(#gP)"/>
<ellipse cx="90.7" cy="289.4" rx="3.33" ry="2.46" fill="url(#gK)"/>
<ellipse cx="111.1" cy="290.8" rx="2.3" ry="1.7" fill="url(#gP)"/>
<ellipse cx="104.6" cy="291.4" rx="2.3" ry="1.7" fill="url(#gP)"/>
<ellipse cx="76" cy="296.1" rx="2.3" ry="1.7" fill="url(#gP)"/>
<ellipse cx="116.9" cy="297.3" rx="2.3" ry="1.7" fill="url(#gP)"/>
<ellipse cx="84.2" cy="297.8" rx="2.3" ry="1.7" fill="url(#gP)"/>
<ellipse cx="105.2" cy="297.8" rx="2.3" ry="1.7" fill="url(#gP)"/>
<ellipse cx="78.9" cy="301.9" rx="2.3" ry="1.7" fill="url(#gP)"/>
<ellipse cx="114" cy="304.5" rx="2.3" ry="1.7" fill="url(#gP)"/>
<ellipse cx="107.5" cy="305" rx="2.3" ry="1.7" fill="url(#gP)"/>
<ellipse cx="119.2" cy="306" rx="2.76" ry="2.04" fill="url(#gR)"/>
<ellipse cx="122.7" cy="306.6" rx="2.76" ry="2.04" fill="url(#gR)"/>
<ellipse cx="63.4" cy="310.2" rx="1.84" ry="1.36" fill="url(#gB)"/>
<ellipse cx="120.4" cy="311.3" rx="2.76" ry="2.04" fill="url(#gR)"/>
<ellipse cx="63.2" cy="312.4" rx="2.76" ry="2.04" fill="url(#gR)"/>
<ellipse cx="76.6" cy="312.4" rx="2.3" ry="1.7" fill="url(#gB)"/>
<ellipse cx="114.6" cy="313.6" rx="2.76" ry="2.04" fill="url(#gR)"/>
<ellipse cx="121.6" cy="314.2" rx="2.76" ry="2.04" fill="url(#gR)"/>
<ellipse cx="111.1" cy="315.4" rx="2.3" ry="1.7" fill="url(#gP)"/>
<ellipse cx="126" cy="315.5" rx="2.3" ry="1.7" fill="url(#gP)"/>
<ellipse cx="72.5" cy="316" rx="2.76" ry="2.04" fill="url(#gR)"/>
<ellipse cx="94.1" cy="316" rx="2.3" ry="1.7" fill="url(#gB)"/>
<ellipse cx="58.5" cy="316.5" rx="2.76" ry="2.04" fill="url(#gR)"/>
<ellipse cx="85.9" cy="316.5" rx="2.3" ry="1.7" fill="url(#gB)"/>
<ellipse cx="131.5" cy="319.5" rx="2.3" ry="1.7" fill="url(#gP)"/>
<ellipse cx="102.3" cy="319.5" rx="2.3" ry="1.7" fill="url(#gB)"/>
<ellipse cx="119.8" cy="320" rx="2.3" ry="1.7" fill="url(#gP)"/>
<ellipse cx="113.4" cy="321.2" rx="2.76" ry="2.04" fill="url(#gR)"/>
<ellipse cx="116.9" cy="322.4" rx="2.76" ry="2.04" fill="url(#gR)"/>
<ellipse cx="76" cy="322.4" rx="2.76" ry="2.04" fill="url(#gR)"/>
<ellipse cx="63.2" cy="323" rx="2.76" ry="2.04" fill="url(#gR)"/>
<ellipse cx="84.8" cy="324.1" rx="2.3" ry="1.7" fill="url(#gB)"/>
<ellipse cx="132.1" cy="325.9" rx="2.3" ry="1.7" fill="url(#gP)"/>
<ellipse cx="71.9" cy="325.9" rx="2.76" ry="2.04" fill="url(#gR)"/>
<ellipse cx="101.1" cy="326.5" rx="2.3" ry="1.7" fill="url(#gB)"/>
<ellipse cx="123.3" cy="327.6" rx="2.3" ry="1.7" fill="url(#gP)"/>
<ellipse cx="70.2" cy="328.2" rx="1.84" ry="1.36" fill="url(#gB)"/>
<ellipse cx="92.4" cy="329.4" rx="2.3" ry="1.7" fill="url(#gB)"/>
<ellipse cx="128.6" cy="331.7" rx="2.3" ry="1.7" fill="url(#gP)"/>
<line x1="250.33" y1="263.93" x2="257.56" y2="265.25" stroke="#9a58d2" stroke-width="1.2"/>
<line x1="257.56" y1="265.25" x2="261.5" y2="269.45" stroke="#9a58d2" stroke-width="1.2"/>
<line x1="261.5" y1="269.45" x2="259.53" y2="274.05" stroke="#9a58d2" stroke-width="1.2"/>
<line x1="259.53" y1="274.05" x2="252.96" y2="273.39" stroke="#9a58d2" stroke-width="1.2"/>
<line x1="252.96" y1="273.39" x2="248.36" y2="268.14" stroke="#9a58d2" stroke-width="1.2"/>
<line x1="248.36" y1="268.14" x2="250.33" y2="263.93" stroke="#9a58d2" stroke-width="1.2"/>
<line x1="252.96" y1="273.39" x2="252.37" y2="274.05" stroke="#9a58d2" stroke-width="1.2"/>
<line x1="252.37" y1="274.05" x2="251.77" y2="274.71" stroke="#dc1010" stroke-width="1.2"/>
<line x1="243.37" y1="274.97" x2="244.42" y2="280.75" stroke="#dc1010" stroke-width="1.2"/>
<line x1="244.42" y1="280.75" x2="251.77" y2="282.85" stroke="#dc1010" stroke-width="1.2"/>
<line x1="251.77" y1="282.85" x2="260.18" y2="281.54" stroke="#dc1010" stroke-width="1.2"/>
<line x1="260.18" y1="281.54" x2="260.18" y2="276.28" stroke="#dc1010" stroke-width="1.2"/>
<line x1="260.18" y1="276.28" x2="251.77" y2="274.45" stroke="#dc1010" stroke-width="1.2"/>
<line x1="251.77" y1="274.45" x2="243.37" y2="274.97" stroke="#dc1010" stroke-width="1.2"/>
<line x1="251.64" y1="286.27" x2="251.71" y2="284.56" stroke="#9a58d2" stroke-width="1.2"/>
<line x1="251.71" y1="284.56" x2="251.77" y2="282.85" stroke="#dc1010" stroke-width="1.2"/>
<line x1="236.14" y1="292.05" x2="241.6" y2="295.2" stroke="#9a58d2" stroke-width="1.2"/>
<line x1="241.6" y1="295.2" x2="241.6" y2="301.51" stroke="#9a58d2" stroke-width="1.2"/>
<line x1="241.6" y1="301.51" x2="236.14" y2="304.66" stroke="#9a58d2" stroke-width="1.2"/>
<line x1="236.14" y1="304.66" x2="230.68" y2="301.51" stroke="#9a58d2" stroke-width="1.2"/>
<line x1="230.68" y1="301.51" x2="230.68" y2="295.2" stroke="#9a58d2" stroke-width="1.2"/>
<line x1="230.68" y1="295.2" x2="236.14" y2="292.05" stroke="#9a58d2" stroke-width="1.2"/>
<line x1="267.8" y1="292.05" x2="273.27" y2="295.2" stroke="#9a58d2" stroke-width="1.2"/>
<line x1="273.27" y1="295.2" x2="273.27" y2="301.51" stroke="#9a58d2" stroke-width="1.2"/>
<line x1="273.27" y1="301.51" x2="267.8" y2="304.66" stroke="#9a58d2" stroke-width="1.2"/>
<line x1="267.8" y1="304.66" x2="262.34" y2="301.51" stroke="#9a58d2" stroke-width="1.2"/>
<line x1="262.34" y1="301.51" x2="262.34" y2="295.2" stroke="#9a58d2" stroke-width="1.2"/>
<line x1="262.34" y1="295.2" x2="267.8" y2="292.05" stroke="#9a58d2" stroke-width="1.2"/>
<line x1="251.64" y1="286.27" x2="241.6" y2="295.2" stroke="#9a58d2" stroke-width="1.2"/>
<line x1="251.64" y1="286.27" x2="262.34" y2="295.2" stroke="#9a58d2" stroke-width="1.2"/>
<line x1="262.02" y1="323.58" x2="257.95" y2="327.82" stroke="#9a58d2" stroke-width="1.2"/>
<line x1="257.95" y1="327.82" x2="249.8" y2="327.82" stroke="#9a58d2" stroke-width="1.2"/>
<line x1="249.8" y1="327.82" x2="245.73" y2="323.58" stroke="#9a58d2" stroke-width="1.2"/>
<line x1="245.73" y1="323.58" x2="249.8" y2="319.35" stroke="#9a58d2" stroke-width="1.2"/>
<line x1="249.8" y1="319.35" x2="257.95" y2="319.35" stroke="#9a58d2" stroke-width="1.2"/>
<line x1="257.95" y1="319.35" x2="262.02" y2="323.58" stroke="#9a58d2" stroke-width="1.2"/>
<line x1="236.14" y1="304.66" x2="236.27" y2="310.71" stroke="#9a58d2" stroke-width="1.2"/>
<line x1="236.27" y1="310.71" x2="236.53" y2="316.75" stroke="#9a58d2" stroke-width="1.2"/>
<line x1="236.53" y1="316.75" x2="242.45" y2="320.43" stroke="#9a58d2" stroke-width="1.2"/>
<line x1="242.45" y1="320.43" x2="245.73" y2="323.58" stroke="#9a58d2" stroke-width="1.2"/>
<line x1="267.8" y1="304.66" x2="268.99" y2="309.92" stroke="#9a58d2" stroke-width="1.2"/>
<line x1="268.99" y1="309.92" x2="270.04" y2="315.44" stroke="#9a58d2" stroke-width="1.2"/>
<line x1="270.04" y1="315.44" x2="265.44" y2="319.64" stroke="#9a58d2" stroke-width="1.2"/>
<line x1="265.44" y1="319.64" x2="262.02" y2="323.58" stroke="#9a58d2" stroke-width="1.2"/>
<line x1="224.84" y1="321.75" x2="221.82" y2="326.98" stroke="#9a58d2" stroke-width="1.2"/>
<line x1="221.82" y1="326.98" x2="215.77" y2="326.98" stroke="#9a58d2" stroke-width="1.2"/>
<line x1="215.77" y1="326.98" x2="212.75" y2="321.75" stroke="#9a58d2" stroke-width="1.2"/>
<line x1="212.75" y1="321.75" x2="215.77" y2="316.51" stroke="#9a58d2" stroke-width="1.2"/>
<line x1="215.77" y1="316.51" x2="221.82" y2="316.51" stroke="#9a58d2" stroke-width="1.2"/>
<line x1="221.82" y1="316.51" x2="224.84" y2="321.75" stroke="#9a58d2" stroke-width="1.2"/>
<line x1="236.53" y1="316.75" x2="224.84" y2="321.75" stroke="#9a58d2" stroke-width="1.2"/>
<line x1="234.02" y1="321.57" x2="234.78" y2="328.32" stroke="#dc1010" stroke-width="1.2"/>
<line x1="234.78" y1="328.32" x2="231.77" y2="329.41" stroke="#dc1010" stroke-width="1.2"/>
<line x1="231.77" y1="329.41" x2="228.01" y2="323.76" stroke="#dc1010" stroke-width="1.2"/>
<line x1="228.01" y1="323.76" x2="227.25" y2="317.01" stroke="#dc1010" stroke-width="1.2"/>
<line x1="227.25" y1="317.01" x2="230.26" y2="315.92" stroke="#dc1010" stroke-width="1.2"/>
<line x1="230.26" y1="315.92" x2="234.02" y2="321.57" stroke="#dc1010" stroke-width="1.2"/>
<line x1="236.53" y1="316.75" x2="232.92" y2="316.62" stroke="#9a58d2" stroke-width="1.2"/>
<line x1="232.92" y1="316.62" x2="229.31" y2="316.49" stroke="#dc1010" stroke-width="1.2"/>
<line x1="280.6" y1="319.02" x2="276.95" y2="325.25" stroke="#dc1010" stroke-width="1.2"/>
<line x1="276.95" y1="325.25" x2="274.01" y2="324.3" stroke="#dc1010" stroke-width="1.2"/>
<line x1="274.01" y1="324.3" x2="274.71" y2="317.11" stroke="#dc1010" stroke-width="1.2"/>
<line x1="274.71" y1="317.11" x2="278.37" y2="310.88" stroke="#dc1010" stroke-width="1.2"/>
<line x1="278.37" y1="310.88" x2="281.31" y2="311.84" stroke="#dc1010" stroke-width="1.2"/>
<line x1="281.31" y1="311.84" x2="280.6" y2="319.02" stroke="#dc1010" stroke-width="1.2"/>
<line x1="270.04" y1="315.44" x2="272.99" y2="319.38" stroke="#9a58d2" stroke-width="1.2"/>
<line x1="272.99" y1="319.38" x2="275.95" y2="323.32" stroke="#dc1010" stroke-width="1.2"/>
<line x1="290.27" y1="325.95" x2="287.38" y2="330.21" stroke="#9a58d2" stroke-width="1.2"/>
<line x1="287.38" y1="330.21" x2="281.6" y2="330.21" stroke="#9a58d2" stroke-width="1.2"/>
<line x1="281.6" y1="330.21" x2="278.71" y2="325.95" stroke="#9a58d2" stroke-width="1.2"/>
<line x1="278.71" y1="325.95" x2="281.6" y2="321.69" stroke="#9a58d2" stroke-width="1.2"/>
<line x1="281.6" y1="321.69" x2="287.38" y2="321.69" stroke="#9a58d2" stroke-width="1.2"/>
<line x1="287.38" y1="321.69" x2="290.27" y2="325.95" stroke="#9a58d2" stroke-width="1.2"/>
<line x1="270.04" y1="315.44" x2="278.71" y2="325.95" stroke="#9a58d2" stroke-width="1.2"/>
<ellipse cx="250.33" cy="263.93" rx="2.05" ry="1.5" fill="url(#gP)"/>
<ellipse cx="257.56" cy="265.25" rx="2.05" ry="1.5" fill="url(#gP)"/>
<ellipse cx="248.36" cy="268.14" rx="2.05" ry="1.5" fill="url(#gP)"/>
<ellipse cx="261.5" cy="269.45" rx="2.05" ry="1.5" fill="url(#gP)"/>
<ellipse cx="252.96" cy="273.39" rx="2.05" ry="1.5" fill="url(#gP)"/>
<ellipse cx="259.53" cy="274.05" rx="2.05" ry="1.5" fill="url(#gP)"/>
<ellipse cx="251.77" cy="274.45" rx="2.36" ry="1.72" fill="url(#gR)"/>
<ellipse cx="243.37" cy="274.97" rx="2.36" ry="1.72" fill="url(#gR)"/>
<ellipse cx="260.18" cy="276.28" rx="2.36" ry="1.72" fill="url(#gR)"/>
<ellipse cx="248.36" cy="278.65" rx="2.25" ry="1.65" fill="url(#gR)"/>
<ellipse cx="255.98" cy="279.31" rx="2.25" ry="1.65" fill="url(#gR)"/>
<ellipse cx="244.42" cy="280.75" rx="2.36" ry="1.72" fill="url(#gR)"/>
<ellipse cx="260.18" cy="281.54" rx="2.36" ry="1.72" fill="url(#gR)"/>
<ellipse cx="251.77" cy="282.85" rx="2.36" ry="1.72" fill="url(#gR)"/>
<ellipse cx="251.64" cy="286.27" rx="2.05" ry="1.5" fill="url(#gP)"/>
<ellipse cx="236.14" cy="292.05" rx="2.05" ry="1.5" fill="url(#gP)"/>
<ellipse cx="267.8" cy="292.05" rx="2.05" ry="1.5" fill="url(#gP)"/>
<ellipse cx="241.6" cy="295.2" rx="2.05" ry="1.5" fill="url(#gP)"/>
<ellipse cx="230.68" cy="295.2" rx="2.05" ry="1.5" fill="url(#gP)"/>
<ellipse cx="273.27" cy="295.2" rx="2.05" ry="1.5" fill="url(#gP)"/>
<ellipse cx="262.34" cy="295.2" rx="2.05" ry="1.5" fill="url(#gP)"/>
<ellipse cx="241.6" cy="301.51" rx="2.05" ry="1.5" fill="url(#gP)"/>
<ellipse cx="230.68" cy="301.51" rx="2.05" ry="1.5" fill="url(#gP)"/>
<ellipse cx="273.27" cy="301.51" rx="2.05" ry="1.5" fill="url(#gP)"/>
<ellipse cx="262.34" cy="301.51" rx="2.05" ry="1.5" fill="url(#gP)"/>
<ellipse cx="236.14" cy="304.66" rx="2.05" ry="1.5" fill="url(#gP)"/>
<ellipse cx="267.8" cy="304.66" rx="2.05" ry="1.5" fill="url(#gP)"/>
<ellipse cx="236.14" cy="304.66" rx="2.05" ry="1.5" fill="url(#gP)"/>
<ellipse cx="267.8" cy="304.66" rx="2.05" ry="1.5" fill="url(#gP)"/>
<ellipse cx="268.99" cy="309.92" rx="2.05" ry="1.5" fill="url(#gP)"/>
<ellipse cx="236.27" cy="310.71" rx="2.05" ry="1.5" fill="url(#gP)"/>
<ellipse cx="278.37" cy="310.88" rx="2.36" ry="1.72" fill="url(#gR)"/>
<ellipse cx="281.31" cy="311.84" rx="2.36" ry="1.72" fill="url(#gR)"/>
<ellipse cx="270.04" cy="315.44" rx="2.05" ry="1.5" fill="url(#gP)"/>
<ellipse cx="230.26" cy="315.92" rx="2.36" ry="1.72" fill="url(#gR)"/>
<ellipse cx="215.77" cy="316.51" rx="2.05" ry="1.5" fill="url(#gP)"/>
<ellipse cx="221.82" cy="316.51" rx="2.05" ry="1.5" fill="url(#gP)"/>
<ellipse cx="236.53" cy="316.75" rx="2.05" ry="1.5" fill="url(#gP)"/>
<ellipse cx="227.25" cy="317.01" rx="2.36" ry="1.72" fill="url(#gR)"/>
<ellipse cx="274.71" cy="317.11" rx="2.36" ry="1.72" fill="url(#gR)"/>
<ellipse cx="280.6" cy="319.02" rx="2.36" ry="1.72" fill="url(#gR)"/>
<ellipse cx="257.95" cy="319.35" rx="2.05" ry="1.5" fill="url(#gP)"/>
<ellipse cx="249.8" cy="319.35" rx="2.05" ry="1.5" fill="url(#gP)"/>
<ellipse cx="265.44" cy="319.64" rx="2.05" ry="1.5" fill="url(#gP)"/>
<ellipse cx="242.45" cy="320.43" rx="2.05" ry="1.5" fill="url(#gP)"/>
<ellipse cx="234.02" cy="321.57" rx="2.36" ry="1.72" fill="url(#gR)"/>
<ellipse cx="281.6" cy="321.69" rx="2.05" ry="1.5" fill="url(#gP)"/>
<ellipse cx="287.38" cy="321.69" rx="2.05" ry="1.5" fill="url(#gP)"/>
<ellipse cx="224.84" cy="321.75" rx="2.05" ry="1.5" fill="url(#gP)"/>
<ellipse cx="212.75" cy="321.75" rx="2.05" ry="1.5" fill="url(#gP)"/>
<ellipse cx="262.02" cy="323.58" rx="2.05" ry="1.5" fill="url(#gP)"/>
<ellipse cx="245.73" cy="323.58" rx="2.05" ry="1.5" fill="url(#gP)"/>
<ellipse cx="245.73" cy="323.58" rx="2.05" ry="1.5" fill="url(#gP)"/>
<ellipse cx="262.02" cy="323.58" rx="2.05" ry="1.5" fill="url(#gP)"/>
<ellipse cx="228.01" cy="323.76" rx="2.36" ry="1.72" fill="url(#gR)"/>
<ellipse cx="274.01" cy="324.3" rx="2.36" ry="1.72" fill="url(#gR)"/>
<ellipse cx="276.95" cy="325.25" rx="2.36" ry="1.72" fill="url(#gR)"/>
<ellipse cx="290.27" cy="325.95" rx="2.05" ry="1.5" fill="url(#gP)"/>
<ellipse cx="278.71" cy="325.95" rx="2.05" ry="1.5" fill="url(#gP)"/>
<ellipse cx="221.82" cy="326.98" rx="2.05" ry="1.5" fill="url(#gP)"/>
<ellipse cx="215.77" cy="326.98" rx="2.05" ry="1.5" fill="url(#gP)"/>
<ellipse cx="257.95" cy="327.82" rx="2.05" ry="1.5" fill="url(#gP)"/>
<ellipse cx="249.8" cy="327.82" rx="2.05" ry="1.5" fill="url(#gP)"/>
<ellipse cx="234.78" cy="328.32" rx="2.36" ry="1.72" fill="url(#gR)"/>
<ellipse cx="231.77" cy="329.41" rx="2.36" ry="1.72" fill="url(#gR)"/>
<ellipse cx="287.38" cy="330.21" rx="2.05" ry="1.5" fill="url(#gP)"/>
<ellipse cx="281.6" cy="330.21" rx="2.05" ry="1.5" fill="url(#gP)"/>
<line x1="389.09" y1="283.15" x2="385.48" y2="289.39" stroke="#9a58d2" stroke-width="1.2"/>
<line x1="385.48" y1="289.39" x2="378.27" y2="289.39" stroke="#9a58d2" stroke-width="1.2"/>
<line x1="378.27" y1="289.39" x2="374.67" y2="283.15" stroke="#9a58d2" stroke-width="1.2"/>
<line x1="374.67" y1="283.15" x2="378.27" y2="276.91" stroke="#9a58d2" stroke-width="1.2"/>
<line x1="378.27" y1="276.91" x2="385.48" y2="276.91" stroke="#9a58d2" stroke-width="1.2"/>
<line x1="385.48" y1="276.91" x2="389.09" y2="283.15" stroke="#9a58d2" stroke-width="1.2"/>
<line x1="420.21" y1="280.87" x2="416.41" y2="287.45" stroke="#9a58d2" stroke-width="1.2"/>
<line x1="416.41" y1="287.45" x2="408.82" y2="287.45" stroke="#9a58d2" stroke-width="1.2"/>
<line x1="408.82" y1="287.45" x2="405.03" y2="280.87" stroke="#9a58d2" stroke-width="1.2"/>
<line x1="405.03" y1="280.87" x2="408.82" y2="274.3" stroke="#9a58d2" stroke-width="1.2"/>
<line x1="408.82" y1="274.3" x2="416.41" y2="274.3" stroke="#9a58d2" stroke-width="1.2"/>
<line x1="416.41" y1="274.3" x2="420.21" y2="280.87" stroke="#9a58d2" stroke-width="1.2"/>
<line x1="449.55" y1="289.41" x2="442.98" y2="293.21" stroke="#9a58d2" stroke-width="1.2"/>
<line x1="442.98" y1="293.21" x2="436.41" y2="289.41" stroke="#9a58d2" stroke-width="1.2"/>
<line x1="436.41" y1="289.41" x2="436.41" y2="281.82" stroke="#9a58d2" stroke-width="1.2"/>
<line x1="436.41" y1="281.82" x2="442.98" y2="278.03" stroke="#9a58d2" stroke-width="1.2"/>
<line x1="442.98" y1="278.03" x2="449.55" y2="281.82" stroke="#9a58d2" stroke-width="1.2"/>
<line x1="449.55" y1="281.82" x2="449.55" y2="289.41" stroke="#9a58d2" stroke-width="1.2"/>
<line x1="409.13" y1="318.82" x2="402.56" y2="322.62" stroke="#9a58d2" stroke-width="1.2"/>
<line x1="402.56" y1="322.62" x2="395.99" y2="318.82" stroke="#9a58d2" stroke-width="1.2"/>
<line x1="395.99" y1="318.82" x2="395.99" y2="311.23" stroke="#9a58d2" stroke-width="1.2"/>
<line x1="395.99" y1="311.23" x2="402.56" y2="307.44" stroke="#9a58d2" stroke-width="1.2"/>
<line x1="402.56" y1="307.44" x2="409.13" y2="311.23" stroke="#9a58d2" stroke-width="1.2"/>
<line x1="409.13" y1="311.23" x2="409.13" y2="318.82" stroke="#9a58d2" stroke-width="1.2"/>
<line x1="439.56" y1="320.34" x2="435.77" y2="326.91" stroke="#9a58d2" stroke-width="1.2"/>
<line x1="435.77" y1="326.91" x2="428.18" y2="326.91" stroke="#9a58d2" stroke-width="1.2"/>
<line x1="428.18" y1="326.91" x2="424.38" y2="320.34" stroke="#9a58d2" stroke-width="1.2"/>
<line x1="424.38" y1="320.34" x2="428.18" y2="313.77" stroke="#9a58d2" stroke-width="1.2"/>
<line x1="428.18" y1="313.77" x2="435.77" y2="313.77" stroke="#9a58d2" stroke-width="1.2"/>
<line x1="435.77" y1="313.77" x2="439.56" y2="320.34" stroke="#9a58d2" stroke-width="1.2"/>
<line x1="471.06" y1="316.55" x2="467.46" y2="322.79" stroke="#9a58d2" stroke-width="1.2"/>
<line x1="467.46" y1="322.79" x2="460.25" y2="322.79" stroke="#9a58d2" stroke-width="1.2"/>
<line x1="460.25" y1="322.79" x2="456.64" y2="316.55" stroke="#9a58d2" stroke-width="1.2"/>
<line x1="456.64" y1="316.55" x2="460.25" y2="310.3" stroke="#9a58d2" stroke-width="1.2"/>
<line x1="460.25" y1="310.3" x2="467.46" y2="310.3" stroke="#9a58d2" stroke-width="1.2"/>
<line x1="467.46" y1="310.3" x2="471.06" y2="316.55" stroke="#9a58d2" stroke-width="1.2"/>
<line x1="389.09" y1="283.15" x2="395.54" y2="279.92" stroke="#9a58d2" stroke-width="1.2"/>
<line x1="395.54" y1="279.92" x2="405.03" y2="280.87" stroke="#9a58d2" stroke-width="1.2"/>
<line x1="389.09" y1="283.15" x2="392.69" y2="288.84" stroke="#9a58d2" stroke-width="1.2"/>
<line x1="392.69" y1="288.84" x2="397.82" y2="295.29" stroke="#111" stroke-width="1.2"/>
<line x1="397.82" y1="295.29" x2="404.08" y2="300.61" stroke="#111" stroke-width="1.2"/>
<line x1="404.08" y1="300.61" x2="405.03" y2="288.46" stroke="#9a58d2" stroke-width="1.2"/>
<line x1="404.08" y1="300.61" x2="402.85" y2="304.02" stroke="#111" stroke-width="1.2"/>
<line x1="402.85" y1="304.02" x2="401.61" y2="307.44" stroke="#9a58d2" stroke-width="1.2"/>
<line x1="420.21" y1="280.87" x2="429.7" y2="284.29" stroke="#9a58d2" stroke-width="1.2"/>
<line x1="429.7" y1="284.29" x2="436.41" y2="281.82" stroke="#9a58d2" stroke-width="1.2"/>
<line x1="409.13" y1="318.82" x2="420.59" y2="317.87" stroke="#9a58d2" stroke-width="1.2"/>
<line x1="420.59" y1="317.87" x2="424.38" y2="320.34" stroke="#9a58d2" stroke-width="1.2"/>
<line x1="442.98" y1="293.21" x2="442.98" y2="296.05" stroke="#9a58d2" stroke-width="1.2"/>
<line x1="442.98" y1="296.05" x2="442.98" y2="298.9" stroke="#dc1010" stroke-width="1.2"/>
<line x1="442.98" y1="298.9" x2="448.29" y2="304.78" stroke="#dc1010" stroke-width="1.2"/>
<line x1="448.29" y1="304.78" x2="453.61" y2="311.23" stroke="#dc1010" stroke-width="1.2"/>
<line x1="453.61" y1="311.23" x2="455.12" y2="313.89" stroke="#dc1010" stroke-width="1.2"/>
<line x1="455.12" y1="313.89" x2="456.64" y2="316.55" stroke="#9a58d2" stroke-width="1.2"/>
<line x1="439.56" y1="320.34" x2="444.88" y2="309.72" stroke="#9a58d2" stroke-width="1.2"/>
<line x1="444.88" y1="309.72" x2="449.24" y2="310.47" stroke="#9a58d2" stroke-width="1.2"/>
<line x1="449.24" y1="310.47" x2="453.61" y2="311.23" stroke="#dc1010" stroke-width="1.2"/>
<ellipse cx="416.41" cy="274.3" rx="2.2" ry="1.6" fill="url(#gP)"/>
<ellipse cx="408.82" cy="274.3" rx="2.2" ry="1.6" fill="url(#gP)"/>
<ellipse cx="378.27" cy="276.91" rx="2.2" ry="1.6" fill="url(#gP)"/>
<ellipse cx="385.48" cy="276.91" rx="2.2" ry="1.6" fill="url(#gP)"/>
<ellipse cx="442.98" cy="278.03" rx="2.2" ry="1.6" fill="url(#gP)"/>
<ellipse cx="395.54" cy="279.92" rx="2.2" ry="1.6" fill="url(#gP)"/>
<ellipse cx="420.21" cy="280.87" rx="2.2" ry="1.6" fill="url(#gP)"/>
<ellipse cx="405.03" cy="280.87" rx="2.2" ry="1.6" fill="url(#gP)"/>
<ellipse cx="449.55" cy="281.82" rx="2.2" ry="1.6" fill="url(#gP)"/>
<ellipse cx="436.41" cy="281.82" rx="2.2" ry="1.6" fill="url(#gP)"/>
<ellipse cx="389.09" cy="283.15" rx="2.2" ry="1.6" fill="url(#gP)"/>
<ellipse cx="374.67" cy="283.15" rx="2.2" ry="1.6" fill="url(#gP)"/>
<ellipse cx="389.09" cy="283.15" rx="2.2" ry="1.6" fill="url(#gP)"/>
<ellipse cx="429.7" cy="284.29" rx="2.2" ry="1.6" fill="url(#gP)"/>
<ellipse cx="416.41" cy="287.45" rx="2.2" ry="1.6" fill="url(#gP)"/>
<ellipse cx="408.82" cy="287.45" rx="2.2" ry="1.6" fill="url(#gP)"/>
<ellipse cx="392.69" cy="288.84" rx="2.2" ry="1.6" fill="url(#gP)"/>
<ellipse cx="392.69" cy="288.84" rx="2.75" ry="2" fill="url(#gK)"/>
<ellipse cx="385.48" cy="289.39" rx="2.2" ry="1.6" fill="url(#gP)"/>
<ellipse cx="378.27" cy="289.39" rx="2.2" ry="1.6" fill="url(#gP)"/>
<ellipse cx="449.55" cy="289.41" rx="2.2" ry="1.6" fill="url(#gP)"/>
<ellipse cx="436.41" cy="289.41" rx="2.2" ry="1.6" fill="url(#gP)"/>
<ellipse cx="442.98" cy="293.21" rx="2.2" ry="1.6" fill="url(#gP)"/>
<ellipse cx="397.82" cy="295.29" rx="2.75" ry="2" fill="url(#gK)"/>
<ellipse cx="442.98" cy="298.9" rx="2.64" ry="1.92" fill="url(#gR)"/>
<ellipse cx="404.08" cy="300.61" rx="2.75" ry="2" fill="url(#gK)"/>
<ellipse cx="448.29" cy="304.78" rx="2.64" ry="1.92" fill="url(#gR)"/>
<ellipse cx="402.56" cy="307.44" rx="2.2" ry="1.6" fill="url(#gP)"/>
<ellipse cx="444.88" cy="309.72" rx="2.2" ry="1.6" fill="url(#gP)"/>
<ellipse cx="467.46" cy="310.3" rx="2.2" ry="1.6" fill="url(#gP)"/>
<ellipse cx="460.25" cy="310.3" rx="2.2" ry="1.6" fill="url(#gP)"/>
<ellipse cx="395.99" cy="311.23" rx="2.2" ry="1.6" fill="url(#gP)"/>
<ellipse cx="409.13" cy="311.23" rx="2.2" ry="1.6" fill="url(#gP)"/>
<ellipse cx="453.61" cy="311.23" rx="2.64" ry="1.92" fill="url(#gR)"/>
<ellipse cx="428.18" cy="313.77" rx="2.2" ry="1.6" fill="url(#gP)"/>
<ellipse cx="435.77" cy="313.77" rx="2.2" ry="1.6" fill="url(#gP)"/>
<ellipse cx="471.06" cy="316.55" rx="2.2" ry="1.6" fill="url(#gP)"/>
<ellipse cx="456.64" cy="316.55" rx="2.2" ry="1.6" fill="url(#gP)"/>
<ellipse cx="420.59" cy="317.87" rx="2.2" ry="1.6" fill="url(#gP)"/>
<ellipse cx="409.13" cy="318.82" rx="2.2" ry="1.6" fill="url(#gP)"/>
<ellipse cx="395.99" cy="318.82" rx="2.2" ry="1.6" fill="url(#gP)"/>
<ellipse cx="439.56" cy="320.34" rx="2.2" ry="1.6" fill="url(#gP)"/>
<ellipse cx="424.38" cy="320.34" rx="2.2" ry="1.6" fill="url(#gP)"/>
<ellipse cx="402.56" cy="322.62" rx="2.2" ry="1.6" fill="url(#gP)"/>
<ellipse cx="467.46" cy="322.79" rx="2.2" ry="1.6" fill="url(#gP)"/>
<ellipse cx="460.25" cy="322.79" rx="2.2" ry="1.6" fill="url(#gP)"/>
<ellipse cx="435.77" cy="326.91" rx="2.2" ry="1.6" fill="url(#gP)"/>
<ellipse cx="428.18" cy="326.91" rx="2.2" ry="1.6" fill="url(#gP)"/>
<line x1="553.78" y1="283.72" x2="550.17" y2="289.96" stroke="#9a58d2" stroke-width="1.2"/>
<line x1="550.17" y1="289.96" x2="542.96" y2="289.96" stroke="#9a58d2" stroke-width="1.2"/>
<line x1="542.96" y1="289.96" x2="539.35" y2="283.72" stroke="#9a58d2" stroke-width="1.2"/>
<line x1="539.35" y1="283.72" x2="542.96" y2="277.47" stroke="#9a58d2" stroke-width="1.2"/>
<line x1="542.96" y1="277.47" x2="550.17" y2="277.47" stroke="#9a58d2" stroke-width="1.2"/>
<line x1="550.17" y1="277.47" x2="553.78" y2="283.72" stroke="#9a58d2" stroke-width="1.2"/>
<line x1="585.09" y1="281.82" x2="581.48" y2="288.07" stroke="#9a58d2" stroke-width="1.2"/>
<line x1="581.48" y1="288.07" x2="574.27" y2="288.07" stroke="#9a58d2" stroke-width="1.2"/>
<line x1="574.27" y1="288.07" x2="570.66" y2="281.82" stroke="#9a58d2" stroke-width="1.2"/>
<line x1="570.66" y1="281.82" x2="574.27" y2="275.58" stroke="#9a58d2" stroke-width="1.2"/>
<line x1="574.27" y1="275.58" x2="581.48" y2="275.58" stroke="#9a58d2" stroke-width="1.2"/>
<line x1="581.48" y1="275.58" x2="585.09" y2="281.82" stroke="#9a58d2" stroke-width="1.2"/>
<line x1="614.81" y1="289.98" x2="608.24" y2="293.78" stroke="#9a58d2" stroke-width="1.2"/>
<line x1="608.24" y1="293.78" x2="601.66" y2="289.98" stroke="#9a58d2" stroke-width="1.2"/>
<line x1="601.66" y1="289.98" x2="601.66" y2="282.39" stroke="#9a58d2" stroke-width="1.2"/>
<line x1="601.66" y1="282.39" x2="608.24" y2="278.6" stroke="#9a58d2" stroke-width="1.2"/>
<line x1="608.24" y1="278.6" x2="614.81" y2="282.39" stroke="#9a58d2" stroke-width="1.2"/>
<line x1="614.81" y1="282.39" x2="614.81" y2="289.98" stroke="#9a58d2" stroke-width="1.2"/>
<line x1="575.29" y1="318.06" x2="568.39" y2="322.05" stroke="#9a58d2" stroke-width="1.2"/>
<line x1="568.39" y1="322.05" x2="561.49" y2="318.06" stroke="#9a58d2" stroke-width="1.2"/>
<line x1="561.49" y1="318.06" x2="561.49" y2="310.09" stroke="#9a58d2" stroke-width="1.2"/>
<line x1="561.49" y1="310.09" x2="568.39" y2="306.11" stroke="#9a58d2" stroke-width="1.2"/>
<line x1="568.39" y1="306.11" x2="575.29" y2="310.09" stroke="#9a58d2" stroke-width="1.2"/>
<line x1="575.29" y1="310.09" x2="575.29" y2="318.06" stroke="#9a58d2" stroke-width="1.2"/>
<line x1="605.39" y1="320.72" x2="601.59" y2="327.29" stroke="#9a58d2" stroke-width="1.2"/>
<line x1="601.59" y1="327.29" x2="594" y2="327.29" stroke="#9a58d2" stroke-width="1.2"/>
<line x1="594" y1="327.29" x2="590.21" y2="320.72" stroke="#9a58d2" stroke-width="1.2"/>
<line x1="590.21" y1="320.72" x2="594" y2="314.15" stroke="#9a58d2" stroke-width="1.2"/>
<line x1="594" y1="314.15" x2="601.59" y2="314.15" stroke="#9a58d2" stroke-width="1.2"/>
<line x1="601.59" y1="314.15" x2="605.39" y2="320.72" stroke="#9a58d2" stroke-width="1.2"/>
<line x1="634.99" y1="316.93" x2="631.57" y2="322.84" stroke="#9a58d2" stroke-width="1.2"/>
<line x1="631.57" y1="322.84" x2="624.74" y2="322.84" stroke="#9a58d2" stroke-width="1.2"/>
<line x1="624.74" y1="322.84" x2="621.33" y2="316.93" stroke="#9a58d2" stroke-width="1.2"/>
<line x1="621.33" y1="316.93" x2="624.74" y2="311.01" stroke="#9a58d2" stroke-width="1.2"/>
<line x1="624.74" y1="311.01" x2="631.57" y2="311.01" stroke="#9a58d2" stroke-width="1.2"/>
<line x1="631.57" y1="311.01" x2="634.99" y2="316.93" stroke="#9a58d2" stroke-width="1.2"/>
<line x1="565.16" y1="274.8" x2="564.59" y2="278.98" stroke="#dc1010" stroke-width="1.2"/>
<line x1="564.59" y1="278.98" x2="569.72" y2="279.92" stroke="#dc1010" stroke-width="1.2"/>
<line x1="569.72" y1="279.92" x2="571.23" y2="284.67" stroke="#dc1010" stroke-width="1.2"/>
<line x1="571.23" y1="284.67" x2="567.44" y2="288.46" stroke="#dc1010" stroke-width="1.2"/>
<line x1="567.44" y1="288.46" x2="571.61" y2="290.36" stroke="#dc1010" stroke-width="1.2"/>
<line x1="571.61" y1="290.36" x2="573.51" y2="294.16" stroke="#dc1010" stroke-width="1.2"/>
<line x1="565.16" y1="274.8" x2="569.72" y2="279.92" stroke="#dc1010" stroke-width="1.2"/>
<line x1="564.59" y1="278.98" x2="567.44" y2="288.46" stroke="#dc1010" stroke-width="1.2"/>
<line x1="553.78" y1="283.72" x2="565.92" y2="291.31" stroke="#9a58d2" stroke-width="1.2"/>
<line x1="565.92" y1="291.31" x2="570.66" y2="281.82" stroke="#9a58d2" stroke-width="1.2"/>
<line x1="565.92" y1="291.31" x2="568.39" y2="306.11" stroke="#9a58d2" stroke-width="1.2"/>
<line x1="565.92" y1="291.31" x2="566.68" y2="289.89" stroke="#9a58d2" stroke-width="1.2"/>
<line x1="566.68" y1="289.89" x2="567.44" y2="288.46" stroke="#dc1010" stroke-width="1.2"/>
<line x1="585.09" y1="281.82" x2="595.9" y2="284.29" stroke="#9a58d2" stroke-width="1.2"/>
<line x1="595.9" y1="284.29" x2="601.66" y2="282.39" stroke="#9a58d2" stroke-width="1.2"/>
<line x1="575.29" y1="318.06" x2="586.41" y2="318.82" stroke="#9a58d2" stroke-width="1.2"/>
<line x1="586.41" y1="318.82" x2="590.21" y2="320.72" stroke="#9a58d2" stroke-width="1.2"/>
<line x1="616.77" y1="302.69" x2="618.67" y2="306.49" stroke="#dc1010" stroke-width="1.2"/>
<line x1="618.67" y1="306.49" x2="622.47" y2="310.28" stroke="#dc1010" stroke-width="1.2"/>
<line x1="622.47" y1="310.28" x2="625.31" y2="313.13" stroke="#dc1010" stroke-width="1.2"/>
<line x1="625.31" y1="313.13" x2="627.21" y2="316.93" stroke="#dc1010" stroke-width="1.2"/>
<line x1="620.57" y1="303.64" x2="623.98" y2="309.72" stroke="#dc1010" stroke-width="1.2"/>
<line x1="608.24" y1="293.78" x2="613.93" y2="307.44" stroke="#9a58d2" stroke-width="1.2"/>
<line x1="613.93" y1="307.44" x2="605.39" y2="320.72" stroke="#9a58d2" stroke-width="1.2"/>
<line x1="613.93" y1="307.44" x2="616.3" y2="306.96" stroke="#9a58d2" stroke-width="1.2"/>
<line x1="616.3" y1="306.96" x2="618.67" y2="306.49" stroke="#dc1010" stroke-width="1.2"/>
<line x1="627.21" y1="316.93" x2="624.27" y2="316.93" stroke="#dc1010" stroke-width="1.2"/>
<line x1="624.27" y1="316.93" x2="621.33" y2="316.93" stroke="#9a58d2" stroke-width="1.2"/>
<ellipse cx="565.16" cy="274.8" rx="2.75" ry="2" fill="url(#gR)"/>
<ellipse cx="574.27" cy="275.58" rx="2.2" ry="1.6" fill="url(#gP)"/>
<ellipse cx="581.48" cy="275.58" rx="2.2" ry="1.6" fill="url(#gP)"/>
<ellipse cx="542.96" cy="277.47" rx="2.2" ry="1.6" fill="url(#gP)"/>
<ellipse cx="550.17" cy="277.47" rx="2.2" ry="1.6" fill="url(#gP)"/>
<ellipse cx="608.24" cy="278.6" rx="2.2" ry="1.6" fill="url(#gP)"/>
<ellipse cx="564.59" cy="278.98" rx="2.75" ry="2" fill="url(#gR)"/>
<ellipse cx="569.72" cy="279.92" rx="2.75" ry="2" fill="url(#gR)"/>
<ellipse cx="585.09" cy="281.82" rx="2.2" ry="1.6" fill="url(#gP)"/>
<ellipse cx="570.66" cy="281.82" rx="2.2" ry="1.6" fill="url(#gP)"/>
<ellipse cx="614.81" cy="282.39" rx="2.2" ry="1.6" fill="url(#gP)"/>
<ellipse cx="601.66" cy="282.39" rx="2.2" ry="1.6" fill="url(#gP)"/>
<ellipse cx="553.78" cy="283.72" rx="2.2" ry="1.6" fill="url(#gP)"/>
<ellipse cx="539.35" cy="283.72" rx="2.2" ry="1.6" fill="url(#gP)"/>
<ellipse cx="595.9" cy="284.29" rx="2.2" ry="1.6" fill="url(#gP)"/>
<ellipse cx="571.23" cy="284.67" rx="2.75" ry="2" fill="url(#gR)"/>
<ellipse cx="581.48" cy="288.07" rx="2.2" ry="1.6" fill="url(#gP)"/>
<ellipse cx="574.27" cy="288.07" rx="2.2" ry="1.6" fill="url(#gP)"/>
<ellipse cx="567.44" cy="288.46" rx="2.75" ry="2" fill="url(#gR)"/>
<ellipse cx="550.17" cy="289.96" rx="2.2" ry="1.6" fill="url(#gP)"/>
<ellipse cx="542.96" cy="289.96" rx="2.2" ry="1.6" fill="url(#gP)"/>
<ellipse cx="614.81" cy="289.98" rx="2.2" ry="1.6" fill="url(#gP)"/>
<ellipse cx="601.66" cy="289.98" rx="2.2" ry="1.6" fill="url(#gP)"/>
<ellipse cx="571.61" cy="290.36" rx="2.75" ry="2" fill="url(#gR)"/>
<ellipse cx="565.92" cy="291.31" rx="2.2" ry="1.6" fill="url(#gP)"/>
<ellipse cx="608.24" cy="293.78" rx="2.2" ry="1.6" fill="url(#gP)"/>
<ellipse cx="573.51" cy="294.16" rx="2.75" ry="2" fill="url(#gR)"/>
<ellipse cx="616.77" cy="302.69" rx="2.75" ry="2" fill="url(#gR)"/>
<ellipse cx="620.57" cy="303.64" rx="2.75" ry="2" fill="url(#gR)"/>
<ellipse cx="568.39" cy="306.11" rx="2.2" ry="1.6" fill="url(#gP)"/>
<ellipse cx="618.67" cy="306.49" rx="2.75" ry="2" fill="url(#gR)"/>
<ellipse cx="613.93" cy="307.44" rx="2.2" ry="1.6" fill="url(#gP)"/>
<ellipse cx="623.98" cy="309.72" rx="2.75" ry="2" fill="url(#gR)"/>
<ellipse cx="561.49" cy="310.09" rx="2.2" ry="1.6" fill="url(#gP)"/>
<ellipse cx="575.29" cy="310.09" rx="2.2" ry="1.6" fill="url(#gP)"/>
<ellipse cx="622.47" cy="310.28" rx="2.75" ry="2" fill="url(#gR)"/>
<ellipse cx="624.74" cy="311.01" rx="2.2" ry="1.6" fill="url(#gP)"/>
<ellipse cx="631.57" cy="311.01" rx="2.2" ry="1.6" fill="url(#gP)"/>
<ellipse cx="625.31" cy="313.13" rx="2.75" ry="2" fill="url(#gR)"/>
<ellipse cx="594" cy="314.15" rx="2.2" ry="1.6" fill="url(#gP)"/>
<ellipse cx="601.59" cy="314.15" rx="2.2" ry="1.6" fill="url(#gP)"/>
<ellipse cx="634.99" cy="316.93" rx="2.2" ry="1.6" fill="url(#gP)"/>
<ellipse cx="621.33" cy="316.93" rx="2.2" ry="1.6" fill="url(#gP)"/>
<ellipse cx="627.21" cy="316.93" rx="2.75" ry="2" fill="url(#gR)"/>
<ellipse cx="575.29" cy="318.06" rx="2.2" ry="1.6" fill="url(#gP)"/>
<ellipse cx="561.49" cy="318.06" rx="2.2" ry="1.6" fill="url(#gP)"/>
<ellipse cx="586.41" cy="318.82" rx="2.2" ry="1.6" fill="url(#gP)"/>
<ellipse cx="605.39" cy="320.72" rx="2.2" ry="1.6" fill="url(#gP)"/>
<ellipse cx="590.21" cy="320.72" rx="2.2" ry="1.6" fill="url(#gP)"/>
<ellipse cx="568.39" cy="322.05" rx="2.2" ry="1.6" fill="url(#gP)"/>
<ellipse cx="631.57" cy="322.84" rx="2.2" ry="1.6" fill="url(#gP)"/>
<ellipse cx="624.74" cy="322.84" rx="2.2" ry="1.6" fill="url(#gP)"/>
<ellipse cx="601.59" cy="327.29" rx="2.2" ry="1.6" fill="url(#gP)"/>
<ellipse cx="594" cy="327.29" rx="2.2" ry="1.6" fill="url(#gP)"/>
<text x="0.8" y="389.2" font-size="12">c</text>
<line x1="108.9" y1="382.8" x2="115.3" y2="391" stroke="#45b0b8" stroke-width="1.7"/>
<line x1="108.9" y1="382.8" x2="98.8" y2="386" stroke="#45b0b8" stroke-width="1.7"/>
<line x1="115.3" y1="391" x2="111.6" y2="403.4" stroke="#45b0b8" stroke-width="1.7"/>
<line x1="111.6" y1="403.4" x2="101.5" y2="405.7" stroke="#45b0b8" stroke-width="1.7"/>
<line x1="111.6" y1="403.4" x2="116.6" y2="413.5" stroke="#45b0b8" stroke-width="1.7"/>
<line x1="101.5" y1="405.7" x2="95.1" y2="397.9" stroke="#45b0b8" stroke-width="1.7"/>
<line x1="101.5" y1="405.7" x2="99.7" y2="417.6" stroke="#45b0b8" stroke-width="1.7"/>
<line x1="95.1" y1="397.9" x2="98.8" y2="386" stroke="#45b0b8" stroke-width="1.7"/>
<line x1="116.6" y1="413.5" x2="109.8" y2="422.2" stroke="#45b0b8" stroke-width="1.7"/>
<line x1="116.6" y1="413.5" x2="126.2" y2="417.6" stroke="#45b0b8" stroke-width="1.7"/>
<line x1="109.8" y1="422.2" x2="99.7" y2="417.6" stroke="#45b0b8" stroke-width="1.7"/>
<line x1="109.8" y1="422.2" x2="103.4" y2="423.1" stroke="#45b0b8" stroke-width="1.7"/>
<line x1="109.8" y1="422.2" x2="111.5" y2="432.8" stroke="#45b0b8" stroke-width="1.7"/>
<line x1="99.7" y1="417.6" x2="90.6" y2="421.2" stroke="#45b0b8" stroke-width="1.7"/>
<line x1="99.7" y1="417.6" x2="103.4" y2="423.1" stroke="#45b0b8" stroke-width="1.7"/>
<line x1="126.2" y1="417.6" x2="129.9" y2="427.6" stroke="#45b0b8" stroke-width="1.7"/>
<line x1="129.9" y1="427.6" x2="120.6" y2="428" stroke="#45b0b8" stroke-width="1.7"/>
<line x1="85.1" y1="414.4" x2="77.7" y2="419.6" stroke="#45b0b8" stroke-width="1.7"/>
<line x1="85.1" y1="414.4" x2="90.6" y2="421.2" stroke="#45b0b8" stroke-width="1.7"/>
<line x1="77.7" y1="419.6" x2="76.1" y2="433.3" stroke="#45b0b8" stroke-width="1.7"/>
<line x1="76.1" y1="433.3" x2="86.6" y2="432.8" stroke="#45b0b8" stroke-width="1.7"/>
<line x1="76.1" y1="433.3" x2="81.1" y2="439.2" stroke="#45b0b8" stroke-width="1.7"/>
<line x1="76.1" y1="433.3" x2="70.2" y2="444.3" stroke="#45b0b8" stroke-width="1.7"/>
<line x1="86.6" y1="432.8" x2="81.1" y2="439.2" stroke="#45b0b8" stroke-width="1.7"/>
<line x1="81.1" y1="439.2" x2="70.2" y2="444.3" stroke="#45b0b8" stroke-width="1.7"/>
<line x1="81.1" y1="439.2" x2="79.3" y2="451.6" stroke="#45b0b8" stroke-width="1.7"/>
<line x1="62.4" y1="443.4" x2="70.2" y2="444.3" stroke="#45b0b8" stroke-width="1.7"/>
<line x1="62.4" y1="443.4" x2="58.7" y2="448.9" stroke="#45b0b8" stroke-width="1.7"/>
<line x1="62.4" y1="443.4" x2="57.8" y2="458.9" stroke="#45b0b8" stroke-width="1.7"/>
<line x1="70.2" y1="444.3" x2="58.7" y2="448.9" stroke="#45b0b8" stroke-width="1.7"/>
<line x1="70.2" y1="444.3" x2="79.3" y2="451.6" stroke="#45b0b8" stroke-width="1.7"/>
<line x1="70.2" y1="444.3" x2="72.4" y2="455.3" stroke="#45b0b8" stroke-width="1.7"/>
<line x1="58.7" y1="448.9" x2="57.8" y2="458.9" stroke="#45b0b8" stroke-width="1.7"/>
<line x1="79.3" y1="451.6" x2="72.4" y2="455.3" stroke="#45b0b8" stroke-width="1.7"/>
<line x1="72.4" y1="455.3" x2="57.8" y2="458.9" stroke="#45b0b8" stroke-width="1.7"/>
<line x1="72.4" y1="455.3" x2="69.7" y2="468.1" stroke="#45b0b8" stroke-width="1.7"/>
<line x1="57.8" y1="458.9" x2="69.7" y2="468.1" stroke="#45b0b8" stroke-width="1.7"/>
<line x1="57.8" y1="458.9" x2="61.5" y2="470.8" stroke="#45b0b8" stroke-width="1.7"/>
<line x1="57.8" y1="458.9" x2="53" y2="466" stroke="#45b0b8" stroke-width="1.7"/>
<line x1="69.7" y1="468.1" x2="61.5" y2="470.8" stroke="#45b0b8" stroke-width="1.7"/>
<line x1="61.5" y1="470.8" x2="53" y2="466" stroke="#45b0b8" stroke-width="1.7"/>
<line x1="89.8" y1="458.9" x2="94.4" y2="462.6" stroke="#45b0b8" stroke-width="1.7"/>
<line x1="94.4" y1="462.6" x2="101.7" y2="464.4" stroke="#45b0b8" stroke-width="1.7"/>
<line x1="94.4" y1="462.6" x2="100.5" y2="463.9" stroke="#45b0b8" stroke-width="1.7"/>
<line x1="94.4" y1="462.6" x2="103.2" y2="457.5" stroke="#45b0b8" stroke-width="1.7"/>
<line x1="101.7" y1="464.4" x2="110.6" y2="461.2" stroke="#45b0b8" stroke-width="1.7"/>
<line x1="101.7" y1="464.4" x2="100.5" y2="463.9" stroke="#45b0b8" stroke-width="1.7"/>
<line x1="101.7" y1="464.4" x2="103.2" y2="457.5" stroke="#45b0b8" stroke-width="1.7"/>
<line x1="111.5" y1="432.8" x2="120.6" y2="428" stroke="#45b0b8" stroke-width="1.7"/>
<line x1="111.5" y1="432.8" x2="113" y2="441" stroke="#45b0b8" stroke-width="1.7"/>
<line x1="121.5" y1="450.2" x2="126.1" y2="452" stroke="#45b0b8" stroke-width="1.7"/>
<line x1="121.5" y1="450.2" x2="133.4" y2="452.9" stroke="#45b0b8" stroke-width="1.7"/>
<line x1="121.5" y1="450.2" x2="129.8" y2="456.6" stroke="#45b0b8" stroke-width="1.7"/>
<line x1="121.5" y1="450.2" x2="118.8" y2="461.2" stroke="#45b0b8" stroke-width="1.7"/>
<line x1="126.1" y1="452" x2="133.4" y2="452.9" stroke="#45b0b8" stroke-width="1.7"/>
<line x1="126.1" y1="452" x2="136.2" y2="458.4" stroke="#45b0b8" stroke-width="1.7"/>
<line x1="126.1" y1="452" x2="129.8" y2="456.6" stroke="#45b0b8" stroke-width="1.7"/>
<line x1="126.1" y1="452" x2="118.8" y2="461.2" stroke="#45b0b8" stroke-width="1.7"/>
<line x1="126.1" y1="452" x2="122.4" y2="463.9" stroke="#45b0b8" stroke-width="1.7"/>
<line x1="133.4" y1="452.9" x2="136.2" y2="458.4" stroke="#45b0b8" stroke-width="1.7"/>
<line x1="133.4" y1="452.9" x2="129.8" y2="456.6" stroke="#45b0b8" stroke-width="1.7"/>
<line x1="133.4" y1="452.9" x2="133.4" y2="463.9" stroke="#45b0b8" stroke-width="1.7"/>
<line x1="136.2" y1="458.4" x2="129.8" y2="456.6" stroke="#45b0b8" stroke-width="1.7"/>
<line x1="136.2" y1="458.4" x2="133.4" y2="463.9" stroke="#45b0b8" stroke-width="1.7"/>
<line x1="136.2" y1="458.4" x2="138" y2="466.7" stroke="#45b0b8" stroke-width="1.7"/>
<line x1="136.2" y1="458.4" x2="142.6" y2="466.7" stroke="#45b0b8" stroke-width="1.7"/>
<line x1="129.8" y1="456.6" x2="118.8" y2="461.2" stroke="#45b0b8" stroke-width="1.7"/>
<line x1="129.8" y1="456.6" x2="122.4" y2="463.9" stroke="#45b0b8" stroke-width="1.7"/>
<line x1="129.8" y1="456.6" x2="133.4" y2="463.9" stroke="#45b0b8" stroke-width="1.7"/>
<line x1="118.8" y1="461.2" x2="122.4" y2="463.9" stroke="#45b0b8" stroke-width="1.7"/>
<line x1="118.8" y1="461.2" x2="110.6" y2="461.2" stroke="#45b0b8" stroke-width="1.7"/>
<line x1="122.4" y1="463.9" x2="133.4" y2="463.9" stroke="#45b0b8" stroke-width="1.7"/>
<line x1="110.6" y1="461.2" x2="100.5" y2="463.9" stroke="#45b0b8" stroke-width="1.7"/>
<line x1="110.6" y1="461.2" x2="103.2" y2="457.5" stroke="#45b0b8" stroke-width="1.7"/>
<line x1="100.5" y1="463.9" x2="103.2" y2="457.5" stroke="#45b0b8" stroke-width="1.7"/>
<line x1="133.4" y1="463.9" x2="138" y2="466.7" stroke="#45b0b8" stroke-width="1.7"/>
<line x1="133.4" y1="463.9" x2="142.6" y2="466.7" stroke="#45b0b8" stroke-width="1.7"/>
<line x1="133.4" y1="463.9" x2="144.9" y2="470.8" stroke="#45b0b8" stroke-width="1.7"/>
<line x1="133.4" y1="463.9" x2="140.7" y2="471.2" stroke="#45b0b8" stroke-width="1.7"/>
<line x1="138" y1="466.7" x2="142.6" y2="466.7" stroke="#45b0b8" stroke-width="1.7"/>
<line x1="138" y1="466.7" x2="144.9" y2="470.8" stroke="#45b0b8" stroke-width="1.7"/>
<line x1="138" y1="466.7" x2="140.7" y2="471.2" stroke="#45b0b8" stroke-width="1.7"/>
<line x1="142.6" y1="466.7" x2="144.9" y2="470.8" stroke="#45b0b8" stroke-width="1.7"/>
<line x1="142.6" y1="466.7" x2="140.7" y2="471.2" stroke="#45b0b8" stroke-width="1.7"/>
<line x1="144.9" y1="470.8" x2="140.7" y2="471.2" stroke="#45b0b8" stroke-width="1.7"/>
<line x1="112.5" y1="374.1" x2="108.9" y2="382.8" stroke="#9a9a9a" stroke-width="1.36"/>
<line x1="94.7" y1="380.5" x2="98.8" y2="386" stroke="#9a9a9a" stroke-width="1.36"/>
<line x1="124.9" y1="390.1" x2="115.3" y2="391" stroke="#9a9a9a" stroke-width="1.36"/>
<line x1="87.8" y1="399.7" x2="95.1" y2="397.9" stroke="#9a9a9a" stroke-width="1.36"/>
<line x1="59.6" y1="433.3" x2="62.4" y2="443.4" stroke="#9a9a9a" stroke-width="1.36"/>
<line x1="48.7" y1="460.7" x2="53" y2="466" stroke="#9a9a9a" stroke-width="1.36"/>
<line x1="137.5" y1="431.9" x2="129.9" y2="427.6" stroke="#9a9a9a" stroke-width="1.36"/>
<line x1="129.8" y1="449.3" x2="126.1" y2="452" stroke="#9a9a9a" stroke-width="1.36"/>
<line x1="142.6" y1="447.4" x2="133.4" y2="452.9" stroke="#9a9a9a" stroke-width="1.36"/>
<line x1="145.8" y1="455.7" x2="136.2" y2="458.4" stroke="#9a9a9a" stroke-width="1.36"/>
<line x1="117.9" y1="466.7" x2="122.4" y2="463.9" stroke="#9a9a9a" stroke-width="1.36"/>
<line x1="150.8" y1="474.9" x2="144.9" y2="470.8" stroke="#9a9a9a" stroke-width="1.36"/>
<line x1="58.1" y1="484" x2="61.5" y2="470.8" stroke="#9a9a9a" stroke-width="1.36"/>
<circle cx="89.8" cy="437" r="1.95" fill="url(#gH)"/>
<circle cx="56.8" cy="415" r="1.95" fill="url(#gH)"/>
<circle cx="67.9" cy="437.9" r="2.08" fill="url(#gH)"/>
<circle cx="87.8" cy="399.7" r="2.21" fill="url(#gH)"/>
<circle cx="86.2" cy="463.5" r="2.21" fill="url(#gH)"/>
<circle cx="99" cy="449.8" r="2.34" fill="url(#gH)"/>
<circle cx="106" cy="439.2" r="2.34" fill="url(#gH)"/>
<circle cx="98.7" cy="449.3" r="2.34" fill="url(#gH)"/>
<circle cx="142.6" cy="447.4" r="2.34" fill="url(#gH)"/>
<circle cx="145.8" cy="455.7" r="2.34" fill="url(#gH)"/>
<circle cx="117.9" cy="466.7" r="2.34" fill="url(#gH)"/>
<circle cx="112.5" cy="374.1" r="2.73" fill="url(#gH)"/>
<circle cx="94.7" cy="380.5" r="2.73" fill="url(#gH)"/>
<circle cx="124.9" cy="390.1" r="2.73" fill="url(#gH)"/>
<circle cx="137.5" cy="431.9" r="2.73" fill="url(#gH)"/>
<circle cx="113" cy="441" r="2.86" fill="url(#gT)"/>
<circle cx="117.9" cy="440.1" r="2.86" fill="url(#gH)"/>
<circle cx="129.8" cy="449.3" r="2.99" fill="url(#gH)"/>
<circle cx="120.6" cy="428" r="3.12" fill="url(#gT)"/>
<circle cx="109.8" cy="422.2" r="3.38" fill="url(#gT)"/>
<circle cx="90.6" cy="421.2" r="3.38" fill="url(#gT)"/>
<circle cx="103.4" cy="423.1" r="3.38" fill="url(#gT)"/>
<circle cx="100.5" cy="463.9" r="3.38" fill="url(#gT)"/>
<circle cx="103.2" cy="457.5" r="3.38" fill="url(#gT)"/>
<circle cx="59.6" cy="433.3" r="3.38" fill="url(#gH)"/>
<circle cx="99.7" cy="417.6" r="3.64" fill="url(#gT)"/>
<circle cx="129.9" cy="427.6" r="3.64" fill="url(#gT)"/>
<circle cx="89.8" cy="458.9" r="3.64" fill="url(#gT)"/>
<circle cx="94.4" cy="462.6" r="3.64" fill="url(#gT)"/>
<circle cx="101.7" cy="464.4" r="3.64" fill="url(#gT)"/>
<circle cx="111.5" cy="432.8" r="3.64" fill="url(#gT)"/>
<circle cx="118.8" cy="461.2" r="3.64" fill="url(#gT)"/>
<circle cx="122.4" cy="463.9" r="3.64" fill="url(#gT)"/>
<circle cx="110.6" cy="461.2" r="3.64" fill="url(#gT)"/>
<circle cx="133.4" cy="463.9" r="3.64" fill="url(#gT)"/>
<circle cx="58.1" cy="484" r="3.64" fill="url(#gH)"/>
<circle cx="126.2" cy="417.6" r="3.77" fill="url(#gT)"/>
<circle cx="111.6" cy="403.4" r="3.9" fill="url(#gT)"/>
<circle cx="101.5" cy="405.7" r="3.9" fill="url(#gT)"/>
<circle cx="95.1" cy="397.9" r="3.9" fill="url(#gT)"/>
<circle cx="116.6" cy="413.5" r="3.9" fill="url(#gT)"/>
<circle cx="85.1" cy="414.4" r="3.9" fill="url(#gT)"/>
<circle cx="86.6" cy="432.8" r="3.9" fill="url(#gT)"/>
<circle cx="81.1" cy="439.2" r="3.9" fill="url(#gT)"/>
<circle cx="79.3" cy="451.6" r="3.9" fill="url(#gT)"/>
<circle cx="126.1" cy="452" r="3.9" fill="url(#gT)"/>
<circle cx="133.4" cy="452.9" r="3.9" fill="url(#gT)"/>
<circle cx="136.2" cy="458.4" r="3.9" fill="url(#gT)"/>
<circle cx="129.8" cy="456.6" r="3.9" fill="url(#gT)"/>
<circle cx="138" cy="466.7" r="3.9" fill="url(#gT)"/>
<circle cx="150.8" cy="474.9" r="3.9" fill="url(#gH)"/>
<circle cx="108.9" cy="382.8" r="4.03" fill="url(#gT)"/>
<circle cx="115.3" cy="391" r="4.03" fill="url(#gT)"/>
<circle cx="98.8" cy="386" r="4.03" fill="url(#gT)"/>
<circle cx="48.7" cy="460.7" r="4.03" fill="url(#gH)"/>
<circle cx="77.7" cy="419.6" r="4.16" fill="url(#gT)"/>
<circle cx="58.7" cy="448.9" r="4.16" fill="url(#gT)"/>
<circle cx="53" cy="466" r="4.16" fill="url(#gT)"/>
<circle cx="121.5" cy="450.2" r="4.16" fill="url(#gT)"/>
<circle cx="140.7" cy="471.2" r="4.16" fill="url(#gT)"/>
<circle cx="72.4" cy="455.3" r="4.42" fill="url(#gT)"/>
<circle cx="76.1" cy="433.3" r="4.55" fill="url(#gT)"/>
<circle cx="70.2" cy="444.3" r="4.55" fill="url(#gT)"/>
<circle cx="142.6" cy="466.7" r="4.68" fill="url(#gT)"/>
<circle cx="144.9" cy="470.8" r="4.68" fill="url(#gT)"/>
<circle cx="62.4" cy="443.4" r="4.94" fill="url(#gT)"/>
<circle cx="69.7" cy="468.1" r="4.94" fill="url(#gT)"/>
<circle cx="61.5" cy="470.8" r="5.2" fill="url(#gT)"/>
<circle cx="57.8" cy="458.9" r="5.46" fill="url(#gT)"/>
<ellipse cx="104.8" cy="394.5" rx="1.6" ry="0.7" fill="#e81818" transform="rotate(10 104.8 394.5)"/>
<ellipse cx="106.7" cy="412.6" rx="1.6" ry="0.8" fill="#e81818"/>
<ellipse cx="118" cy="426" rx="1.6" ry="0.7" fill="#e81818" transform="rotate(10 118 426)"/>
<ellipse cx="82.8" cy="427.1" rx="3.2" ry="0.8" fill="#e81818" transform="rotate(20 82.8 427.1)"/>
<ellipse cx="76" cy="445" rx="2" ry="0.7" fill="#e81818"/>
<ellipse cx="68" cy="458.5" rx="3.2" ry="0.7" fill="#e81818" transform="rotate(10 68 458.5)"/>
<ellipse cx="118" cy="455" rx="1" ry="2.4" fill="#e81818"/>
<ellipse cx="132.6" cy="461.9" rx="1.8" ry="0.8" fill="#e06020" transform="rotate(-30 132.6 461.9)"/>
<ellipse cx="102" cy="470" rx="0.8" ry="1.6" fill="#e81818"/>
<ellipse cx="91" cy="407.5" rx="3.2" ry="3.8" fill="#3ccc2a"/>
<ellipse cx="93.5" cy="409" rx="1.8" ry="3" fill="#c8781e" transform="rotate(20 93.5 409)"/>
<ellipse cx="126.3" cy="438.6" rx="12" ry="3" fill="#3ccc2a" transform="rotate(-5 126.3 438.6)"/>
<ellipse cx="128" cy="439.6" rx="9" ry="1.8" fill="#c8781e" transform="rotate(-5 128 439.6)"/>
<ellipse cx="126.9" cy="400.2" rx="1.6" ry="0.7" fill="#6ad040" transform="rotate(-20 126.9 400.2)"/>
<ellipse cx="67.5" cy="425" rx="1.4" ry="0.7" fill="#6ad040" transform="rotate(20 67.5 425)"/>
<path d="M98.5,435.5 Q97.5,441 95.5,444 Q93,447.5 90,449 M101.5,446 Q99.5,443 103,439.5 M103.5,448 Q108,448 109,441.5" stroke="#3a4a08" stroke-width="1.5" fill="none"/>
<path d="M98.5,435.5 Q97.5,441 95.5,444" stroke="#50c030" stroke-width="0.6" fill="none"/>
<path d="M103.5,448 Q108,448 109,441.5" stroke="#c07020" stroke-width="0.6" fill="none"/>
<ellipse cx="84" cy="440" rx="1" ry="3" fill="#3ccc2a" transform="rotate(10 84 440)"/>
<ellipse cx="86" cy="440" rx="0.8" ry="2.4" fill="#c8781e" transform="rotate(10 86 440)"/>
<ellipse cx="113.5" cy="444.6" rx="0.9" ry="3.2" fill="#c8781e"/>
<ellipse cx="80.5" cy="463" rx="0.8" ry="2.8" fill="#c8781e" transform="rotate(10 80.5 463)"/>
<ellipse cx="80.5" cy="463" rx="0.5" ry="1.8" fill="#3ccc2a" transform="rotate(10 80.5 463)"/>
<ellipse cx="57" cy="455" rx="1.2" ry="2.2" fill="#3ccc2a"/>
<ellipse cx="150" cy="463" rx="1" ry="2.4" fill="#c8781e" transform="rotate(10 150 463)"/>
<ellipse cx="127.8" cy="400.2" rx="4.9" ry="4.3" stroke="#000" stroke-width="1.35" fill="none"/>
<ellipse cx="91.5" cy="407.2" rx="6" ry="6.3" stroke="#000" stroke-width="1.35" fill="none"/>
<ellipse cx="67.5" cy="424.8" rx="4.3" ry="3.9" stroke="#000" stroke-width="1.35" fill="none"/>
<ellipse cx="100.3" cy="444.8" rx="12.4" ry="12.4" stroke="#000" stroke-width="1.35" fill="none"/>
<ellipse cx="127.6" cy="439.2" rx="16.3" ry="6.8" stroke="#000" stroke-width="1.35" fill="none"/>
<line x1="127.6" y1="398.6" x2="79.57" y2="392.18" stroke="#000" stroke-width="1.05"/>
<polygon points="76,391.7 79.79,390.49 79.34,393.86" fill="#000" stroke="none" stroke-width="0.8"/>
<line x1="89.5" y1="401.8" x2="78.39" y2="395.97" stroke="#000" stroke-width="1.05"/>
<polygon points="75.2,394.3 79.18,394.47 77.6,397.48" fill="#000" stroke="none" stroke-width="0.8"/>
<line x1="71.8" y1="424.5" x2="134.64" y2="414.75" stroke="#000" stroke-width="1.05"/>
<polygon points="138.2,414.2 134.9,416.43 134.38,413.07" fill="#000" stroke="none" stroke-width="0.8"/>
<line x1="129.5" y1="432.6" x2="133.35" y2="422.18" stroke="#000" stroke-width="1.05"/>
<polygon points="134.6,418.8 134.95,422.77 131.76,421.59" fill="#000" stroke="none" stroke-width="0.8"/>
<line x1="96" y1="457.2" x2="96" y2="471" stroke="#000" stroke-width="1.05"/>
<polygon points="96,474.6 94.3,471 97.7,471" fill="#000" stroke="none" stroke-width="0.8"/>
<text x="65.7" y="395.5" font-size="8.6" text-anchor="middle" textLength="20.5" lengthAdjust="spacingAndGlyphs">H···H</text>
<text x="147.2" y="417.6" font-size="8.6" text-anchor="middle" textLength="30" lengthAdjust="spacingAndGlyphs">C-H···π</text>
<text x="95.6" y="482.7" font-size="8.6" text-anchor="middle" textLength="44.5" lengthAdjust="spacingAndGlyphs">Δ-stacking</text>
<text x="104.5" y="497.8" font-size="9.4" text-anchor="middle" fill="#111" textLength="65" lengthAdjust="spacingAndGlyphs" font-weight="normal" stroke="#111" stroke-width="0.28"><tspan font-style="italic">cis-trans</tspan>-TWG1</text>
<text x="106.7" y="508.4" font-size="8.6" text-anchor="middle" textLength="82" lengthAdjust="spacingAndGlyphs">MSE: 15.3 Kcal/mol</text>
<line x1="264.57" y1="387.87" x2="251.43" y2="394.53" stroke="#45b0b8" stroke-width="1.6"/>
<line x1="264.57" y1="387.87" x2="276.83" y2="393.65" stroke="#45b0b8" stroke-width="1.6"/>
<line x1="251.43" y1="394.53" x2="252.65" y2="404.69" stroke="#45b0b8" stroke-width="1.6"/>
<line x1="276.83" y1="393.65" x2="275.08" y2="403.29" stroke="#45b0b8" stroke-width="1.6"/>
<line x1="252.65" y1="404.69" x2="263.69" y2="407.67" stroke="#45b0b8" stroke-width="1.6"/>
<line x1="252.65" y1="404.69" x2="257.56" y2="411.7" stroke="#45b0b8" stroke-width="1.6"/>
<line x1="275.08" y1="403.29" x2="269.82" y2="411.7" stroke="#45b0b8" stroke-width="1.6"/>
<line x1="263.69" y1="407.67" x2="257.56" y2="411.7" stroke="#45b0b8" stroke-width="1.6"/>
<line x1="263.69" y1="407.67" x2="269.82" y2="411.7" stroke="#45b0b8" stroke-width="1.6"/>
<line x1="245.29" y1="414.67" x2="243.89" y2="422.56" stroke="#45b0b8" stroke-width="1.6"/>
<line x1="243.89" y1="422.56" x2="242.49" y2="430.44" stroke="#45b0b8" stroke-width="1.6"/>
<line x1="242.49" y1="430.44" x2="244.59" y2="437.97" stroke="#45b0b8" stroke-width="1.6"/>
<line x1="244.59" y1="437.97" x2="247.4" y2="443.93" stroke="#45b0b8" stroke-width="1.6"/>
<line x1="247.4" y1="443.93" x2="254.05" y2="447.96" stroke="#45b0b8" stroke-width="1.6"/>
<line x1="282.08" y1="414.67" x2="283.49" y2="422.56" stroke="#45b0b8" stroke-width="1.6"/>
<line x1="283.49" y1="422.56" x2="284.71" y2="430.44" stroke="#45b0b8" stroke-width="1.6"/>
<line x1="284.71" y1="430.44" x2="282.96" y2="437.97" stroke="#45b0b8" stroke-width="1.6"/>
<line x1="282.96" y1="437.97" x2="280.33" y2="443.93" stroke="#45b0b8" stroke-width="1.6"/>
<line x1="280.33" y1="443.93" x2="275.08" y2="447.96" stroke="#45b0b8" stroke-width="1.6"/>
<line x1="254.05" y1="447.96" x2="261.06" y2="449.89" stroke="#45b0b8" stroke-width="1.6"/>
<line x1="254.05" y1="447.96" x2="256.16" y2="454.44" stroke="#45b0b8" stroke-width="1.6"/>
<line x1="261.06" y1="449.89" x2="268.07" y2="449.89" stroke="#45b0b8" stroke-width="1.6"/>
<line x1="261.06" y1="449.89" x2="256.16" y2="454.44" stroke="#45b0b8" stroke-width="1.6"/>
<line x1="261.06" y1="449.89" x2="263.16" y2="456.19" stroke="#45b0b8" stroke-width="1.6"/>
<line x1="268.07" y1="449.89" x2="275.08" y2="447.96" stroke="#45b0b8" stroke-width="1.6"/>
<line x1="268.07" y1="449.89" x2="263.16" y2="456.19" stroke="#45b0b8" stroke-width="1.6"/>
<line x1="268.07" y1="449.89" x2="270.17" y2="455.84" stroke="#45b0b8" stroke-width="1.6"/>
<line x1="275.08" y1="447.96" x2="270.17" y2="455.84" stroke="#45b0b8" stroke-width="1.6"/>
<line x1="275.08" y1="447.96" x2="276.83" y2="454.09" stroke="#45b0b8" stroke-width="1.6"/>
<line x1="256.16" y1="454.44" x2="263.16" y2="456.19" stroke="#45b0b8" stroke-width="1.6"/>
<line x1="256.16" y1="454.44" x2="248.8" y2="456.19" stroke="#45b0b8" stroke-width="1.6"/>
<line x1="263.16" y1="456.19" x2="270.17" y2="455.84" stroke="#45b0b8" stroke-width="1.6"/>
<line x1="270.17" y1="455.84" x2="276.83" y2="454.09" stroke="#45b0b8" stroke-width="1.6"/>
<line x1="276.83" y1="454.09" x2="280.33" y2="456.72" stroke="#45b0b8" stroke-width="1.6"/>
<line x1="229.53" y1="444.46" x2="219.89" y2="447.96" stroke="#45b0b8" stroke-width="1.6"/>
<line x1="229.53" y1="444.46" x2="240.04" y2="450.94" stroke="#45b0b8" stroke-width="1.6"/>
<line x1="229.53" y1="444.46" x2="231.28" y2="452.34" stroke="#45b0b8" stroke-width="1.6"/>
<line x1="219.89" y1="447.96" x2="221.64" y2="461.1" stroke="#45b0b8" stroke-width="1.6"/>
<line x1="221.64" y1="461.1" x2="233.91" y2="467.23" stroke="#45b0b8" stroke-width="1.6"/>
<line x1="233.91" y1="467.23" x2="242.67" y2="461.1" stroke="#45b0b8" stroke-width="1.6"/>
<line x1="233.91" y1="467.23" x2="236.53" y2="457.25" stroke="#45b0b8" stroke-width="1.6"/>
<line x1="240.04" y1="450.94" x2="242.67" y2="461.1" stroke="#45b0b8" stroke-width="1.6"/>
<line x1="240.04" y1="450.94" x2="236.53" y2="457.25" stroke="#45b0b8" stroke-width="1.6"/>
<line x1="240.04" y1="450.94" x2="231.28" y2="452.34" stroke="#45b0b8" stroke-width="1.6"/>
<line x1="242.67" y1="461.1" x2="236.53" y2="457.25" stroke="#45b0b8" stroke-width="1.6"/>
<line x1="242.67" y1="461.1" x2="248.8" y2="456.19" stroke="#45b0b8" stroke-width="1.6"/>
<line x1="236.53" y1="457.25" x2="231.28" y2="452.34" stroke="#45b0b8" stroke-width="1.6"/>
<line x1="298.2" y1="441.48" x2="290.84" y2="447.08" stroke="#45b0b8" stroke-width="1.6"/>
<line x1="298.2" y1="441.48" x2="308.36" y2="447.08" stroke="#45b0b8" stroke-width="1.6"/>
<line x1="290.84" y1="447.08" x2="292.6" y2="453.22" stroke="#45b0b8" stroke-width="1.6"/>
<line x1="308.36" y1="447.08" x2="306.26" y2="461.1" stroke="#45b0b8" stroke-width="1.6"/>
<line x1="308.36" y1="447.08" x2="300.48" y2="452.34" stroke="#45b0b8" stroke-width="1.6"/>
<line x1="306.26" y1="461.1" x2="296.1" y2="467.76" stroke="#45b0b8" stroke-width="1.6"/>
<line x1="306.26" y1="461.1" x2="300.48" y2="452.34" stroke="#45b0b8" stroke-width="1.6"/>
<line x1="296.1" y1="467.76" x2="287.34" y2="459.7" stroke="#45b0b8" stroke-width="1.6"/>
<line x1="287.34" y1="459.7" x2="292.6" y2="453.22" stroke="#45b0b8" stroke-width="1.6"/>
<line x1="287.34" y1="459.7" x2="280.33" y2="456.72" stroke="#45b0b8" stroke-width="1.6"/>
<line x1="292.6" y1="453.22" x2="300.48" y2="452.34" stroke="#45b0b8" stroke-width="1.6"/>
<line x1="265.44" y1="377.88" x2="264.57" y2="387.87" stroke="#9a9a9a" stroke-width="1.28"/>
<line x1="240.04" y1="391.9" x2="251.43" y2="394.53" stroke="#9a9a9a" stroke-width="1.28"/>
<line x1="288.74" y1="388.92" x2="276.83" y2="393.65" stroke="#9a9a9a" stroke-width="1.28"/>
<line x1="245.64" y1="408.19" x2="245.29" y2="414.67" stroke="#9a9a9a" stroke-width="1.28"/>
<line x1="281.73" y1="406.44" x2="275.08" y2="403.29" stroke="#9a9a9a" stroke-width="1.28"/>
<line x1="210.26" y1="441.83" x2="219.89" y2="447.96" stroke="#9a9a9a" stroke-width="1.28"/>
<line x1="228.65" y1="436.92" x2="229.53" y2="444.46" stroke="#9a9a9a" stroke-width="1.28"/>
<line x1="212.01" y1="466.36" x2="221.64" y2="461.1" stroke="#9a9a9a" stroke-width="1.28"/>
<line x1="247.92" y1="466.01" x2="242.67" y2="461.1" stroke="#9a9a9a" stroke-width="1.28"/>
<line x1="236.18" y1="475.82" x2="233.91" y2="467.23" stroke="#9a9a9a" stroke-width="1.28"/>
<line x1="316.25" y1="440.95" x2="308.36" y2="447.08" stroke="#9a9a9a" stroke-width="1.28"/>
<line x1="315.37" y1="467.23" x2="306.26" y2="461.1" stroke="#9a9a9a" stroke-width="1.28"/>
<line x1="282.96" y1="466.01" x2="287.34" y2="459.7" stroke="#9a9a9a" stroke-width="1.28"/>
<line x1="295.22" y1="475.12" x2="296.1" y2="467.76" stroke="#9a9a9a" stroke-width="1.28"/>
<line x1="254.93" y1="432.19" x2="244.59" y2="437.97" stroke="#9a9a9a" stroke-width="1.28"/>
<line x1="272.45" y1="430.44" x2="274.2" y2="419.05" stroke="#9a9a9a" stroke-width="1.28"/>
<circle cx="245.64" cy="408.19" r="2.07" fill="url(#gH)"/>
<circle cx="281.73" cy="406.44" r="2.07" fill="url(#gH)"/>
<circle cx="228.65" cy="436.92" r="2.18" fill="url(#gH)"/>
<circle cx="253.18" cy="419.05" r="2.3" fill="url(#gT)"/>
<circle cx="274.2" cy="419.05" r="2.3" fill="url(#gT)"/>
<circle cx="247.92" cy="466.01" r="2.3" fill="url(#gH)"/>
<circle cx="282.96" cy="466.01" r="2.3" fill="url(#gH)"/>
<circle cx="236.18" cy="475.82" r="2.42" fill="url(#gH)"/>
<circle cx="295.22" cy="475.12" r="2.42" fill="url(#gH)"/>
<circle cx="254.93" cy="432.19" r="2.42" fill="url(#gH)"/>
<circle cx="272.45" cy="430.44" r="2.42" fill="url(#gH)"/>
<circle cx="240.04" cy="391.9" r="2.53" fill="url(#gH)"/>
<circle cx="288.74" cy="388.92" r="2.53" fill="url(#gH)"/>
<circle cx="257.56" cy="411.7" r="2.64" fill="url(#gT)"/>
<circle cx="269.82" cy="411.7" r="2.64" fill="url(#gT)"/>
<circle cx="247.4" cy="443.93" r="2.64" fill="url(#gT)"/>
<circle cx="280.33" cy="443.93" r="2.64" fill="url(#gT)"/>
<circle cx="265.44" cy="377.88" r="2.64" fill="url(#gH)"/>
<circle cx="210.26" cy="441.83" r="2.64" fill="url(#gH)"/>
<circle cx="212.01" cy="466.36" r="2.64" fill="url(#gH)"/>
<circle cx="316.25" cy="440.95" r="2.64" fill="url(#gH)"/>
<circle cx="315.37" cy="467.23" r="2.64" fill="url(#gH)"/>
<circle cx="245.29" cy="414.67" r="2.76" fill="url(#gT)"/>
<circle cx="243.89" cy="422.56" r="2.76" fill="url(#gT)"/>
<circle cx="244.59" cy="437.97" r="2.76" fill="url(#gT)"/>
<circle cx="282.08" cy="414.67" r="2.76" fill="url(#gT)"/>
<circle cx="283.49" cy="422.56" r="2.76" fill="url(#gT)"/>
<circle cx="282.96" cy="437.97" r="2.76" fill="url(#gT)"/>
<circle cx="254.05" cy="447.96" r="2.76" fill="url(#gT)"/>
<circle cx="261.06" cy="449.89" r="2.76" fill="url(#gT)"/>
<circle cx="268.07" cy="449.89" r="2.76" fill="url(#gT)"/>
<circle cx="275.08" cy="447.96" r="2.76" fill="url(#gT)"/>
<circle cx="248.8" cy="456.19" r="2.76" fill="url(#gT)"/>
<circle cx="231.28" cy="452.34" r="2.76" fill="url(#gT)"/>
<circle cx="280.33" cy="456.72" r="2.76" fill="url(#gT)"/>
<circle cx="300.48" cy="452.34" r="2.76" fill="url(#gT)"/>
<circle cx="242.49" cy="430.44" r="2.88" fill="url(#gT)"/>
<circle cx="284.71" cy="430.44" r="2.88" fill="url(#gT)"/>
<circle cx="256.16" cy="454.44" r="2.88" fill="url(#gT)"/>
<circle cx="263.16" cy="456.19" r="2.88" fill="url(#gT)"/>
<circle cx="270.17" cy="455.84" r="2.88" fill="url(#gT)"/>
<circle cx="276.83" cy="454.09" r="2.88" fill="url(#gT)"/>
<circle cx="236.53" cy="457.25" r="2.99" fill="url(#gT)"/>
<circle cx="292.6" cy="453.22" r="2.99" fill="url(#gT)"/>
<circle cx="263.69" cy="407.67" r="3.22" fill="url(#gT)"/>
<circle cx="240.04" cy="450.94" r="3.22" fill="url(#gT)"/>
<circle cx="242.67" cy="461.1" r="3.22" fill="url(#gT)"/>
<circle cx="290.84" cy="447.08" r="3.22" fill="url(#gT)"/>
<circle cx="287.34" cy="459.7" r="3.22" fill="url(#gT)"/>
<circle cx="298.2" cy="441.48" r="3.45" fill="url(#gT)"/>
<circle cx="252.65" cy="404.69" r="3.79" fill="url(#gT)"/>
<circle cx="275.08" cy="403.29" r="3.79" fill="url(#gT)"/>
<circle cx="251.43" cy="394.53" r="4.37" fill="url(#gT)"/>
<circle cx="276.83" cy="393.65" r="4.37" fill="url(#gT)"/>
<circle cx="229.53" cy="444.46" r="4.37" fill="url(#gT)"/>
<circle cx="219.89" cy="447.96" r="4.37" fill="url(#gT)"/>
<circle cx="308.36" cy="447.08" r="4.37" fill="url(#gT)"/>
<circle cx="264.57" cy="387.87" r="4.48" fill="url(#gT)"/>
<circle cx="233.91" cy="467.23" r="4.48" fill="url(#gT)"/>
<circle cx="306.26" cy="461.1" r="4.48" fill="url(#gT)"/>
<circle cx="296.1" cy="467.76" r="4.48" fill="url(#gT)"/>
<circle cx="221.64" cy="461.1" r="4.6" fill="url(#gT)"/>
<ellipse cx="264.6" cy="399.8" rx="0.7" ry="2.6" fill="#e81818"/>
<ellipse cx="258" cy="402.5" rx="2.2" ry="0.7" fill="#e81818" transform="rotate(-30 258 402.5)"/>
<ellipse cx="270.5" cy="401.5" rx="2" ry="0.7" fill="#e81818" transform="rotate(30 270.5 401.5)"/>
<ellipse cx="248.8" cy="428" rx="2.4" ry="0.8" fill="#e81818" transform="rotate(30 248.8 428)"/>
<ellipse cx="281" cy="427" rx="2.4" ry="0.8" fill="#e81818" transform="rotate(-30 281 427)"/>
<ellipse cx="238.3" cy="441.8" rx="2.8" ry="0.7" fill="#e81818"/>
<ellipse cx="231.3" cy="455.8" rx="2.4" ry="0.8" fill="#e81818" transform="rotate(30 231.3 455.8)"/>
<ellipse cx="252.3" cy="455.8" rx="0.8" ry="2.2" fill="#e81818"/>
<ellipse cx="263" cy="453.8" rx="0.8" ry="2.2" fill="#e81818"/>
<ellipse cx="286" cy="440" rx="2.4" ry="0.8" fill="#e81818" transform="rotate(-20 286 440)"/>
<ellipse cx="296.5" cy="455.5" rx="2.5" ry="0.7" fill="#e81818" transform="rotate(30 296.5 455.5)"/>
<ellipse cx="300" cy="456" rx="1.5" ry="0.7" fill="#e81818" transform="rotate(20 300 456)"/>
<ellipse cx="248" cy="415.6" rx="3.4" ry="3.6" fill="#3ccc2a"/>
<ellipse cx="249.8" cy="415.4" rx="2.2" ry="3.3" fill="#e08a3a"/>
<ellipse cx="274.6" cy="413" rx="3" ry="3.8" fill="#e89a50"/>
<ellipse cx="276.4" cy="412.8" rx="1.6" ry="3.2" fill="#3ccc2a"/>
<ellipse cx="271.6" cy="397.8" rx="2.6" ry="1.6" fill="#7aa032" transform="rotate(-30 271.6 397.8)"/>
<ellipse cx="237.8" cy="437.3" rx="2.6" ry="3.4" fill="#6a8a28" transform="rotate(-20 237.8 437.3)"/>
<ellipse cx="278.5" cy="454" rx="2.8" ry="3.8" fill="#6a7a20" transform="rotate(10 278.5 454)"/>
<ellipse cx="252.5" cy="458" rx="2.8" ry="1.8" fill="#7a6a20" transform="rotate(20 252.5 458)"/>
<ellipse cx="228" cy="449.7" rx="2" ry="2.6" fill="#3ccc2a"/>
<ellipse cx="294.5" cy="459.2" rx="2.4" ry="2.8" fill="#8aaa30"/>
<ellipse cx="291" cy="433" rx="1.6" ry="2.4" fill="#3ccc2a"/>
<path d="M263.5,425 L263.5,436 L255.5,442 M263.5,436 L271.5,441.5" stroke="#7a9a20" stroke-width="1" fill="none"/>
<path d="M263.5,425 L263.5,436 L255.5,442 M263.5,436 L271.5,441.5" stroke="#d08a30" stroke-width="0.4" fill="none"/>
<ellipse cx="249.3" cy="415.3" rx="6.4" ry="6.1" stroke="#000" stroke-width="1.35" fill="none"/>
<ellipse cx="275.3" cy="412.8" rx="6.3" ry="6.3" stroke="#000" stroke-width="1.35" fill="none"/>
<ellipse cx="263" cy="434.8" rx="14.4" ry="14.2" stroke="#000" stroke-width="1.35" fill="none"/>
<ellipse cx="292.6" cy="429.8" rx="4.8" ry="4.3" stroke="#000" stroke-width="1.35" fill="none"/>
<line x1="246" y1="417" x2="232.76" y2="422.1" stroke="#000" stroke-width="1.05"/>
<polygon points="229.4,423.4 232.15,420.52 233.37,423.69" fill="#000" stroke="none" stroke-width="0.8"/>
<line x1="245.5" y1="420.2" x2="233.59" y2="424.4" stroke="#000" stroke-width="1.05"/>
<polygon points="230.2,425.6 233.03,422.8 234.16,426" fill="#000" stroke="none" stroke-width="0.8"/>
<line x1="269.5" y1="414.2" x2="254.5" y2="417.8" stroke="#000" stroke-width="1.05"/>
<line x1="295" y1="424.6" x2="296.5" y2="422.52" stroke="#000" stroke-width="1.05"/>
<polygon points="298.6,419.6 297.88,423.51 295.12,421.53" fill="#000" stroke="none" stroke-width="0.8"/>
<line x1="262.8" y1="448.8" x2="262.8" y2="475" stroke="#000" stroke-width="1.05"/>
<polygon points="262.8,478.6 261.1,475 264.5,475" fill="#000" stroke="none" stroke-width="0.8"/>
<text x="214.2" y="426" font-size="8.8" text-anchor="middle" textLength="28.1" lengthAdjust="spacingAndGlyphs">C-H···π</text>
<text x="304.6" y="419.3" font-size="8.6" text-anchor="middle" textLength="20.5" lengthAdjust="spacingAndGlyphs">H···H</text>
<text x="265.8" y="487.3" font-size="8.6" text-anchor="middle" textLength="45" lengthAdjust="spacingAndGlyphs">Δ-stacking</text>
<text x="263.5" y="497.8" font-size="9.4" text-anchor="middle" fill="#111" textLength="53" lengthAdjust="spacingAndGlyphs" font-weight="normal" stroke="#111" stroke-width="0.28"><tspan font-style="italic">cis-cis</tspan>-TWG1</text>
<text x="268.2" y="508.4" font-size="8.6" text-anchor="middle" textLength="81" lengthAdjust="spacingAndGlyphs">MSE: 12.5 Kcal/mol</text>
<line x1="375.5" y1="422.6" x2="359.7" y2="431.8" stroke="#45b0b8" stroke-width="1.5"/>
<line x1="375.5" y1="422.6" x2="389.9" y2="425.9" stroke="#45b0b8" stroke-width="1.5"/>
<line x1="359.7" y1="431.8" x2="364.3" y2="443" stroke="#45b0b8" stroke-width="1.5"/>
<line x1="364.3" y1="443" x2="379.4" y2="444.3" stroke="#45b0b8" stroke-width="1.5"/>
<line x1="379.4" y1="444.3" x2="390.6" y2="437" stroke="#45b0b8" stroke-width="1.5"/>
<line x1="390.6" y1="437" x2="389.9" y2="425.9" stroke="#45b0b8" stroke-width="1.5"/>
<line x1="390.6" y1="437" x2="400.4" y2="438.4" stroke="#45b0b8" stroke-width="1.5"/>
<line x1="390.6" y1="437" x2="396.5" y2="442.3" stroke="#45b0b8" stroke-width="1.5"/>
<line x1="389.9" y1="425.9" x2="395" y2="420" stroke="#45b0b8" stroke-width="1.5"/>
<line x1="408.3" y1="429.2" x2="417.5" y2="428.5" stroke="#45b0b8" stroke-width="1.5"/>
<line x1="408.3" y1="429.2" x2="400.4" y2="438.4" stroke="#45b0b8" stroke-width="1.5"/>
<line x1="417.5" y1="428.5" x2="422.8" y2="421.3" stroke="#45b0b8" stroke-width="1.5"/>
<line x1="417.5" y1="428.5" x2="426.5" y2="420.6" stroke="#45b0b8" stroke-width="1.5"/>
<line x1="409.6" y1="415.4" x2="418.2" y2="414.7" stroke="#45b0b8" stroke-width="1.5"/>
<line x1="409.6" y1="415.4" x2="402" y2="412" stroke="#45b0b8" stroke-width="1.5"/>
<line x1="418.2" y1="414.7" x2="422.8" y2="421.3" stroke="#45b0b8" stroke-width="1.5"/>
<line x1="418.2" y1="414.7" x2="426.5" y2="420.6" stroke="#45b0b8" stroke-width="1.5"/>
<line x1="422.8" y1="421.3" x2="433.1" y2="420.6" stroke="#45b0b8" stroke-width="1.5"/>
<line x1="422.8" y1="421.3" x2="426.5" y2="420.6" stroke="#45b0b8" stroke-width="1.5"/>
<line x1="400.4" y1="438.4" x2="396.5" y2="442.3" stroke="#45b0b8" stroke-width="1.5"/>
<line x1="400.4" y1="438.4" x2="403.1" y2="448.9" stroke="#45b0b8" stroke-width="1.5"/>
<line x1="400.4" y1="438.4" x2="408.3" y2="447.6" stroke="#45b0b8" stroke-width="1.5"/>
<line x1="396.5" y1="442.3" x2="403.1" y2="448.9" stroke="#45b0b8" stroke-width="1.5"/>
<line x1="396.5" y1="442.3" x2="399.1" y2="452.8" stroke="#45b0b8" stroke-width="1.5"/>
<line x1="403.1" y1="448.9" x2="408.3" y2="447.6" stroke="#45b0b8" stroke-width="1.5"/>
<line x1="403.1" y1="448.9" x2="414.9" y2="448.9" stroke="#45b0b8" stroke-width="1.5"/>
<line x1="403.1" y1="448.9" x2="399.1" y2="452.8" stroke="#45b0b8" stroke-width="1.5"/>
<line x1="403.1" y1="448.9" x2="412" y2="455" stroke="#45b0b8" stroke-width="1.5"/>
<line x1="408.3" y1="447.6" x2="414.9" y2="448.9" stroke="#45b0b8" stroke-width="1.5"/>
<line x1="408.3" y1="447.6" x2="399.1" y2="452.8" stroke="#45b0b8" stroke-width="1.5"/>
<line x1="408.3" y1="447.6" x2="412" y2="455" stroke="#45b0b8" stroke-width="1.5"/>
<line x1="414.9" y1="448.9" x2="424.1" y2="456.8" stroke="#45b0b8" stroke-width="1.5"/>
<line x1="414.9" y1="448.9" x2="412" y2="455" stroke="#45b0b8" stroke-width="1.5"/>
<line x1="424.1" y1="456.8" x2="420.2" y2="462" stroke="#45b0b8" stroke-width="1.5"/>
<line x1="424.1" y1="456.8" x2="437.1" y2="458.7" stroke="#45b0b8" stroke-width="1.5"/>
<line x1="424.1" y1="456.8" x2="432.5" y2="456.1" stroke="#45b0b8" stroke-width="1.5"/>
<line x1="424.1" y1="456.8" x2="428" y2="459" stroke="#45b0b8" stroke-width="1.5"/>
<line x1="420.2" y1="462" x2="412" y2="455" stroke="#45b0b8" stroke-width="1.5"/>
<line x1="420.2" y1="462" x2="428" y2="459" stroke="#45b0b8" stroke-width="1.5"/>
<line x1="438.4" y1="410.8" x2="448.9" y2="409.5" stroke="#45b0b8" stroke-width="1.5"/>
<line x1="438.4" y1="410.8" x2="433.1" y2="420.6" stroke="#45b0b8" stroke-width="1.5"/>
<line x1="448.9" y1="409.5" x2="454.8" y2="419.3" stroke="#45b0b8" stroke-width="1.5"/>
<line x1="454.8" y1="419.3" x2="448.3" y2="429.2" stroke="#45b0b8" stroke-width="1.5"/>
<line x1="454.8" y1="419.3" x2="466.6" y2="421.3" stroke="#45b0b8" stroke-width="1.5"/>
<line x1="448.3" y1="429.2" x2="438.4" y2="428.5" stroke="#45b0b8" stroke-width="1.5"/>
<line x1="448.3" y1="429.2" x2="455.5" y2="437.7" stroke="#45b0b8" stroke-width="1.5"/>
<line x1="448.3" y1="429.2" x2="443" y2="440" stroke="#45b0b8" stroke-width="1.5"/>
<line x1="438.4" y1="428.5" x2="433.1" y2="420.6" stroke="#45b0b8" stroke-width="1.5"/>
<line x1="438.4" y1="428.5" x2="430" y2="436" stroke="#45b0b8" stroke-width="1.5"/>
<line x1="433.1" y1="420.6" x2="426.5" y2="420.6" stroke="#45b0b8" stroke-width="1.5"/>
<line x1="477.8" y1="413.4" x2="491.6" y2="418" stroke="#45b0b8" stroke-width="1.5"/>
<line x1="477.8" y1="413.4" x2="466.6" y2="421.3" stroke="#45b0b8" stroke-width="1.5"/>
<line x1="491.6" y1="418" x2="491.6" y2="430.5" stroke="#45b0b8" stroke-width="1.5"/>
<line x1="491.6" y1="430.5" x2="479.8" y2="438.4" stroke="#45b0b8" stroke-width="1.5"/>
<line x1="455.5" y1="437.7" x2="452.2" y2="445.6" stroke="#45b0b8" stroke-width="1.5"/>
<line x1="455.5" y1="437.7" x2="458.8" y2="446.2" stroke="#45b0b8" stroke-width="1.5"/>
<line x1="452.2" y1="445.6" x2="458.8" y2="446.2" stroke="#45b0b8" stroke-width="1.5"/>
<line x1="452.2" y1="445.6" x2="450.9" y2="453.5" stroke="#45b0b8" stroke-width="1.5"/>
<line x1="452.2" y1="445.6" x2="441.7" y2="449.5" stroke="#45b0b8" stroke-width="1.5"/>
<line x1="452.2" y1="445.6" x2="443" y2="440" stroke="#45b0b8" stroke-width="1.5"/>
<line x1="458.8" y1="446.2" x2="450.9" y2="453.5" stroke="#45b0b8" stroke-width="1.5"/>
<line x1="450.9" y1="453.5" x2="441.7" y2="449.5" stroke="#45b0b8" stroke-width="1.5"/>
<line x1="441.7" y1="449.5" x2="437.1" y2="458.7" stroke="#45b0b8" stroke-width="1.5"/>
<line x1="441.7" y1="449.5" x2="432.5" y2="456.1" stroke="#45b0b8" stroke-width="1.5"/>
<line x1="441.7" y1="449.5" x2="443" y2="440" stroke="#45b0b8" stroke-width="1.5"/>
<line x1="437.1" y1="458.7" x2="432.5" y2="456.1" stroke="#45b0b8" stroke-width="1.5"/>
<line x1="437.1" y1="458.7" x2="428" y2="459" stroke="#45b0b8" stroke-width="1.5"/>
<line x1="432.5" y1="456.1" x2="428" y2="459" stroke="#45b0b8" stroke-width="1.5"/>
<line x1="395" y1="420" x2="402" y2="412" stroke="#45b0b8" stroke-width="1.5"/>
<line x1="373.5" y1="411.4" x2="375.5" y2="422.6" stroke="#9a9a9a" stroke-width="1.2"/>
<line x1="342.6" y1="429.2" x2="359.7" y2="431.8" stroke="#9a9a9a" stroke-width="1.2"/>
<line x1="353.8" y1="450.2" x2="364.3" y2="443" stroke="#9a9a9a" stroke-width="1.2"/>
<line x1="381.4" y1="449.5" x2="379.4" y2="444.3" stroke="#9a9a9a" stroke-width="1.2"/>
<line x1="477.2" y1="404.2" x2="477.8" y2="413.4" stroke="#9a9a9a" stroke-width="1.2"/>
<line x1="502.8" y1="411.4" x2="491.6" y2="418" stroke="#9a9a9a" stroke-width="1.2"/>
<line x1="502.8" y1="435.1" x2="491.6" y2="430.5" stroke="#9a9a9a" stroke-width="1.2"/>
<line x1="479.1" y1="446.9" x2="479.8" y2="438.4" stroke="#9a9a9a" stroke-width="1.2"/>
<line x1="433.8" y1="404.2" x2="438.4" y2="410.8" stroke="#9a9a9a" stroke-width="1.2"/>
<line x1="453.5" y1="402.2" x2="448.9" y2="409.5" stroke="#9a9a9a" stroke-width="1.2"/>
<line x1="458.1" y1="458.1" x2="450.9" y2="453.5" stroke="#9a9a9a" stroke-width="1.2"/>
<line x1="429.9" y1="466.6" x2="428" y2="459" stroke="#9a9a9a" stroke-width="1.2"/>
<line x1="468.5" y1="437.5" x2="479.8" y2="438.4" stroke="#9a9a9a" stroke-width="1.2"/>
<line x1="411" y1="412" x2="409.6" y2="415.4" stroke="#9a9a9a" stroke-width="1.2"/>
<circle cx="411" cy="412" r="1.6" fill="url(#gH)"/>
<circle cx="381.4" cy="449.5" r="1.9" fill="url(#gH)"/>
<circle cx="433.8" cy="404.2" r="1.9" fill="url(#gH)"/>
<circle cx="453.5" cy="402.2" r="1.9" fill="url(#gH)"/>
<circle cx="479.1" cy="446.9" r="2" fill="url(#gH)"/>
<circle cx="468.5" cy="437.5" r="2" fill="url(#gH)"/>
<circle cx="477.2" cy="404.2" r="2.1" fill="url(#gH)"/>
<circle cx="373.5" cy="411.4" r="2.3" fill="url(#gH)"/>
<circle cx="502.8" cy="435.1" r="2.3" fill="url(#gH)"/>
<circle cx="402" cy="412" r="2.4" fill="url(#gT)"/>
<circle cx="430" cy="436" r="2.4" fill="url(#gT)"/>
<circle cx="502.8" cy="411.4" r="2.4" fill="url(#gH)"/>
<circle cx="458.1" cy="458.1" r="2.5" fill="url(#gH)"/>
<circle cx="429.9" cy="466.6" r="2.5" fill="url(#gH)"/>
<circle cx="396.5" cy="442.3" r="2.6" fill="url(#gT)"/>
<circle cx="399.1" cy="452.8" r="2.6" fill="url(#gT)"/>
<circle cx="412" cy="455" r="2.6" fill="url(#gT)"/>
<circle cx="395" cy="420" r="2.6" fill="url(#gT)"/>
<circle cx="443" cy="440" r="2.6" fill="url(#gT)"/>
<circle cx="353.8" cy="450.2" r="2.6" fill="url(#gH)"/>
<circle cx="408.3" cy="429.2" r="2.8" fill="url(#gT)"/>
<circle cx="417.5" cy="428.5" r="2.8" fill="url(#gT)"/>
<circle cx="409.6" cy="415.4" r="2.8" fill="url(#gT)"/>
<circle cx="418.2" cy="414.7" r="2.8" fill="url(#gT)"/>
<circle cx="422.8" cy="421.3" r="2.8" fill="url(#gT)"/>
<circle cx="400.4" cy="438.4" r="2.8" fill="url(#gT)"/>
<circle cx="403.1" cy="448.9" r="2.8" fill="url(#gT)"/>
<circle cx="408.3" cy="447.6" r="2.8" fill="url(#gT)"/>
<circle cx="414.9" cy="448.9" r="2.8" fill="url(#gT)"/>
<circle cx="420.2" cy="462" r="2.8" fill="url(#gT)"/>
<circle cx="426.5" cy="420.6" r="2.8" fill="url(#gT)"/>
<circle cx="441.7" cy="449.5" r="2.8" fill="url(#gT)"/>
<circle cx="432.5" cy="456.1" r="2.8" fill="url(#gT)"/>
<circle cx="424.1" cy="456.8" r="2.9" fill="url(#gT)"/>
<circle cx="428" cy="459" r="2.9" fill="url(#gT)"/>
<circle cx="342.6" cy="429.2" r="2.9" fill="url(#gH)"/>
<circle cx="438.4" cy="410.8" r="3" fill="url(#gT)"/>
<circle cx="448.9" cy="409.5" r="3" fill="url(#gT)"/>
<circle cx="454.8" cy="419.3" r="3" fill="url(#gT)"/>
<circle cx="438.4" cy="428.5" r="3" fill="url(#gT)"/>
<circle cx="433.1" cy="420.6" r="3" fill="url(#gT)"/>
<circle cx="455.5" cy="437.7" r="3" fill="url(#gT)"/>
<circle cx="448.3" cy="429.2" r="3.2" fill="url(#gT)"/>
<circle cx="452.2" cy="445.6" r="3.2" fill="url(#gT)"/>
<circle cx="437.1" cy="458.7" r="3.2" fill="url(#gT)"/>
<circle cx="466.6" cy="421.3" r="3.3" fill="url(#gT)"/>
<circle cx="379.4" cy="444.3" r="3.5" fill="url(#gT)"/>
<circle cx="390.6" cy="437" r="3.5" fill="url(#gT)"/>
<circle cx="479.8" cy="438.4" r="3.5" fill="url(#gT)"/>
<circle cx="458.8" cy="446.2" r="3.5" fill="url(#gT)"/>
<circle cx="450.9" cy="453.5" r="3.5" fill="url(#gT)"/>
<circle cx="389.9" cy="425.9" r="3.6" fill="url(#gT)"/>
<circle cx="477.8" cy="413.4" r="3.8" fill="url(#gT)"/>
<circle cx="491.6" cy="430.5" r="3.8" fill="url(#gT)"/>
<circle cx="491.6" cy="418" r="4" fill="url(#gT)"/>
<circle cx="364.3" cy="443" r="4.3" fill="url(#gT)"/>
<circle cx="375.5" cy="422.6" r="4.4" fill="url(#gT)"/>
<circle cx="359.7" cy="431.8" r="5" fill="url(#gT)"/>
<ellipse cx="377.5" cy="434.5" rx="0.8" ry="2.2" fill="#e81818" transform="rotate(-30 377.5 434.5)"/>
<ellipse cx="413.2" cy="421" rx="0.7" ry="1.6" fill="#e81818" transform="rotate(-30 413.2 421)"/>
<ellipse cx="443" cy="420" rx="1" ry="0.6" fill="#e81818"/>
<ellipse cx="479" cy="426" rx="1.2" ry="0.6" fill="#e81818"/>
<ellipse cx="402" cy="447" rx="1.6" ry="0.7" fill="#e81818" transform="rotate(-30 402 447)"/>
<ellipse cx="451" cy="450" rx="0.7" ry="2.4" fill="#e81818" transform="rotate(-10 451 450)"/>
<ellipse cx="388" cy="447" rx="0.8" ry="2.4" fill="#e81818" transform="rotate(-30 388 447)"/>
<ellipse cx="415" cy="440" rx="2.6" ry="0.8" fill="#2040c0" transform="rotate(20 415 440)"/>
<ellipse cx="408" cy="439" rx="1.2" ry="0.7" fill="#e02020" transform="rotate(20 408 439)"/>
<ellipse cx="440" cy="440" rx="2.4" ry="1" fill="#c87a20" transform="rotate(-20 440 440)"/>
<ellipse cx="437" cy="440" rx="1.2" ry="0.8" fill="#2050d0" transform="rotate(-20 437 440)"/>
<ellipse cx="421.8" cy="432" rx="0.6" ry="2.2" fill="#2048c8"/>
<ellipse cx="448" cy="433" rx="1.2" ry="0.9" fill="#e0a020"/>
<ellipse cx="468.6" cy="439.5" rx="4.5" ry="2.4" fill="#2a5ad8" transform="rotate(10 468.6 439.5)"/>
<ellipse cx="469.5" cy="440.8" rx="2.6" ry="1.2" fill="#e84020" transform="rotate(10 469.5 440.8)"/>
<ellipse cx="468.8" cy="447.5" rx="1.4" ry="2.6" fill="#8ad040" transform="rotate(-20 468.8 447.5)"/>
<ellipse cx="393" cy="445" rx="1.6" ry="2.4" fill="#e07020" transform="rotate(-20 393 445)"/>
<ellipse cx="393.6" cy="446" rx="0.8" ry="1.6" fill="#2848d0" transform="rotate(-20 393.6 446)"/>
<ellipse cx="430.5" cy="423" rx="0.4" ry="1.4" fill="#3a8a28"/>
<ellipse cx="465.5" cy="403.7" rx="0.4" ry="1" fill="#6ab040"/>
<ellipse cx="401.2" cy="424.2" rx="3.6" ry="3.6" fill="#2a5ad8"/>
<ellipse cx="400" cy="426" rx="3" ry="1.6" fill="#e83030" transform="rotate(-10 400 426)"/>
<ellipse cx="402.5" cy="422.5" rx="1.6" ry="1.6" fill="#e0d040"/>
<ellipse cx="396.8" cy="430.6" rx="2.4" ry="1.2" fill="#90b030" transform="rotate(20 396.8 430.6)"/>
<ellipse cx="428.8" cy="440.8" rx="1" ry="2" fill="#3a9a28" transform="rotate(10 428.8 440.8)"/>
<ellipse cx="409.6" cy="459" rx="1" ry="1.2" fill="#3a8a20"/>
<ellipse cx="400.8" cy="424.3" rx="5" ry="5" stroke="#000" stroke-width="1.35" fill="none"/>
<ellipse cx="396.6" cy="430.6" rx="3.6" ry="3.4" stroke="#000" stroke-width="1.35" fill="none"/>
<ellipse cx="426.8" cy="431" rx="7.4" ry="5.2" stroke="#000" stroke-width="1.35" fill="none"/>
<ellipse cx="428.8" cy="440.9" rx="3.5" ry="3.4" stroke="#000" stroke-width="1.35" fill="none"/>
<ellipse cx="468.5" cy="438.3" rx="7.4" ry="5" stroke="#000" stroke-width="1.35" fill="none"/>
<ellipse cx="409.6" cy="459" rx="3.7" ry="3.6" stroke="#000" stroke-width="1.35" fill="none"/>
<line x1="401.5" y1="419.4" x2="418.35" y2="395.16" stroke="#000" stroke-width="1.05"/>
<polygon points="420.4,392.2 419.74,396.13 416.95,394.19" fill="#000" stroke="none" stroke-width="0.8"/>
<line x1="426.8" y1="425.8" x2="426.8" y2="395.4" stroke="#000" stroke-width="1.05"/>
<polygon points="426.8,391.8 428.5,395.4 425.1,395.4" fill="#000" stroke="none" stroke-width="0.8"/>
<line x1="468" y1="433.4" x2="434.66" y2="394.92" stroke="#000" stroke-width="1.05"/>
<polygon points="432.3,392.2 435.94,393.81 433.37,396.03" fill="#000" stroke="none" stroke-width="0.8"/>
<line x1="397" y1="434" x2="401.99" y2="468.94" stroke="#000" stroke-width="1.05"/>
<polygon points="402.5,472.5 400.31,469.18 403.67,468.7" fill="#000" stroke="none" stroke-width="0.8"/>
<line x1="401" y1="429.4" x2="405.03" y2="468.92" stroke="#000" stroke-width="1.05"/>
<polygon points="405.4,472.5 403.34,469.09 406.73,468.75" fill="#000" stroke="none" stroke-width="0.8"/>
<line x1="427.5" y1="444.4" x2="411.35" y2="469.47" stroke="#000" stroke-width="1.05"/>
<polygon points="409.4,472.5 409.92,468.55 412.78,470.39" fill="#000" stroke="none" stroke-width="0.8"/>
<line x1="409.5" y1="462.7" x2="408.22" y2="468.97" stroke="#000" stroke-width="1.05"/>
<polygon points="407.5,472.5 406.55,468.63 409.89,469.31" fill="#000" stroke="none" stroke-width="0.8"/>
<text x="428.8" y="392.6" font-size="8.6" text-anchor="middle" textLength="29.5" lengthAdjust="spacingAndGlyphs">C-H···π</text>
<text x="405.4" y="479.3" font-size="8.6" text-anchor="middle" textLength="20.5" lengthAdjust="spacingAndGlyphs">H···H</text>
<text x="424.5" y="497" font-size="9.4" text-anchor="middle" fill="#111" textLength="52.6" lengthAdjust="spacingAndGlyphs" font-weight="normal" stroke="#111" stroke-width="0.28"><tspan font-style="italic">meso</tspan>-DWG1</text>
<text x="425.6" y="508.5" font-size="8.6" text-anchor="middle" textLength="82" lengthAdjust="spacingAndGlyphs">MSE: 20.1 Kcal/mol</text>
<line x1="548.5" y1="413" x2="545.2" y2="422.8" stroke="#45b0b8" stroke-width="1.4"/>
<line x1="548.5" y1="413" x2="558.3" y2="418.5" stroke="#45b0b8" stroke-width="1.4"/>
<line x1="545.2" y1="422.8" x2="558.3" y2="418.5" stroke="#45b0b8" stroke-width="1.4"/>
<line x1="545.2" y1="422.8" x2="555" y2="431.6" stroke="#45b0b8" stroke-width="1.4"/>
<line x1="545.2" y1="422.8" x2="552.8" y2="437.1" stroke="#45b0b8" stroke-width="1.4"/>
<line x1="545.2" y1="422.8" x2="545.8" y2="433.8" stroke="#45b0b8" stroke-width="1.4"/>
<line x1="558.3" y1="418.5" x2="555" y2="431.6" stroke="#45b0b8" stroke-width="1.4"/>
<line x1="558.3" y1="418.5" x2="562.7" y2="428.3" stroke="#45b0b8" stroke-width="1.4"/>
<line x1="555" y1="431.6" x2="562.7" y2="428.3" stroke="#45b0b8" stroke-width="1.4"/>
<line x1="555" y1="431.6" x2="560.7" y2="440.4" stroke="#45b0b8" stroke-width="1.4"/>
<line x1="555" y1="431.6" x2="552.8" y2="437.1" stroke="#45b0b8" stroke-width="1.4"/>
<line x1="555" y1="431.6" x2="545.8" y2="433.8" stroke="#45b0b8" stroke-width="1.4"/>
<line x1="555" y1="431.6" x2="564.9" y2="429.4" stroke="#45b0b8" stroke-width="1.4"/>
<line x1="562.7" y1="428.3" x2="564.9" y2="429.4" stroke="#45b0b8" stroke-width="1.4"/>
<line x1="560.7" y1="440.4" x2="552.8" y2="437.1" stroke="#45b0b8" stroke-width="1.4"/>
<line x1="560.7" y1="440.4" x2="567.1" y2="440.4" stroke="#45b0b8" stroke-width="1.4"/>
<line x1="552.8" y1="437.1" x2="545.8" y2="433.8" stroke="#45b0b8" stroke-width="1.4"/>
<line x1="552.8" y1="437.1" x2="548.5" y2="444.3" stroke="#45b0b8" stroke-width="1.4"/>
<line x1="545.8" y1="433.8" x2="548.5" y2="444.3" stroke="#45b0b8" stroke-width="1.4"/>
<line x1="570.8" y1="417.4" x2="577.4" y2="418" stroke="#45b0b8" stroke-width="1.4"/>
<line x1="577.4" y1="418" x2="574.7" y2="425" stroke="#45b0b8" stroke-width="1.4"/>
<line x1="595.5" y1="417.4" x2="602.1" y2="413.6" stroke="#45b0b8" stroke-width="1.4"/>
<line x1="602.1" y1="413.6" x2="609.8" y2="412.8" stroke="#45b0b8" stroke-width="1.4"/>
<line x1="602.1" y1="413.6" x2="606.5" y2="419.6" stroke="#45b0b8" stroke-width="1.4"/>
<line x1="609.8" y1="412.8" x2="606.5" y2="419.6" stroke="#45b0b8" stroke-width="1.4"/>
<line x1="616.3" y1="420.7" x2="627.3" y2="422.8" stroke="#45b0b8" stroke-width="1.4"/>
<line x1="618.1" y1="429.4" x2="614.2" y2="433.8" stroke="#45b0b8" stroke-width="1.4"/>
<line x1="618.1" y1="429.4" x2="627.3" y2="422.8" stroke="#45b0b8" stroke-width="1.4"/>
<line x1="618.1" y1="429.4" x2="622" y2="432.9" stroke="#45b0b8" stroke-width="1.4"/>
<line x1="612" y1="438.6" x2="614.2" y2="433.8" stroke="#45b0b8" stroke-width="1.4"/>
<line x1="605.4" y1="447.4" x2="600" y2="452" stroke="#45b0b8" stroke-width="1.4"/>
<line x1="596.6" y1="448.7" x2="600" y2="452" stroke="#45b0b8" stroke-width="1.4"/>
<line x1="587.9" y1="449.1" x2="580.2" y2="448.7" stroke="#45b0b8" stroke-width="1.4"/>
<line x1="587.9" y1="449.1" x2="590" y2="452.5" stroke="#45b0b8" stroke-width="1.4"/>
<line x1="580.2" y1="448.7" x2="573.6" y2="447.4" stroke="#45b0b8" stroke-width="1.4"/>
<line x1="580.2" y1="448.7" x2="581.3" y2="441.5" stroke="#45b0b8" stroke-width="1.4"/>
<line x1="564.9" y1="429.4" x2="571" y2="433" stroke="#45b0b8" stroke-width="1.4"/>
<line x1="614.2" y1="433.8" x2="622" y2="432.9" stroke="#45b0b8" stroke-width="1.4"/>
<line x1="627.3" y1="422.8" x2="639.3" y2="436" stroke="#45b0b8" stroke-width="1.4"/>
<line x1="627.3" y1="422.8" x2="622" y2="432.9" stroke="#45b0b8" stroke-width="1.4"/>
<line x1="627.3" y1="422.8" x2="633.4" y2="427.7" stroke="#45b0b8" stroke-width="1.4"/>
<line x1="639.3" y1="436" x2="633.9" y2="450.2" stroke="#45b0b8" stroke-width="1.4"/>
<line x1="639.3" y1="436" x2="627.3" y2="440.4" stroke="#45b0b8" stroke-width="1.4"/>
<line x1="639.3" y1="436" x2="633.4" y2="427.7" stroke="#45b0b8" stroke-width="1.4"/>
<line x1="633.9" y1="450.2" x2="627.3" y2="440.4" stroke="#45b0b8" stroke-width="1.4"/>
<line x1="633.9" y1="450.2" x2="623.4" y2="447.4" stroke="#45b0b8" stroke-width="1.4"/>
<line x1="627.3" y1="440.4" x2="622" y2="432.9" stroke="#45b0b8" stroke-width="1.4"/>
<line x1="627.3" y1="440.4" x2="623.4" y2="447.4" stroke="#45b0b8" stroke-width="1.4"/>
<line x1="544.1" y1="399.9" x2="548.5" y2="413" stroke="#9a9a9a" stroke-width="1.12"/>
<line x1="528.8" y1="417.4" x2="545.2" y2="422.8" stroke="#9a9a9a" stroke-width="1.12"/>
<line x1="548.5" y1="452.4" x2="548.5" y2="444.3" stroke="#9a9a9a" stroke-width="1.12"/>
<line x1="538.6" y1="430.5" x2="545.8" y2="433.8" stroke="#9a9a9a" stroke-width="1.12"/>
<line x1="559.4" y1="411.9" x2="558.3" y2="418.5" stroke="#9a9a9a" stroke-width="1.12"/>
<line x1="632.8" y1="411.9" x2="627.3" y2="422.8" stroke="#9a9a9a" stroke-width="1.12"/>
<line x1="651.4" y1="445.8" x2="639.3" y2="436" stroke="#9a9a9a" stroke-width="1.12"/>
<line x1="638.2" y1="464.4" x2="633.9" y2="450.2" stroke="#9a9a9a" stroke-width="1.12"/>
<line x1="622.9" y1="416.3" x2="627.3" y2="422.8" stroke="#9a9a9a" stroke-width="1.12"/>
<line x1="595" y1="430" x2="595.5" y2="417.4" stroke="#9a9a9a" stroke-width="1.12"/>
<line x1="585" y1="435" x2="581.3" y2="441.5" stroke="#9a9a9a" stroke-width="1.12"/>
<circle cx="585" cy="435" r="1.4" fill="url(#gH)"/>
<circle cx="559.4" cy="411.9" r="1.5" fill="url(#gH)"/>
<circle cx="595" cy="430" r="1.5" fill="url(#gH)"/>
<circle cx="622.9" cy="416.3" r="1.6" fill="url(#gH)"/>
<circle cx="574.7" cy="425" r="1.8" fill="url(#gT)"/>
<circle cx="581.3" cy="441.5" r="1.8" fill="url(#gT)"/>
<circle cx="614.2" cy="433.8" r="1.8" fill="url(#gT)"/>
<circle cx="606.5" cy="419.6" r="1.8" fill="url(#gT)"/>
<circle cx="590" cy="452.5" r="1.8" fill="url(#gT)"/>
<circle cx="600" cy="452" r="1.8" fill="url(#gT)"/>
<circle cx="571" cy="433" r="1.8" fill="url(#gT)"/>
<circle cx="570.8" cy="417.4" r="2" fill="url(#gT)"/>
<circle cx="577.4" cy="418" r="2" fill="url(#gT)"/>
<circle cx="585.7" cy="416.3" r="2" fill="url(#gT)"/>
<circle cx="595.5" cy="417.4" r="2" fill="url(#gT)"/>
<circle cx="602.1" cy="413.6" r="2" fill="url(#gT)"/>
<circle cx="609.8" cy="412.8" r="2" fill="url(#gT)"/>
<circle cx="616.3" cy="420.7" r="2" fill="url(#gT)"/>
<circle cx="612" cy="438.6" r="2" fill="url(#gT)"/>
<circle cx="605.4" cy="447.4" r="2" fill="url(#gT)"/>
<circle cx="596.6" cy="448.7" r="2" fill="url(#gT)"/>
<circle cx="587.9" cy="449.1" r="2" fill="url(#gT)"/>
<circle cx="580.2" cy="448.7" r="2" fill="url(#gT)"/>
<circle cx="573.6" cy="447.4" r="2" fill="url(#gT)"/>
<circle cx="567.1" cy="440.4" r="2" fill="url(#gT)"/>
<circle cx="564.9" cy="429.4" r="2" fill="url(#gT)"/>
<circle cx="538.6" cy="430.5" r="2" fill="url(#gH)"/>
<circle cx="618.1" cy="429.4" r="2.2" fill="url(#gT)"/>
<circle cx="544.1" cy="399.9" r="2.6" fill="url(#gH)"/>
<circle cx="562.7" cy="428.3" r="2.8" fill="url(#gT)"/>
<circle cx="545.8" cy="433.8" r="3" fill="url(#gT)"/>
<circle cx="548.5" cy="444.3" r="3" fill="url(#gT)"/>
<circle cx="622" cy="432.9" r="3" fill="url(#gT)"/>
<circle cx="633.4" cy="427.7" r="3" fill="url(#gT)"/>
<circle cx="623.4" cy="447.4" r="3" fill="url(#gT)"/>
<circle cx="632.8" cy="411.9" r="3" fill="url(#gH)"/>
<circle cx="558.3" cy="418.5" r="3.3" fill="url(#gT)"/>
<circle cx="560.7" cy="440.4" r="3.3" fill="url(#gT)"/>
<circle cx="552.8" cy="437.1" r="3.3" fill="url(#gT)"/>
<circle cx="627.3" cy="440.4" r="3.5" fill="url(#gT)"/>
<circle cx="548.5" cy="452.4" r="3.5" fill="url(#gH)"/>
<circle cx="638.2" cy="464.4" r="3.5" fill="url(#gH)"/>
<circle cx="555" cy="431.6" r="4" fill="url(#gT)"/>
<circle cx="528.8" cy="417.4" r="4" fill="url(#gH)"/>
<circle cx="651.4" cy="445.8" r="4" fill="url(#gH)"/>
<circle cx="548.5" cy="413" r="4.5" fill="url(#gT)"/>
<circle cx="627.3" cy="422.8" r="4.5" fill="url(#gT)"/>
<circle cx="633.9" cy="450.2" r="4.5" fill="url(#gT)"/>
<circle cx="545.2" cy="422.8" r="5" fill="url(#gT)"/>
<circle cx="639.3" cy="436" r="5" fill="url(#gT)"/>
<ellipse cx="553.5" cy="428.5" rx="3.2" ry="0.9" fill="#e81818" transform="rotate(-10 553.5 428.5)"/>
<ellipse cx="604" cy="420" rx="0.6" ry="1.6" fill="#e81818" transform="rotate(-30 604 420)"/>
<ellipse cx="610" cy="426.5" rx="0.6" ry="1.4" fill="#e81818" transform="rotate(30 610 426.5)"/>
<ellipse cx="607" cy="447" rx="0.6" ry="1.6" fill="#c8a020"/>
<ellipse cx="586" cy="454" rx="0.8" ry="1.4" fill="#c0b050"/>
<ellipse cx="617" cy="443.5" rx="2.2" ry="0.7" fill="#e81818" transform="rotate(-20 617 443.5)"/>
<ellipse cx="576" cy="447" rx="1.2" ry="0.6" fill="#e08030" transform="rotate(20 576 447)"/>
<ellipse cx="591" cy="412" rx="0.6" ry="1.2" fill="#d09040" transform="rotate(-20 591 412)"/>
<ellipse cx="596.5" cy="411" rx="0.6" ry="1.2" fill="#d0a040" transform="rotate(-30 596.5 411)"/>
<ellipse cx="553.5" cy="423.8" rx="3" ry="2.8" fill="#3a9a28" transform="rotate(20 553.5 423.8)"/>
<ellipse cx="571" cy="420" rx="4" ry="3.6" fill="#2858d8"/>
<ellipse cx="570.4" cy="421" rx="3.2" ry="1.6" fill="#e04020" transform="rotate(-15 570.4 421)"/>
<ellipse cx="572.2" cy="418.4" rx="1.8" ry="1.2" fill="#70c040"/>
<ellipse cx="571" cy="443.6" rx="4" ry="3.6" fill="#2858d8"/>
<ellipse cx="570.4" cy="444.6" rx="3.2" ry="1.6" fill="#e04020" transform="rotate(-15 570.4 444.6)"/>
<ellipse cx="572.2" cy="442" rx="1.8" ry="1.2" fill="#70c040"/>
<ellipse cx="612" cy="421.3" rx="4" ry="3.6" fill="#2858d8"/>
<ellipse cx="611.4" cy="422.3" rx="3.2" ry="1.6" fill="#e04020" transform="rotate(-15 611.4 422.3)"/>
<ellipse cx="613.2" cy="419.7" rx="1.8" ry="1.2" fill="#70c040"/>
<ellipse cx="613" cy="444.7" rx="4" ry="3.6" fill="#2858d8"/>
<ellipse cx="612.4" cy="445.7" rx="3.2" ry="1.6" fill="#e04020" transform="rotate(-15 612.4 445.7)"/>
<ellipse cx="614.2" cy="443.1" rx="1.8" ry="1.2" fill="#70c040"/>
<ellipse cx="628.8" cy="442.6" rx="3.6" ry="3.6" fill="#2a7a20"/>
<ellipse cx="629.6" cy="443.5" rx="2" ry="2.8" fill="#a08a30"/>
<path d="M588,427 L584,422 M588,427 L586,434 M588,427 L594,428.5 M594,428.5 L597,423 M594,428.5 L596,435 M596,435 L601,437.5 M584,422 L580.5,423" stroke="#3a5ac8" stroke-width="0.7" fill="none"/>
<path d="M594,428.5 L598.5,428 M586,434 L582,436" stroke="#d8a040" stroke-width="0.6" fill="none"/>
<ellipse cx="592.3" cy="430.4" rx="14.3" ry="10.8" stroke="#000" stroke-width="1.35" fill="none"/>
<ellipse cx="571" cy="420.1" rx="4.8" ry="4.6" stroke="#000" stroke-width="1.35" fill="none"/>
<ellipse cx="571" cy="443.6" rx="4.8" ry="4.6" stroke="#000" stroke-width="1.35" fill="none"/>
<ellipse cx="612" cy="421.3" rx="4.8" ry="4.6" stroke="#000" stroke-width="1.35" fill="none"/>
<ellipse cx="613" cy="444.7" rx="4.8" ry="4.6" stroke="#000" stroke-width="1.35" fill="none"/>
<ellipse cx="628.8" cy="442.6" rx="4.6" ry="4.6" stroke="#000" stroke-width="1.35" fill="none"/>
<ellipse cx="618.1" cy="413.4" rx="2.7" ry="2.7" stroke="#000" stroke-width="1" fill="none"/>
<line x1="571.4" y1="439.2" x2="557.33" y2="463.1" stroke="#000" stroke-width="1.05"/>
<polygon points="555.5,466.2 555.86,462.24 558.79,463.96" fill="#000" stroke="none" stroke-width="0.8"/>
<line x1="572.5" y1="424.6" x2="557.33" y2="462.85" stroke="#000" stroke-width="1.05"/>
<polygon points="556,466.2 555.75,462.23 558.91,463.48" fill="#000" stroke="none" stroke-width="0.8"/>
<line x1="608" y1="446" x2="562.8" y2="465.57" stroke="#000" stroke-width="1.05"/>
<polygon points="559.5,467 562.13,464.01 563.48,467.13" fill="#000" stroke="none" stroke-width="0.8"/>
<line x1="574.6" y1="416" x2="584.35" y2="402.89" stroke="#000" stroke-width="1.05"/>
<polygon points="586.5,400 585.72,403.9 582.99,401.87" fill="#000" stroke="none" stroke-width="0.8"/>
<line x1="608.5" y1="417.2" x2="596.14" y2="402.74" stroke="#000" stroke-width="1.05"/>
<polygon points="593.8,400 597.43,401.63 594.85,403.84" fill="#000" stroke="none" stroke-width="0.8"/>
<line x1="618.6" y1="416" x2="620.38" y2="469.4" stroke="#000" stroke-width="1.05"/>
<polygon points="620.5,473 618.68,469.46 622.08,469.35" fill="#000" stroke="none" stroke-width="0.8"/>
<line x1="627.8" y1="447" x2="622.78" y2="469.49" stroke="#000" stroke-width="1.05"/>
<polygon points="622,473 621.12,469.12 624.44,469.86" fill="#000" stroke="none" stroke-width="0.8"/>
<line x1="629.8" y1="447" x2="625.65" y2="469.46" stroke="#000" stroke-width="1.05"/>
<polygon points="625,473 623.98,469.15 627.33,469.77" fill="#000" stroke="none" stroke-width="0.8"/>
<text x="591" y="399.3" font-size="8.6" text-anchor="middle" textLength="29.5" lengthAdjust="spacingAndGlyphs">C-H···π</text>
<text x="557.2" y="474.3" font-size="8.6" text-anchor="middle" textLength="35" lengthAdjust="spacingAndGlyphs">stacking</text>
<text x="625" y="479.7" font-size="8.6" text-anchor="middle" textLength="20.5" lengthAdjust="spacingAndGlyphs">H···H</text>
<text x="588.8" y="497" font-size="9.4" text-anchor="middle" fill="#111" textLength="43.5" lengthAdjust="spacingAndGlyphs" font-weight="normal" stroke="#111" stroke-width="0.28"><tspan font-style="italic">rac</tspan>-DWG1</text>
<text x="589.5" y="508.5" font-size="8.6" text-anchor="middle" textLength="82" lengthAdjust="spacingAndGlyphs">MSE: 21.4 Kcal/mol</text>
<text x="-0.3" y="523.9" font-size="11.5">d</text>
<g clip-path="url(#cp0)"><path d="M75.77,523.18 L75.5,524.05 L75.21,524.9 L74.92,525.76 L74.61,526.6 L74.3,527.43 L73.98,528.26 L73.65,529.08 L73.3,529.89 L72.95,530.69 L72.59,531.48 L72.22,532.27 L71.83,533.05 L71.44,533.82 L71.03,534.58 L70.61,535.34 L70.18,536.09 L69.73,536.83 L69.27,537.56 L68.8,538.29 L68.31,539.01 L67.81,539.72 L67.29,540.43 L66.76,541.13 L66.21,541.82 L65.65,542.5 L65.06,543.18 L64.46,543.85 L63.85,544.52 L63.21,545.18 L62.55,545.83 L61.88,546.47 L61.18,547.11 L60.47,547.75 L59.73,548.37 L58.97,548.99 L58.19,549.61 L57.38,550.21 L56.55,550.82 L55.69,551.41 L54.81,552 L53.91,552.59 L52.97,553.17 L52.01,553.74 L51.01,554.31 L49.99,554.87 L48.94,555.43 L47.86,555.98 L46.74,556.52 L45.59,557.06 L44.4,557.6 L43.18,558.13 L41.92,558.65 L40.63,559.17 L39.29,559.69 L37.92,560.2 L36.5,560.7 L35.04,561.2 L33.54,561.7 L31.99,562.18 L30.4,562.67 L30.4,576.11 L33.77,575.35 L36.92,574.57 L39.89,573.78 L42.67,572.97 L45.28,572.15 L47.72,571.31 L50.02,570.44 L52.18,569.56 L54.2,568.67 L56.1,567.75 L57.88,566.81 L59.55,565.86 L61.12,564.88 L62.59,563.89 L63.97,562.88 L65.27,561.85 L66.48,560.81 L67.63,559.75 L68.7,558.68 L69.7,557.59 L70.64,556.5 L71.53,555.39 L72.36,554.29 L73.14,553.18 L73.87,552.07 L74.55,550.96 L75.2,549.86 L75.8,548.77 L76.37,547.68 L76.9,546.61 L77.4,545.55 L77.87,544.51 L78.31,543.48 L78.72,542.47 L79.11,541.47 L79.47,540.48 L79.81,539.51 L80.13,538.55 L80.43,537.6 L80.71,536.66 L80.98,535.73 L81.23,534.8 L81.46,533.87 L81.68,532.94 L81.88,532.01 L82.07,531.08 L82.25,530.13 L82.42,529.17 L82.58,528.2 L82.73,527.21 L82.87,526.2 L83,525.17 L83.13,524.11 L83.22,523.1Z" fill="url(#bg0)"/><path d="M91.98,523.14 L92.23,523.79 L92.48,524.44 L92.74,525.09 L93.01,525.73 L93.29,526.36 L93.58,526.99 L93.88,527.62 L94.18,528.24 L94.5,528.87 L94.84,529.48 L95.18,530.1 L95.53,530.72 L95.9,531.33 L96.28,531.94 L96.68,532.56 L97.08,533.17 L97.5,533.78 L97.94,534.39 L98.39,535.01 L98.86,535.62 L99.34,536.23 L99.84,536.85 L100.36,537.47 L100.89,538.08 L101.45,538.7 L102.02,539.33 L102.62,539.95 L103.23,540.58 L103.87,541.2 L104.52,541.83 L105.21,542.46 L105.91,543.09 L106.64,543.73 L107.39,544.36 L108.17,545 L108.98,545.64 L109.82,546.28 L110.68,546.92 L111.58,547.55 L112.51,548.19 L113.47,548.83 L114.46,549.47 L115.49,550.11 L116.55,550.75 L117.65,551.38 L118.79,552.02 L119.97,552.65 L121.19,553.28 L122.45,553.9 L123.75,554.53 L125.11,555.15 L126.5,555.77 L127.95,556.38 L129.45,556.99 L131,557.59 L132.6,558.19 L134.26,558.78 L135.98,559.37 L137.76,559.96 L139.6,560.54 L139.6,575.51 L136.15,574.72 L132.92,573.91 L129.9,573.08 L127.07,572.24 L124.41,571.38 L121.92,570.49 L119.59,569.59 L117.41,568.67 L115.36,567.73 L113.45,566.77 L111.65,565.79 L109.97,564.79 L108.39,563.77 L106.92,562.73 L105.53,561.67 L104.24,560.59 L103.02,559.49 L101.89,558.38 L100.82,557.26 L99.82,556.12 L98.89,554.98 L98.01,553.82 L97.19,552.67 L96.42,551.51 L95.7,550.36 L95.02,549.21 L94.39,548.07 L93.8,546.93 L93.24,545.81 L92.72,544.71 L92.23,543.61 L91.78,542.54 L91.35,541.48 L90.95,540.43 L90.57,539.4 L90.22,538.39 L89.89,537.39 L89.58,536.4 L89.29,535.42 L89.02,534.45 L88.77,533.48 L88.53,532.51 L88.31,531.54 L88.1,530.57 L87.9,529.6 L87.72,528.61 L87.55,527.61 L87.39,526.59 L87.24,525.55 L87.1,524.5 L86.96,523.42 L86.94,523.1Z" fill="url(#bg0)"/><g mask="url(#mk0)"><path d="M70.26,556.25 L71.35,584.98 L72.11,607.08 L80.09,607.08 L83.69,531.94 L83.91,523.1 L78.45,523.1Z" fill="url(#bg0)"/><path d="M86.09,523.1 L86.31,531.94 L89.59,607.08 L95.7,607.08 L98.65,598.24 L106.84,596.03 L123.22,594.7 L139.6,592.94 L139.6,567.3 L98.1,545.2 L91.55,523.1Z" fill="url(#bg0)"/></g><path transform="scale(.1)" stroke="url(#bg0d)" stroke-width="6" fill="none" d="M838 5394h6m13 4h6m-24 63h6m-7 7h6m20 17h6m-6 17h6m-30 10h6m17 2h6m-33 14h6m18 3h6m-15 23h6m-21 9h6m0-2h6m12 7h6m4-3h6m-46 19h6m1-5h6m6 4h6m2-8h6m-170 29h6m-4-4h6m0-2h6m-5-1h6m158 0h6m-185 17h6m-5-7h6m-1 2h6m-5 1h6m-6 2h6m-5-4h6m-5 3h6m164-1h6m-199 12h6m7-4h6m0 0h6m-5 5h6m0-3h6m136 1h6m-178 10h6m-5-6h6m11 3h6m-6-1h6m-6 7h6m-2-1h6m-1 0h6m-5-2h6m-1 0h6m128 1h6m-2-6h6m16 6h6m-2-5h6m-213 15h6m-5-1h6m4 0h6m8-5h6m2 5h6m1-3h6m-51 12h6m-5-1h6m-3 5h6m-5 0h6m-6-8h6m-3 9h6m-5-7h6m7 4h6m-6-2h6m-1-3h6m-1 8h6m-3-7h6m10 2h6m122-4h6m-195 13h6m4 6h6m-3-3h6m-1 0h6m-4 2h6m3 0h6m-6-1h6m1-5h6m2 2h6m-4-2h6m-5 1h6m0 4h6m-4-2h6m-4-3h6m-4 6h6m-1 1h6m158-5h6m-243 10h6m-4 0h6m-4 1h6m-3-4h6m3-2h6m1 7h6m5-1h6m-4-2h6m-1-4h6m4 1h6m-5 1h6m-5 6h6m-4-7h6m-6 2h6m134-1h6m-232 17h6m1-1h6m-2-1h6m12 2h6m-5-1h6m-6-3h6m20-1h6m-5-3h6m-3 2h6m5 2h6m-5-2h6m-5 2h6m-4 1h6m3-4h6m-5 7h6m-5-4h6m-6 1h6m-6-3h6m148-2h6m24 6h6m-294 9h6m1 2h6m-2-6h6m-3 6h6m3 2h6m-4-3h6m15-1h6m0-1h6m-4 2h6m-1-1h6m-5-2h6m1-4h6m-2 10h6m-4-10h6m2 9h6m-3-4h6m-1-4h6m-2 0h6m11 7h6m-2-4h6m-3 1h6m-6 5h6m-1-4h6m-5-4h6m-132 10h6m6 8h6m4-6h6m-6 5h6m2-8h6m2 0h6m6-1h6m-1 2h6m1 2h6m-2 5h6m2 1h6m8-6h6m11 2h6m3 4h6m-4-10h6m-3 1h6m-3 2h6m-4 1h6m-5 2h6m115-5h6m-1 6h6m35-3h6m-290 7h6m1 1h6m11 7h6m-4 1h6m-1-2h6m-4 1h6m1-3h6m-4-3h6m-5 1h6m18-1h6m-1-1h6m-4 1h6m3 1h6m-2 4h6m-2 1h6m17 1h6m144-7h6m9-2h6m-241 18h6m-1-2h6m-4-6h6m-3 1h6m-6 4h6m-5-2h6m1-1h6m-2 4h6m1-1h6m-5-4h6m2 6h6m-2-6h6m-6 7h6m13-8h6m1 3h6m-5-3h6m-6 3h6m-38 12h6m0 3h6m2-6h6m6 6h6m-3 0h6m-4-9h6m-2 9h6m-5-9h6m-3 2h6m158 7h6m-206 11h6m5-6h6m-4-1h6m-5 1h6m1 0h6m1 0h6m-5-1h6m-3 5h6m-3-1h6m-41 11h6m-3-5h6m4 0h6m-4-3h6m0 10h6m1-9h6m2 7h6m120-3h6m-170 9h6m-6 0h6m-5 1h6m-3-4h6m1 1h6m-5 0h6m-2 1h6m0-3h6m1 6h6m-3-6h6m-5 4h6m-5 0h6m-6 4h6m125 2h6m-171 3h6m-4 5h6m10-3h6m1-1h6m-5-1h6m0 7h6m-2-6h6m-3 0h6m-5 0h6m103 1h6m48 1h6m-202 11h6m1-2h6m-6-3h6m-2 0h6m2 3h6m9-4h6m-4 9h6m120-5h6m-175 9h6m1 5h6m-2-3h6m-3 1h6m-3-2h6m-3-1h6m-3 0h6m-5-1h6m-5-1h6m-3 2h6m7 5h6m-5-6h6m-6 1h6m140 2h6m-1 4h6m-194 5h6m5 4h6m-2-3h6m15-5h6m141 5h6m14 2h6m-214 6h6m-4 2h6m4-4h6m-5 7h6m1-5h6m-3 5h6m2-4h6m5-4h6m103 0h6m-3 1h6m13 5h6m24 2h6m-196 9h6m14 0h6m-6-2h6m-5 0h6m-5 3h6m-3-8h6m0 5h6m-6-1h6m-5 1h6m109 2h6m38-3h6m-3 5h6m-196 10h6m-5 0h6m-5-1h6m4-6h6m-5-2h6m-2 5h6m5 1h6m-6-5h6m657 3h6m3 2h6m-721 7h6m4 2h6m-5-5h6m3 2h6m1-2h6m7 3h6m107 1h6m17-1h6m5 2h6m-1-2h6m475-1h6m-6-2h6m-3 4h6m-5-1h6m-4 3h6m-5-2h6m-3 3h6m2-2h6m7-2h6m-6 2h6m-4 2h6m-4 0h6m-712 5h6m4 3h6m2 0h6m6 4h6m113-5h6m28 2h6m10-1h6m373 4h6m7-4h6m0 0h6m3-1h6m-5 4h6m1-7h6m-1 5h6m51-1h6m-671 12h6m-3-5h6m-5 1h6m-5 4h6m-1 2h6m-1-1h6m-2-6h6m-3 3h6m-2 4h6m-1-2h6m91-1h6m9-4h6m20 7h6m2-5h6m4-4h6m320 7h6m15-1h6m-1 2h6m23-7h6m-5 5h6m24-6h6m-5 2h6m7-3h6m-2 5h6m2-2h6m9 3h6m-1 0h6m16 4h6m3-6h6m-694 8h6m3-2h6m-5 2h6m-5 1h6m0 6h6m-2-1h6m-5 0h6m-6-6h6m-5 2h6m5-4h6m-3 2h6m-2 5h6m-6-3h6m-4 1h6m93 4h6m5-2h6m3 0h6m257 1h6m6 0h6m-5 0h6m10-2h6m-3 0h6m4 3h6m2-1h6m0-1h6m1-4h6m54-2h6m-2 0h6m8 1h6m-3-1h6m-3 4h6m1 4h6m-6 1h6m-5-6h6m13 1h6m5 1h6m2-3h6m9-2h6m3 3h6m8 4h6m0-3h6m1-4h6m-6 6h6m-2-4h6m7 7h6m3-2h6m-4-1h6m10-2h6m-3-5h6m-719 11h6m6 2h6m-4-3h6m-5 5h6m-4-2h6m-1 4h6m-4 1h6m-4-1h6m0-1h6m-6 2h6m-3-5h6m-3-3h6m-4 9h6m151-7h6m-3 2h6m-5 4h6m145 2h6m10-1h6m22-5h6m8 2h6m-5-2h6m4 3h6m-1-4h6m-5 4h6m-3-5h6m3-1h6m-4 1h6m-4 4h6m-4 2h6m12-8h6m-6 9h6m-5-6h6m5 0h6m4 6h6m15-5h6m-6-2h6m1 8h6m-1-3h6m-2-6h6m-2 3h6m-3-1h6m8 6h6m7-9h6m28 6h6m1 1h6m-5-5h6m-1 6h6m40-6h6m14-1h6m11-1h6m0 2h6m17 4h6m-722 13h6m-3-7h6m-5 2h6m2-2h6m-5 5h6m-6-3h6m-2 1h6m0 2h6m152-1h6m97 3h6m32-4h6m0 2h6m-1-1h6m5 1h6m14 3h6m11-7h6m3-1h6m15 1h6m0 2h6m10 0h6m-2-3h6m7 3h6m7-1h6m-4 2h6m16-1h6m5 5h6m2-8h6m9 8h6m1-2h6m11-4h6m4 5h6m7-8h6m30 0h6m-6 2h6m-2-2h6m15 8h6m-6-4h6m-2 4h6m-2-7h6m-3 2h6m21 3h6m8-5h6m3 5h6m13 1h6m-1 1h6m-6-4h6m-6 3h6m-716 11h6m7-8h6m-6 0h6m-4 7h6m8-2h6m-5 4h6m-6-5h6m-1 4h6m91-8h6m-5 1h6m6 1h6m25 2h6m0 1h6m-5-2h6m10-3h6m106-1h6m6 9h6m8-3h6m-4 4h6m-4-7h6m7-2h6m4 7h6m18-4h6m27 2h6m-5-2h6m0 1h6m14-2h6m1-2h6m4 4h6m2-2h6m0 5h6m8-5h6m-5 6h6m19-5h6m2 2h6m4 1h6m0-5h6m25 2h6m-4 5h6m2-6h6m-6 3h6m-2-6h6m66 2h6m-3 2h6m4-4h6m7 2h6m-4 3h6m9-1h6m-2-2h6m-2-1h6m-717 19h6m-5-5h6m-5-4h6m-3 0h6m4 5h6m117-5h6m21 4h6m6-5h6m9 1h6m104 3h6m26-1h6m-4 2h6m-6 1h6m2-3h6m4 4h6m26 3h6m18-3h6m2-6h6m0 5h6m0-5h6m28 9h6m19-2h6m1-1h6m3-2h6m21-3h6m15 0h6m-4 5h6m0-6h6m-1 9h6m-6-1h6m18-8h6m0-1h6m-5 7h6m-1-6h6m-5-1h6m9 3h6m-2-2h6m-2 4h6m-4 0h6m6 1h6m6 2h6m19-6h6m-3 1h6m1 0h6m-6 3h6m-691 6h6m8 1h6m1 3h6m0 3h6m-5-6h6m-6 6h6m-5-4h6m128-4h6m1 6h6m18-3h6m78 2h6m-4-5h6m4 2h6m2 3h6m-3-2h6m-4-1h6m-4-1h6m7 8h6m7-7h6m-2 3h6m3-3h6m3 3h6m-1-3h6m5 3h6m-3 1h6m8 0h6m5-4h6m0 6h6m-2-5h6m3 3h6m-4-1h6m10-5h6m5 1h6m11 3h6m-5-1h6m0-3h6m-1 4h6m-4 2h6m-6-2h6m10 5h6m6-1h6m2 1h6m23-4h6m2-4h6m56 2h6m5 0h6m-4-4h6m-2 0h6m23 2h6m20-2h6m-3 3h6m-6 1h6m17 5h6m-720 4h6m-1-1h6m-6 5h6m8 1h6m-4-2h6m14 0h6m96 2h6m137-7h6m13 1h6m-2 5h6m9-5h6m7 1h6m18 6h6m2 1h6m1 0h6m-3-9h6m3 3h6m-3 1h6m-1 3h6m49-1h6m6 0h6m0-5h6m-4 2h6m12 2h6m44 1h6m1-7h6m-3 0h6m6 1h6m-4 4h6m-5-2h6m5 6h6m7-1h6m1-2h6m-4 0h6m5-5h6m2 7h6m-4 0h6m-1-7h6m0 2h6m-4 4h6m-6 2h6m-5-7h6m-4 6h6m8-4h6m6-3h6m-5 3h6m-1 0h6m12 5h6m12-4h6m6 2h6m-718 13h6m-6-2h6m-3-5h6m3-2h6m4 4h6m122-3h6m10 7h6m105-2h6m2-6h6m8 0h6m4 5h6m-3 1h6m13 0h6m8-3h6m-5 3h6m-5 1h6m-4-6h6m15 4h6m-6-4h6m-3-1h6m14 4h6m5-4h6m-5-1h6m4 4h6m14 0h6m16 0h6m1 4h6m-4-6h6m23 4h6m0-4h6m-4 0h6m-6 1h6m3 6h6m2 0h6m2 0h6m15-9h6m-4 5h6m18 5h6m6-2h6m13 1h6m1-9h6m2 9h6m5-4h6m8-3h6m-1-1h6m5 3h6m-1 1h6m-5 1h6m-4-4h6m-2 2h6m3 0h6m13 6h6m3-5h6m-3 0h6m-721 6h6m-4 9h6m-2-8h6m-2 6h6m-1-2h6m4-6h6m-4 9h6m-6-4h6m-4 0h6m3-1h6m-4 3h6m115-1h6m9 1h6m103-1h6m5-5h6m-5 8h6m-3-5h6m32-2h6m-5 6h6m-4-5h6m6 0h6m-4-2h6m9 3h6m3 5h6m-1 0h6m7-7h6m0 3h6m7-1h6m1 6h6m17-2h6m-3-1h6m-5-7h6m2 7h6m-1 1h6m6-1h6m-2-6h6m-4 3h6m35-3h6m0 7h6m4 1h6m6-9h6m1 1h6m-1 7h6m5-1h6m-2-4h6m-4 2h6m29-1h6m3 5h6m1-5h6m0-3h6m10-1h6m-3 6h6m-1 3h6m18-9h6m8 6h6m3 1h6m1-4h6m-712 8h6m9 7h6m11 2h6m142-1h6m113-2h6m10 1h6m-4-2h6m3-2h6m2 6h6m18-4h6m-2-3h6m-6 6h6m4-6h6m-2 7h6m-4-5h6m10-2h6m0 4h6m22-3h6m-5 2h6m-2 0h6m-2 4h6m15-1h6m1 0h6m14-3h6m8 0h6m5 1h6m4-4h6m9 2h6m12-5h6m3 1h6m-4 0h6m6 7h6m1 2h6m7-6h6m5-2h6m-6 1h6m-3-3h6m-2 1h6m-1 2h6m-3 5h6m-2 0h6m0-3h6m-1 2h6m-4 0h6m-3 3h6m-4-7h6m-4-1h6m0 0h6m6 2h6m4 1h6m-4-3h6m-2 3h6m7-2h6m-5 6h6m-5-4h6m3 2h6m-715 8h6m-6 3h6m-4-3h6m3-2h6m15 2h6m-3-1h6m116 5h6m13-3h6m8-4h6m82 5h6m3-1h6m2-3h6m-5-2h6m-4 1h6m28 4h6m15 1h6m22-3h6m-4 4h6m3-6h6m-4 3h6m-5-3h6m2 6h6m6 0h6m29 2h6m-1-1h6m1-8h6m3 5h6m-2 0h6m-6 3h6m-2-5h6m7 0h6m-4 4h6m9 2h6m4-1h6m1-4h6m19 4h6m2-2h6m4 3h6m6-5h6m-6 0h6m-5-3h6m1 1h6m-3 2h6m17-2h6m-1 5h6m11-1h6m-2-5h6m3 3h6m6 3h6m-1-1h6m-5 2h6m0-7h6m-4-1h6m-1 7h6m-4-7h6m-5 5h6m-2-3h6m7-1h6m6 5h6m-705 12h6m-4-2h6m-1-4h6m-6 4h6m-3-2h6m-3 3h6m0 0h6m-4-5h6m98 5h6m9-1h6m127 2h6m-1-5h6m0 2h6m-2-4h6m8 1h6m-4 0h6m-1 7h6m-4-5h6m23-5h6m10 7h6m-1-6h6m0 2h6m-6-2h6m36 4h6m-2 3h6m2-3h6m8 2h6m-5 0h6m9-1h6m6-2h6m-3 6h6m8-6h6m-2-3h6m-1 3h6m6 6h6m2-2h6m-1-1h6m-6 0h6m-5-1h6m-5-3h6m-2-2h6m-5 0h6m-3 2h6m20-1h6m-4 7h6m-1-3h6m-4 1h6m-2 0h6m0 2h6m-5 0h6m0-8h6m-3 0h6m7 5h6m-5 3h6m-4-3h6m-4-4h6m1 4h6m10 3h6m0 0h6m8-5h6m14 2h6m8-2h6m-4-3h6m-3-1h6m3 8h6m5 1h6m-710 6h6m-2 5h6m-6-8h6m-1 7h6m-5-4h6m-1 2h6m-3-3h6m100-3h6m4 4h6m17-2h6m30 5h6m68-8h6m7 9h6m17 0h6m9-6h6m9 7h6m0-5h6m31 4h6m-3-4h6m2-3h6m1 6h6m-1-6h6m2 3h6m1-4h6m13 0h6m-4 6h6m-3-4h6m-2 2h6m1-1h6m-2 2h6m0-5h6m13 9h6m-4-6h6m1 6h6m-3-3h6m-2-7h6m-3 1h6m-1 3h6m-3 0h6m1 5h6m0-3h6m23-3h6m1 6h6m5-2h6m-3-7h6m-1 0h6m-4 6h6m27-1h6m12 4h6m-5-5h6m-6 0h6m2 1h6m34 0h6m-1 4h6m2-1h6m5-5h6m-709 16h6m-1 0h6m2-2h6m10-2h6m94 5h6m37-3h6m12-3h6m93 5h6m-1-6h6m-4 7h6m13-8h6m-3 2h6m7-1h6m16 1h6m-4 3h6m-2-5h6m8-1h6m34 8h6m7 0h6m8-8h6m-6 9h6m-4-2h6m1 2h6m-4-7h6m-5-2h6m-2 7h6m2-1h6m-2-4h6m0 1h6m-6 5h6m2-3h6m0-5h6m1 7h6m14-5h6m38 1h6m-5 5h6m-6-6h6m-4-2h6m-3 3h6m-6-3h6m-3 0h6m-2-1h6m-1 1h6m16 1h6m-6 0h6m-4 0h6m6 3h6m-1 1h6m-4-5h6m6 9h6m-4-2h6m4-7h6m8 4h6m8-3h6m0 6h6m-2 1h6m2-3h6m-1-4h6m-5 3h6m-704 12h6m7 1h6m-5 0h6m1-7h6m0 6h6m-4-1h6m90 1h6m12 0h6m45-1h6m-2 2h6m107-7h6m-6 1h6m-5 7h6m5 1h6m8-6h6m16-4h6m-1 5h6m-3 1h6m2-5h6m43 4h6m3 2h6m-4-4h6m-5-1h6m6 7h6m10 0h6m-1-7h6m-2 0h6m-4 4h6m5 0h6m5 1h6m1 1h6m0-2h6m58 0h6m6-5h6m16 3h6m11-2h6m18 4h6m3-5h6m-6 1h6m3 4h6m10-6h6m-682 14h6m3 0h6m8 0h6m95 3h6m-2-2h6m56 1h6m68-4h6m5 8h6m22-9h6m-3 3h6m-2 5h6m38 0h6m-6-3h6m11-2h6m-4 5h6m-1-2h6m-2 2h6m4-5h6m3-3h6m-5 7h6m0 1h6m12-7h6m-4-1h6m-5 8h6m-2-3h6m9 0h6m5-5h6m-4 6h6m7 2h6m10-5h6m-4 0h6m-4 2h6m-3-6h6m4 2h6m-2-2h6m6 3h6m-3 0h6m-2 3h6m35-4h6m4 3h6m5 1h6m6 0h6m4-3h6m-1 1h6m-5 2h6m17-3h6m-2 1h6m6 2h6m5-2h6m20-1h6m-1 4h6m-5 1h6m-704 12h6m-5-5h6m-5 3h6m-5 1h6m-1-6h6m-3 0h6m1 2h6m107-1h6m16-3h6m-4 8h6m111-4h6m-5 4h6m-4-9h6m-1 7h6m1-1h6m-3-3h6m0 2h6m71 1h6m24 4h6m-1-2h6m-4 2h6m10-5h6m4 0h6m3 2h6m0-3h6m19 3h6m15-4h6m68-3h6m-2 8h6m0 1h6m11-1h6m1 1h6m49-3h6m-6 3h6m-1-3h6m-6-1h6m8-3h6m-3 0h6m7 6h6m-712 12h6m0-2h6m-5 2h6m-2-3h6m3 0h6m3-2h6m-5 0h6m-6 4h6m-4-4h6m89 2h6m20 0h6m12-4h6m98 1h6m-6 5h6m3-6h6m18 5h6m-4-3h6m55 2h6m-3 0h6m11-2h6m-2 2h6m0-5h6m-5 7h6m1-5h6m-2-1h6m-3 2h6m1-4h6m-5 4h6m-5-5h6m-1 7h6m-3 2h6m-2-4h6m12-4h6m-4 9h6m-6-2h6m33 0h6m8-7h6m-6 6h6m-6-3h6m75 2h6m-4 1h6m16 2h6m2-9h6m-3 2h6m-2 8h6m4-4h6m-6 0h6m22 2h6m2-1h6m-6-6h6m14 7h6m1 1h6m-703 8h6m0-5h6m0 2h6m-3 2h6m-6 2h6m3-5h6m81-2h6m24 0h6m10 1h6m118 1h6m5 0h6m-6-2h6m-5 7h6m8-7h6m56-1h6m-4 3h6m-4 2h6m9 3h6m-4 2h6m4-1h6m-1-9h6m4 3h6m-5 4h6m6-1h6m-6-5h6m18 4h6m13-3h6m-3 7h6m-2 1h6m0-9h6m106 3h6m-6-2h6m0 7h6m-5 0h6m5-7h6m14 6h6m-2-3h6m3-4h6m5 1h6m-5 7h6m-2-2h6m-5-5h6m3 6h6m4-5h6m-2 0h6m0 1h6m-5 1h6m0-4h6m-709 16h6m-5-5h6m-2 6h6m-5-7h6m-1-1h6m-6 8h6m-5-6h6m-1 1h6m-4 0h6m257 1h6m5 2h6m1-1h6m-4 1h6m71 2h6m-4-4h6m4 3h6m5 2h6m-5-6h6m13 4h6m4 1h6m3-8h6m-5 4h6m24 5h6m7-5h6m114 3h6m-3-5h6m-3-1h6m23 9h6m-1 0h6m15-5h6m1-1h6m-5 2h6m-1-1h6m2-5h6m-694 17h6m-6 0h6m-4-4h6m2 0h6m-3 1h6m-5 2h6m-6-3h6m8-1h6m249 8h6m0-2h6m4-5h6m87-1h6m2 7h6m-1-9h6m10 4h6m-6-1h6m4 0h6m-4 4h6m-3-1h6m-4-2h6m-5 3h6m-5-4h6m0 4h6m2-7h6m154 10h6m4-7h6m7 3h6m12-4h6m9 5h6m-668 8h6m-1-3h6m-5 5h6m-4-1h6m1 3h6m1-4h6m255 1h6m-4-2h6m115 0h6m5 1h6m-3 0h6m-2 0h6m0-5h6m176 9h6m3-7h6m4 8h6m-1-7h6m-4 0h6m-2 6h6m0-5h6m-1-3h6m-649 10h6m-6 3h6m-5-4h6m4 2h6m-5 0h6m-6-2h6m-5 7h6m374-2h6m-4 0h6m-6 0h6m1-3h6m204-1h6m1 6h6m-16 3h6m-3 2h6m-6 2h6"/></g>
<rect x="30.4" y="523.1" width="109.2" height="88.4" fill="none" stroke="#555" stroke-width="0.7"/>
<line x1="30.4" y1="523.1" x2="31.6" y2="523.1" stroke="#555" stroke-width="0.5"/>
<line x1="30.4" y1="531.94" x2="31.2" y2="531.94" stroke="#555" stroke-width="0.5"/>
<line x1="30.4" y1="540.78" x2="31.6" y2="540.78" stroke="#555" stroke-width="0.5"/>
<line x1="30.4" y1="549.62" x2="31.2" y2="549.62" stroke="#555" stroke-width="0.5"/>
<line x1="30.4" y1="558.46" x2="31.6" y2="558.46" stroke="#555" stroke-width="0.5"/>
<line x1="30.4" y1="567.3" x2="31.2" y2="567.3" stroke="#555" stroke-width="0.5"/>
<line x1="30.4" y1="576.14" x2="31.6" y2="576.14" stroke="#555" stroke-width="0.5"/>
<line x1="30.4" y1="584.98" x2="31.2" y2="584.98" stroke="#555" stroke-width="0.5"/>
<line x1="30.4" y1="593.82" x2="31.6" y2="593.82" stroke="#555" stroke-width="0.5"/>
<line x1="30.4" y1="602.66" x2="31.2" y2="602.66" stroke="#555" stroke-width="0.5"/>
<line x1="30.4" y1="611.5" x2="31.6" y2="611.5" stroke="#555" stroke-width="0.5"/>
<line x1="30.4" y1="611.5" x2="30.4" y2="610.3" stroke="#555" stroke-width="0.5"/>
<line x1="41.32" y1="611.5" x2="41.32" y2="610.7" stroke="#555" stroke-width="0.5"/>
<line x1="52.24" y1="611.5" x2="52.24" y2="610.3" stroke="#555" stroke-width="0.5"/>
<line x1="63.16" y1="611.5" x2="63.16" y2="610.7" stroke="#555" stroke-width="0.5"/>
<line x1="74.08" y1="611.5" x2="74.08" y2="610.3" stroke="#555" stroke-width="0.5"/>
<line x1="85" y1="611.5" x2="85" y2="610.7" stroke="#555" stroke-width="0.5"/>
<line x1="95.92" y1="611.5" x2="95.92" y2="610.3" stroke="#555" stroke-width="0.5"/>
<line x1="106.84" y1="611.5" x2="106.84" y2="610.7" stroke="#555" stroke-width="0.5"/>
<line x1="117.76" y1="611.5" x2="117.76" y2="610.3" stroke="#555" stroke-width="0.5"/>
<line x1="128.68" y1="611.5" x2="128.68" y2="610.7" stroke="#555" stroke-width="0.5"/>
<line x1="139.6" y1="611.5" x2="139.6" y2="610.3" stroke="#555" stroke-width="0.5"/>
<text x="29.8" y="525.7" font-size="7.3" text-anchor="end" textLength="13.9" lengthAdjust="spacingAndGlyphs">2.00</text>
<text x="29.8" y="543.38" font-size="7.3" text-anchor="end" textLength="13.9" lengthAdjust="spacingAndGlyphs">1.60</text>
<text x="29.8" y="561.06" font-size="7.3" text-anchor="end" textLength="13.9" lengthAdjust="spacingAndGlyphs">1.20</text>
<text x="29.8" y="578.74" font-size="7.3" text-anchor="end" textLength="13.9" lengthAdjust="spacingAndGlyphs">0.80</text>
<text x="29.8" y="596.42" font-size="7.3" text-anchor="end" textLength="13.9" lengthAdjust="spacingAndGlyphs">0.40</text>
<text x="29.8" y="614.1" font-size="7.3" text-anchor="end" textLength="13.9" lengthAdjust="spacingAndGlyphs">0.00</text>
<text x="12.8" y="567.3" font-size="7.4" text-anchor="middle" textLength="54" lengthAdjust="spacingAndGlyphs" transform="rotate(-90 12.8 567.3)">RDG (arb.units)</text>
<text x="35.4" y="612.8" font-size="7.7" text-anchor="end" textLength="16.2" lengthAdjust="spacingAndGlyphs" transform="rotate(-90 35.4 612.8)">-0.05</text>
<text x="55.5" y="612.8" font-size="7.7" text-anchor="end" textLength="16.2" lengthAdjust="spacingAndGlyphs" transform="rotate(-90 55.5 612.8)">-0.03</text>
<text x="77.4" y="612.8" font-size="7.7" text-anchor="end" textLength="16.2" lengthAdjust="spacingAndGlyphs" transform="rotate(-90 77.4 612.8)">-0.01</text>
<text x="98.2" y="612.8" font-size="7.7" text-anchor="end" textLength="13.4" lengthAdjust="spacingAndGlyphs" transform="rotate(-90 98.2 612.8)">0.01</text>
<text x="120.8" y="612.8" font-size="7.7" text-anchor="end" textLength="13.4" lengthAdjust="spacingAndGlyphs" transform="rotate(-90 120.8 612.8)">0.03</text>
<text x="140.9" y="612.8" font-size="7.7" text-anchor="end" textLength="13.4" lengthAdjust="spacingAndGlyphs" transform="rotate(-90 140.9 612.8)">0.05</text>
<text x="86.2" y="641.4" font-size="7.5" text-anchor="middle" textLength="73.5" lengthAdjust="spacingAndGlyphs">sign(λ<tspan font-size="5.5" dy="1.5">2</tspan><tspan dy="-1.5">)ρ (arb.units)</tspan></text>
<text x="86" y="658" font-size="10" text-anchor="middle" font-weight="normal" fill="#111" textLength="65.7" lengthAdjust="spacingAndGlyphs" stroke="#111" stroke-width="0.28"><tspan font-style="italic">cis-trans</tspan>-TWG1</text>
<rect x="142.7" y="523.1" width="5.5" height="88.4" fill="url(#cb0)"/>
<text x="148.8" y="533.6" font-size="7.3" textLength="18.2" lengthAdjust="spacingAndGlyphs">0.015</text>
<text x="148.8" y="549.35" font-size="7.3" textLength="18.2" lengthAdjust="spacingAndGlyphs">0.005</text>
<text x="148.8" y="565.1" font-size="7.3" textLength="20.8" lengthAdjust="spacingAndGlyphs">-0.005</text>
<text x="148.8" y="580.85" font-size="7.3" textLength="20.8" lengthAdjust="spacingAndGlyphs">-0.015</text>
<text x="148.8" y="596.6" font-size="7.3" textLength="20.8" lengthAdjust="spacingAndGlyphs">-0.025</text>
<text x="148.8" y="612.35" font-size="7.3" textLength="20.8" lengthAdjust="spacingAndGlyphs">-0.035</text>
<polyline points="68.2,603.8 84.9,548.6 103,603.8" stroke="#111" stroke-width="0.9" fill="none"/>
<polyline points="74.4,603.8 85.6,582 94.3,603.8" stroke="#111" stroke-width="0.9" fill="none"/>
<polyline points="79.6,605.4 85.2,600.3 91,605.4" stroke="#111" stroke-width="0.9" fill="none"/>
<polyline points="107,603.5 117.5,577.6 128.3,603.5" stroke="#111" stroke-width="0.9" fill="none"/>
<text x="85" y="545.9" font-size="8.2" text-anchor="middle" textLength="28" lengthAdjust="spacingAndGlyphs">C-H···π</text>
<text x="118" y="565.2" font-size="8.2" text-anchor="middle" textLength="33" lengthAdjust="spacingAndGlyphs">Intra-ring</text>
<text x="118" y="572.4" font-size="8.2" text-anchor="middle" textLength="42.6" lengthAdjust="spacingAndGlyphs">nonbonding</text>
<text x="86.2" y="579.6" font-size="8.2" text-anchor="middle" textLength="38.6" lengthAdjust="spacingAndGlyphs">Δ-stacking</text>
<text x="85.4" y="600.4" font-size="8.2" text-anchor="middle" textLength="17.6" lengthAdjust="spacingAndGlyphs">H···H</text>
<g clip-path="url(#cp1)"><path d="M247.12,523.35 L246.84,524.23 L246.55,525.1 L246.26,525.96 L245.95,526.81 L245.63,527.65 L245.31,528.49 L244.97,529.31 L244.63,530.13 L244.27,530.94 L243.91,531.74 L243.53,532.54 L243.14,533.33 L242.74,534.1 L242.33,534.88 L241.9,535.64 L241.46,536.39 L241.01,537.14 L240.55,537.88 L240.07,538.62 L239.57,539.34 L239.07,540.06 L238.54,540.78 L238,541.48 L237.45,542.18 L236.87,542.87 L236.28,543.56 L235.68,544.23 L235.05,544.91 L234.41,545.57 L233.74,546.23 L233.06,546.88 L232.35,547.52 L231.62,548.16 L230.87,548.79 L230.1,549.42 L229.31,550.04 L228.49,550.65 L227.65,551.26 L226.78,551.86 L225.88,552.46 L224.96,553.05 L224.01,553.63 L223.03,554.21 L222.02,554.78 L220.99,555.35 L219.92,555.91 L218.81,556.47 L217.68,557.02 L216.51,557.56 L215.3,558.1 L214.06,558.64 L212.78,559.17 L211.46,559.69 L210.1,560.21 L208.7,560.72 L207.26,561.23 L205.78,561.73 L204.25,562.23 L202.67,562.73 L201.05,563.21 L201.05,577.09 L204.46,576.34 L207.66,575.57 L210.67,574.78 L213.48,573.98 L216.13,573.16 L218.61,572.33 L220.94,571.47 L223.13,570.6 L225.18,569.71 L227.1,568.8 L228.91,567.87 L230.6,566.92 L232.19,565.96 L233.68,564.97 L235.08,563.97 L236.4,562.95 L237.63,561.91 L238.79,560.86 L239.87,559.8 L240.89,558.72 L241.85,557.63 L242.74,556.54 L243.59,555.44 L244.37,554.34 L245.12,553.24 L245.81,552.14 L246.46,551.05 L247.08,549.97 L247.65,548.89 L248.19,547.83 L248.7,546.78 L249.17,545.74 L249.62,544.72 L250.03,543.72 L250.43,542.73 L250.8,541.75 L251.14,540.78 L251.46,539.83 L251.77,538.89 L252.05,537.96 L252.32,537.03 L252.57,536.11 L252.81,535.19 L253.03,534.27 L253.24,533.35 L253.43,532.42 L253.62,531.48 L253.79,530.53 L253.95,529.57 L254.1,528.58 L254.24,527.58 L254.37,526.56 L254.5,525.51 L254.62,524.43 L254.73,523.33 L254.72,523.3Z" fill="url(#bg1)"/><path d="M263.48,523.34 L263.72,524 L263.98,524.65 L264.24,525.3 L264.52,525.94 L264.8,526.58 L265.09,527.21 L265.4,527.85 L265.71,528.47 L266.04,529.1 L266.37,529.72 L266.72,530.34 L267.08,530.96 L267.45,531.58 L267.84,532.19 L268.24,532.81 L268.65,533.43 L269.08,534.04 L269.52,534.66 L269.98,535.27 L270.45,535.89 L270.94,536.51 L271.45,537.13 L271.97,537.75 L272.51,538.37 L273.07,538.99 L273.66,539.62 L274.26,540.25 L274.88,540.87 L275.53,541.5 L276.19,542.14 L276.88,542.77 L277.6,543.41 L278.34,544.04 L279.1,544.68 L279.89,545.32 L280.71,545.97 L281.56,546.61 L282.44,547.25 L283.35,547.89 L284.29,548.54 L285.26,549.18 L286.26,549.82 L287.31,550.46 L288.38,551.1 L289.5,551.74 L290.65,552.38 L291.85,553.02 L293.08,553.65 L294.36,554.28 L295.69,554.91 L297.06,555.53 L298.47,556.15 L299.94,556.77 L301.46,557.38 L303.03,557.99 L304.66,558.59 L306.34,559.19 L308.08,559.78 L309.88,560.37 L311.75,560.95 L311.75,576 L308.26,575.21 L304.98,574.4 L301.92,573.56 L299.04,572.72 L296.35,571.85 L293.83,570.96 L291.47,570.06 L289.25,569.13 L287.18,568.18 L285.24,567.22 L283.42,566.23 L281.71,565.23 L280.11,564.2 L278.62,563.15 L277.21,562.09 L275.9,561 L274.67,559.9 L273.52,558.78 L272.44,557.65 L271.42,556.51 L270.48,555.36 L269.59,554.2 L268.76,553.04 L267.98,551.87 L267.24,550.71 L266.56,549.56 L265.92,548.41 L265.32,547.27 L264.76,546.14 L264.23,545.03 L263.73,543.93 L263.27,542.85 L262.84,541.78 L262.43,540.73 L262.05,539.7 L261.69,538.67 L261.36,537.67 L261.05,536.67 L260.75,535.69 L260.48,534.71 L260.22,533.74 L259.98,532.76 L259.75,531.79 L259.54,530.82 L259.34,529.83 L259.16,528.84 L258.98,527.83 L258.82,526.81 L258.67,525.77 L258.52,524.71 L258.39,523.62 L258.37,523.3Z" fill="url(#bg1)"/><g mask="url(#mk1)"><path d="M238.13,567.75 L240.9,585.53 L242.56,607.75 L248.1,607.75 L254.19,567.75 L254.96,545.52 L254.96,523.3 L248.65,523.3Z" fill="url(#bg1)"/><path d="M257.51,523.3 L257.51,532.19 L264.7,607.75 L269.13,607.75 L270.79,598.87 L278.54,596.64 L311.75,595.31 L311.75,572.2 L269.68,545.52 L263.04,523.3Z" fill="url(#bg1)"/></g><path transform="scale(.1)" stroke="url(#bg1d)" stroke-width="6" fill="none" d="M2552 5400h6m9 4h6m-3 19h6m-31 3h6m6 1h6m-10 11h6m0 1h6m4 6h6m-2 6h6m-29 7h6m6 3h6m2 5h6m-20 39h6m21-2h6m-43 3h6m-2 11h6m-20 18h6m-3 27h6m8-7h6m19 10h6m-4 22h6m-47 10h6m20 1h6m-29 15h6m-4 4h6m7 6h6m6-4h6m-13 33h6m-5 8h6m-46 6h6m71 1h6m-47 10h6m11 5h6m2 1h6m-59 8h6m0-3h6m16-1h6m0 2h6m6-3h6m-254 24h6m5 2h6m-4 1h6m7 1h6m-5 1h6m-27 1h6m-1-1h6m-6 2h6m4 0h6m-4 7h6m1-3h6m-2-4h6m-5 6h6m-4-4h6m-3 0h6m-5 3h6m186-3h6m12 3h6m-245 10h6m-5-1h6m12-5h6m-3 8h6m1-5h6m-6 2h6m-4-1h6m-4 1h6m-6-5h6m-5 5h6m-5 1h6m-2 0h6m131-4h6m75-2h6m-261 11h6m4 4h6m1 2h6m5-1h6m-3-1h6m-6 2h6m-2-8h6m-4 6h6m147 0h6m38-3h6m-234 10h6m1 0h6m-4-1h6m-4 4h6m1 1h6m-2-1h6m3-3h6m-28 13h6m-5 0h6m-6-3h6m0 4h6m1 3h6m-3-7h6m-6 4h6m-5-3h6m0 4h6m153-4h6m17-1h6m-209 9h6m-5-1h6m-6-1h6m-5 5h6m-4-3h6m2 0h6m-4 0h6m-5 5h6m-6 1h6m-7 3h6m-4 3h6m155-2h6m7 8h6m36-1h6m-230 2h6m-4 0h6m-1 7h6m-5 1h6m132-1h6m92 2h6m-239 6h6m-6-4h6m-3 2h6m-6-2h6m187 2h6m-63 12h6m-139 5h6m156 9h6m19-4h6m6 3h6m-206 3h6m-4-1h6m-5 1h6m-3 6h6m-6-6h6m138 7h6m-156 2h6m-2 1h6m-4 0h6m-6 6h6m-3-7h6m-1 8h6m-6-5h6m128-3h6m35 4h6m7-1h6m-196 7h6m1 2h6m96-2h6m8 5h6m5-6h6m39 4h6m12 2h6m-211 14h6m-4-8h6m0 0h6m668 7h6m-5-2h6m18-2h6m4-3h6m-4 2h6m-5 1h6m-716 5h6m-2 2h6m-3 8h6m-5-1h6m136-4h6m60-4h6m332 8h6m22-3h6m-2 0h6m3 2h6m-2 1h6m-1-2h6m-5 2h6m0-4h6m0-2h6m-2 2h6m-2-2h6m-6 5h6m-1 0h6m0-5h6m2 2h6m4 4h6m-6-5h6m-6 4h6m-3-4h6m-6 2h6m6 2h6m0 2h6m19-1h6m-3-6h6m-4 1h6m-2-2h6m2 8h6m-735 7h6m0-5h6m-3 5h6m99 2h6m357-1h6m32-1h6m0-3h6m4-1h6m-5-2h6m-4 0h6m9 2h6m-4-1h6m2-1h6m-5 4h6m17-4h6m-4 5h6m1 1h6m1-6h6m-3 0h6m3 6h6m-4-2h6m-6 3h6m-6-3h6m4 4h6m-4-7h6m2 2h6m15-4h6m9 2h6m3 6h6m-5 2h6m8-2h6m-5-6h6m-2 7h6m0-2h6m-4 2h6m-1 0h6m-4-7h6m-714 14h6m-4-1h6m-4 2h6m-2-5h6m-1 2h6m-4 2h6m198 3h6m129 1h6m-4 0h6m45-3h6m0 1h6m4-3h6m9 0h6m-5-3h6m-3 6h6m0-3h6m-4-4h6m-2 2h6m-4-2h6m-5 7h6m-1-8h6m12 1h6m3 5h6m0-2h6m4 1h6m-5 5h6m0-3h6m2-4h6m11 1h6m2-3h6m3 7h6m9-5h6m-5 3h6m3-3h6m7 5h6m-1-1h6m-2 0h6m0-4h6m5-3h6m-5 3h6m-4 7h6m-4-4h6m4 3h6m3-8h6m-6 4h6m-2-3h6m-5 2h6m-2 1h6m9 3h6m27-7h6m-1 3h6m12-4h6m-732 17h6m2-5h6m-5 4h6m-6-5h6m4 3h6m-4 0h6m101-2h6m8 7h6m13-5h6m-2 2h6m4 2h6m42 0h6m-2 0h6m81 1h6m9-4h6m-1 0h6m-3 4h6m-6-2h6m-3-5h6m1-2h6m-4 5h6m-5-1h6m3 2h6m22 2h6m0-8h6m10 1h6m-5 9h6m-1-6h6m6 4h6m-5-7h6m-6 6h6m2 1h6m-1-3h6m0-1h6m14-2h6m-1 7h6m10-4h6m-6-2h6m-6 2h6m2 3h6m10-1h6m24 0h6m-6-5h6m-2 6h6m-4 0h6m9-4h6m-1 4h6m0-1h6m1-5h6m-2 4h6m-6-5h6m-6 1h6m-1 2h6m9 3h6m-6-1h6m-1-3h6m17 3h6m2 2h6m1-1h6m17-4h6m-2 5h6m-6-6h6m-5 6h6m-2-7h6m-5 7h6m5 1h6m10-1h6m-1-2h6m-5 1h6m-1 2h6m1-1h6m-5-4h6m-728 15h6m-5-4h6m-5 1h6m-4-6h6m-3 4h6m-4-4h6m159 1h6m12 2h6m101-3h6m-5 8h6m2-4h6m1 6h6m4-8h6m-5 6h6m11-2h6m-5-1h6m-5 0h6m3 2h6m-6-2h6m6 1h6m-6-1h6m12-1h6m-3 5h6m-2-6h6m1 2h6m-5-3h6m-4 1h6m-2 1h6m2 5h6m2-7h6m1 7h6m27-1h6m-2-6h6m-5-1h6m-2-1h6m-5 8h6m-1-4h6m-4-2h6m-4 6h6m0-5h6m-3 5h6m-2-3h6m3-3h6m1 7h6m5 0h6m-6 0h6m10 1h6m0-5h6m4 4h6m-2-6h6m-6 2h6m-2 0h6m-5 0h6m-5-2h6m-5 4h6m-4-6h6m-5 1h6m0 7h6m-6-1h6m0-7h6m-1 0h6m-3 5h6m5 1h6m-1 3h6m8-7h6m2 5h6m-1 2h6m3-5h6m-4 1h6m-5-5h6m1 2h6m-3 3h6m-4 1h6m4 0h6m-6-3h6m0-2h6m-1 2h6m1-2h6m-6 8h6m1-7h6m3 1h6m-4-2h6m1-2h6m-2 6h6m5-5h6m-725 10h6m-5 2h6m-1 0h6m-4 3h6m2 2h6m133 0h6m2-6h6m23 0h6m2 0h6m-4 4h6m11-5h6m1 1h6m67-2h6m6 1h6m12 6h6m3-5h6m10 0h6m-6 1h6m-4-2h6m17 9h6m2-1h6m-4-5h6m11 2h6m0-1h6m-1 1h6m-1 3h6m-4 1h6m-4-5h6m-5 0h6m-4-4h6m-5 6h6m-3 0h6m10 1h6m-2-2h6m-6-2h6m-6-2h6m-4 7h6m-3-7h6m0 4h6m8 0h6m-3 2h6m9-6h6m-5 5h6m11-1h6m-1 0h6m-1-4h6m0 4h6m-5-4h6m4 8h6m3-2h6m14-3h6m-3 0h6m-4 5h6m12-3h6m-4 1h6m-6-7h6m-4 7h6m0-3h6m-3-1h6m-2-2h6m1 6h6m-1-1h6m-5 0h6m-4 0h6m-3-1h6m-2-3h6m0 1h6m-1 3h6m-2 2h6m-6-4h6m6-4h6m-6 1h6m0 7h6m-2-4h6m-5 3h6m0-6h6m-1 5h6m-4-5h6m-3 5h6m12 1h6m-4-5h6m-5-2h6m2 6h6m-721 10h6m-1 0h6m-5-7h6m-4 6h6m1-3h6m97 7h6m43-3h6m129 0h6m1 0h6m2-5h6m8 4h6m-1 4h6m-4-9h6m0 9h6m-4-8h6m2-1h6m-4 7h6m15-8h6m-4 5h6m0-2h6m8-2h6m-5 2h6m-6-1h6m1 2h6m-5 2h6m-5 1h6m-1-1h6m1 4h6m19-8h6m-3 6h6m-6-5h6m-4 2h6m-2 4h6m3-3h6m-2 2h6m0-1h6m-5-5h6m-4 2h6m-3-3h6m-3 5h6m-3 0h6m1 4h6m-3-2h6m7-2h6m-6-3h6m-5 0h6m-5 5h6m1-6h6m-3 7h6m-5-3h6m-5-5h6m0 3h6m-3 4h6m2 0h6m0-6h6m12 6h6m-5-2h6m17-1h6m3-3h6m1 3h6m-5-5h6m-1 8h6m16-3h6m-6-4h6m2-1h6m-3 5h6m3-4h6m2 7h6m-3 1h6m-1-6h6m-1 4h6m-5-7h6m6 6h6m1-1h6m8 0h6m-2-2h6m-5 7h6m-5-5h6m0-4h6m-731 10h6m-6 7h6m-1-5h6m-5 1h6m-1 3h6m-5 3h6m-5-4h6m-5-3h6m-4-1h6m-5 0h6m-6 2h6m-4 5h6m1-5h6m81 1h6m14 3h6m86-2h6m81 3h6m2-6h6m2-1h6m-4 3h6m0 0h6m-4 4h6m-1-9h6m-5 3h6m0 5h6m5-7h6m-6 6h6m3-1h6m0 0h6m-1-6h6m1 8h6m-4-6h6m11 7h6m19-5h6m-4 3h6m3-2h6m0-1h6m-5-1h6m19 0h6m4 3h6m-3 4h6m17-3h6m-3-7h6m-6 1h6m-3 9h6m1-9h6m-2 0h6m0 6h6m-2-7h6m-5 2h6m3 0h6m-1 6h6m-1 1h6m9-7h6m-5 2h6m-3 3h6m12 2h6m2-7h6m0 0h6m-5 0h6m-5-1h6m-4 9h6m0-8h6m18 2h6m-3 0h6m3 4h6m-3-1h6m-5-6h6m6 6h6m-5-3h6m-4-3h6m4 4h6m-6-1h6m2-3h6m-6 6h6m-1-2h6m-5-1h6m0-3h6m-5 3h6m4 0h6m5 0h6m-730 14h6m-3 2h6m5-2h6m1-4h6m112 2h6m83-5h6m-3 4h6m68-3h6m-2 4h6m-6-2h6m4 5h6m3-1h6m-4-5h6m13 5h6m-4-4h6m-3 5h6m3 1h6m-2-6h6m-4-2h6m-3 3h6m0 3h6m4-7h6m3 3h6m-6-4h6m-2 10h6m2-5h6m-3 1h6m-3-5h6m-6 1h6m0 4h6m10 4h6m-1-6h6m-1-4h6m-6 6h6m-1 3h6m-3-7h6m2 0h6m-3 7h6m-3-9h6m3 1h6m10 8h6m0-1h6m-2-7h6m-1-1h6m-5 5h6m-5-3h6m-2 0h6m-2 1h6m0 0h6m14 0h6m-1 1h6m6 5h6m-2-1h6m-5 1h6m-4-6h6m-6 5h6m3-5h6m-5-1h6m9 3h6m-5 3h6m-4-5h6m-4 5h6m-4-6h6m-2-1h6m7 8h6m-5-5h6m-3 5h6m41-4h6m-2-4h6m-3 9h6m1-2h6m-6-1h6m3-6h6m-2 2h6m9 3h6m-3 2h6m-5-6h6m2 0h6m-729 14h6m0 2h6m-1 1h6m-4-4h6m-4 3h6m-5-3h6m-1 1h6m-3-3h6m79 7h6m43-7h6m148 0h6m-1 6h6m-3-7h6m-1 0h6m-4 7h6m7-2h6m1-5h6m16 5h6m9-3h6m-4 0h6m-4-1h6m-3 2h6m1-4h6m0 8h6m0-2h6m5 0h6m-1-2h6m-2-4h6m4 4h6m18 0h6m-4 2h6m-4 0h6m-2-4h6m3 1h6m2 3h6m2-6h6m0 6h6m-4-2h6m0-4h6m3 8h6m-4-5h6m33-3h6m14 9h6m3-2h6m9-4h6m-6 5h6m-4-7h6m-5 2h6m-4 5h6m-2-4h6m-1-3h6m-5 2h6m0-2h6m-1 5h6m13-1h6m-2 1h6m-4-1h6m0 1h6m-6 0h6m-2-3h6m4 5h6m-4-4h6m5 4h6m19-5h6m-721 14h6m12-7h6m0 6h6m-5-3h6m279-4h6m5 4h6m0 0h6m-2 2h6m0 2h6m-2-7h6m1 3h6m-5 5h6m0-5h6m7 2h6m-5-5h6m-2 1h6m15 0h6m5 1h6m-2 4h6m-4-3h6m-2 4h6m1-2h6m-6-2h6m-3-1h6m3 7h6m0-1h6m-4-5h6m-3 2h6m7 2h6m-5-1h6m18-4h6m2 6h6m-6-4h6m0 1h6m-3-6h6m-4 7h6m-2-3h6m9 6h6m-4-4h6m-5-5h6m13 2h6m8 2h6m-4-2h6m-4 7h6m-6-2h6m-1-1h6m-4-7h6m0 2h6m5 1h6m9-2h6m-5 3h6m-4-1h6m11-2h6m4 6h6m-5 1h6m-1-8h6m-6 9h6m4-6h6m-4 0h6m-1-2h6m-6 9h6m0-1h6m7-2h6m1-3h6m2-1h6m9 5h6m-1-1h6m4 1h6m-722 4h6m-6 5h6m-5-4h6m0 4h6m-3-3h6m-4 1h6m-4 2h6m-5-6h6m-5 2h6m-5 2h6m2-4h6m78 4h6m196 2h6m3 0h6m-6 3h6m3-3h6m-1-4h6m-3 0h6m5 5h6m3-4h6m-6 5h6m12-7h6m-1 3h6m-5-1h6m-6 5h6m2-3h6m-6 4h6m-5-5h6m-5 4h6m-3-4h6m-1 3h6m20-3h6m1 3h6m-3-2h6m-6 4h6m6-9h6m0 7h6m3-2h6m0-4h6m1 1h6m-1 0h6m0 6h6m0-5h6m-5 6h6m1-7h6m-6 2h6m-5-2h6m-4-2h6m-6 5h6m4 0h6m-4 0h6m4 1h6m-6-4h6m21-2h6m-2 0h6m40 4h6m-4-5h6m-5 2h6m-6 5h6m-3-4h6m8 0h6m-6 6h6m-3-7h6m6-1h6m-2-1h6m-6 9h6m-5-1h6m-4-6h6m-3-2h6m-1 4h6m6 2h6m6-5h6m-5 3h6m5 4h6m-6-4h6m0 0h6m16-3h6m0 4h6m-725 9h6m-6 2h6m2 3h6m-4-2h6m-6-7h6m-5 7h6m-5-6h6m-3 7h6m-1-5h6m-4 5h6m71-4h6m20-4h6m66 10h6m106-5h6m2-1h6m2 5h6m-3-6h6m3 0h6m0 4h6m-4-3h6m-6-3h6m21 7h6m-6-6h6m-6 7h6m9-8h6m-4 2h6m11 0h6m-5-2h6m0 2h6m-6 2h6m-6 1h6m-4-5h6m15 4h6m-4 3h6m4 1h6m-4-1h6m-2-3h6m-1-1h6m-4-4h6m-5 4h6m-6 3h6m0 0h6m-5 0h6m4-4h6m5 2h6m-1-3h6m3-1h6m1-1h6m87 2h6m3 3h6m1 4h6m-4-8h6m-1 8h6m-3-2h6m-5 0h6m5-7h6m9 2h6m0 2h6m-5-4h6m10 9h6m3 0h6m2-4h6m4-3h6m-3 1h6m6-2h6m-727 11h6m-5 6h6m-6-6h6m-5 6h6m-3 1h6m-4-3h6m-5-1h6m-2 4h6m-6-7h6m-5-2h6m-5 9h6m-5-2h6m106-6h6m174 4h6m-6-2h6m-3 4h6m-5 1h6m1 0h6m-2-7h6m6-1h6m-5 9h6m-3-1h6m-6-4h6m-5 3h6m3 2h6m0-5h6m11 3h6m-5 1h6m-5-6h6m-5 2h6m-4 4h6m-2-1h6m3 2h6m-6-1h6m2-7h6m-5 3h6m-3 4h6m-1-4h6m-3 0h6m-1-1h6m-4-1h6m-2 4h6m4 3h6m6-2h6m0-4h6m18-3h6m141 4h6m-3-2h6m1 0h6m3 4h6m-2 0h6m7-3h6m2 6h6m-5-1h6m2-7h6m-3 2h6m-5 6h6m-5-2h6m-2 1h6m5-2h6m-3 2h6m-3-7h6m8 5h6m-4 2h6m-5-7h6m-3 1h6m-727 15h6m-3-2h6m-5 0h6m-1 1h6m-5-3h6m-4-2h6m0 8h6m-6-6h6m-5 3h6m-1 4h6m-6-1h6m111-7h6m5 3h6m9-4h6m6 3h6m14 2h6m118-3h6m-6 1h6m-1 0h6m-5 3h6m-1-5h6m-5 4h6m-2-2h6m-2 4h6m-2-6h6m5 8h6m-5-10h6m2 5h6m10-4h6m1 2h6m22 1h6m-1-3h6m0 0h6m207 2h6m-4 7h6m-6-8h6m-4 5h6m-2-5h6m15 4h6m-3-2h6m6 3h6m-5 2h6m-5 0h6m-1-5h6m1 4h6m-2-3h6m-4-3h6m-3 8h6m5-2h6m-3-6h6m-727 12h6m-3-1h6m-4 3h6m-4-1h6m-4 2h6m-1 2h6m0-5h6m-4 4h6m-4-4h6m76-3h6m17 6h6m100-4h6m78 5h6m-2-1h6m0 1h6m2-6h6m10 7h6m3-8h6m2-1h6m-4 3h6m17 6h6m-2-1h6m218-6h6m-1 3h6m1 0h6m-3-2h6m7-1h6m-4 7h6m-4-6h6m-5-3h6m-1 7h6m4-3h6m-4 0h6m7 6h6m4-6h6m-3 4h6m-2-3h6m-1-1h6m-6 5h6m-1-7h6m-2 4h6m-4-3h6m-728 9h6m-5 2h6m-4 4h6m-1-2h6m-3-5h6m-5 7h6m-5 2h6m-3-4h6m-5 0h6m3 4h6m78-9h6m207 9h6m11-3h6m-6-2h6m7 5h6m6-5h6m-2-1h6m-2-1h6m-3 3h6m3 4h6m-4-1h6m242-1h6m22-4h6m6 3h6m0 0h6m-5-4h6m0-2h6m-6 5h6m-4 1h6m-5 3h6m-1-9h6m3 6h6m-5-5h6m-4-1h6m-3 3h6m4 3h6m-3 1h6m-5-5h6m-721 12h6m-4-2h6m-4 2h6m-5-3h6m-6 6h6m164-7h6m4 6h6m118 3h6m0 0h6m0-8h6m-4 0h6m-5 7h6m14-9h6m-4 6h6m-6-5h6m-3 7h6m8-1h6m-5-5h6m-4 3h6m261 2h6m-2-3h6m7 0h6m-1-3h6m4 5h6m-3 0h6m10-4h6m-4 3h6m2-4h6m-4 8h6m-5 0h6m-6-7h6m-4 2h6m-2-4h6m0 9h6m-722 9h6m2-6h6m3-1h6m-5 5h6m-6-2h6m3 4h6m-5 1h6m85-3h6m62 0h6m124-2h6m2-1h6m-2 3h6m-6 0h6m-1 3h6m3-2h6m-4 1h6m-5-1h6m-3-5h6m-2 2h6m7-1h6m272 2h6m0-4h6m-4 0h6m-1 6h6m11-1h6m10-2h6m-6 3h6m-6 1h6m-1-3h6m19-2h6m-5 2h6m-715 11h6m-3 2h6m-5-4h6m0-4h6m-4 7h6m-4 1h6m180 0h6m-3 1h6m119-4h6m-4 4h6m-1-6h6m297-3h6m6 5h6m-4-2h6m2 2h6m5 3h6m0 0h6m-5-7h6m-4 4h6m5 4h6m-5-1h6m-6-7h6m-1 6h6m-717 5h6m0-2h6m-5 0h6m3 2h6m-3 2h6m-1-4h6m-5 4h6m-3 1h6m179-4h6m9 7h6m12-5h6m78-2h6m5 9h6m-4-4h6m0 2h6m2-8h6m306 0h6m3 4h6m-2-1h6m-1 3h6m-2 3h6m-3-8h6m-6 0h6m1 3h6m-5 3h6m-704 7h6m-3-3h6m-2 7h6m7 1h6m-6-5h6m-3-1h6m133 0h6m162 0h6m-3 4h6m-4 0h6m0-5h6m-5 1h6m310 4h6m-6-4h6m-2 4h6m-5 1h6m-5-2h6m7 3h6m3-4h6m-4 2h6m-676 6h6m2 2h6m628-1h6m-1 6h6m-3-1h6"/><path d="M227.62,568.19 L234.26,568.86 L237.8,570.86 L240.02,585.53 L241.12,605.53 L242.56,607.75 L244.22,608.64 L244.22,554.41 L234.26,558.86Z" fill="url(#bg1)"/></g>
<rect x="201.4" y="523.3" width="110.7" height="88.9" fill="none" stroke="#555" stroke-width="0.7"/>
<line x1="201.4" y1="523.3" x2="202.6" y2="523.3" stroke="#555" stroke-width="0.5"/>
<line x1="201.4" y1="532.19" x2="202.2" y2="532.19" stroke="#555" stroke-width="0.5"/>
<line x1="201.4" y1="541.08" x2="202.6" y2="541.08" stroke="#555" stroke-width="0.5"/>
<line x1="201.4" y1="549.97" x2="202.2" y2="549.97" stroke="#555" stroke-width="0.5"/>
<line x1="201.4" y1="558.86" x2="202.6" y2="558.86" stroke="#555" stroke-width="0.5"/>
<line x1="201.4" y1="567.75" x2="202.2" y2="567.75" stroke="#555" stroke-width="0.5"/>
<line x1="201.4" y1="576.64" x2="202.6" y2="576.64" stroke="#555" stroke-width="0.5"/>
<line x1="201.4" y1="585.53" x2="202.2" y2="585.53" stroke="#555" stroke-width="0.5"/>
<line x1="201.4" y1="594.42" x2="202.6" y2="594.42" stroke="#555" stroke-width="0.5"/>
<line x1="201.4" y1="603.31" x2="202.2" y2="603.31" stroke="#555" stroke-width="0.5"/>
<line x1="201.4" y1="612.2" x2="202.6" y2="612.2" stroke="#555" stroke-width="0.5"/>
<line x1="201.4" y1="612.2" x2="201.4" y2="611" stroke="#555" stroke-width="0.5"/>
<line x1="212.47" y1="612.2" x2="212.47" y2="611.4" stroke="#555" stroke-width="0.5"/>
<line x1="223.54" y1="612.2" x2="223.54" y2="611" stroke="#555" stroke-width="0.5"/>
<line x1="234.61" y1="612.2" x2="234.61" y2="611.4" stroke="#555" stroke-width="0.5"/>
<line x1="245.68" y1="612.2" x2="245.68" y2="611" stroke="#555" stroke-width="0.5"/>
<line x1="256.75" y1="612.2" x2="256.75" y2="611.4" stroke="#555" stroke-width="0.5"/>
<line x1="267.82" y1="612.2" x2="267.82" y2="611" stroke="#555" stroke-width="0.5"/>
<line x1="278.89" y1="612.2" x2="278.89" y2="611.4" stroke="#555" stroke-width="0.5"/>
<line x1="289.96" y1="612.2" x2="289.96" y2="611" stroke="#555" stroke-width="0.5"/>
<line x1="301.03" y1="612.2" x2="301.03" y2="611.4" stroke="#555" stroke-width="0.5"/>
<line x1="312.1" y1="612.2" x2="312.1" y2="611" stroke="#555" stroke-width="0.5"/>
<text x="200.8" y="525.9" font-size="7.3" text-anchor="end" textLength="13.9" lengthAdjust="spacingAndGlyphs">2.00</text>
<text x="200.8" y="543.68" font-size="7.3" text-anchor="end" textLength="13.9" lengthAdjust="spacingAndGlyphs">1.60</text>
<text x="200.8" y="561.46" font-size="7.3" text-anchor="end" textLength="13.9" lengthAdjust="spacingAndGlyphs">1.20</text>
<text x="200.8" y="579.24" font-size="7.3" text-anchor="end" textLength="13.9" lengthAdjust="spacingAndGlyphs">0.80</text>
<text x="200.8" y="597.02" font-size="7.3" text-anchor="end" textLength="13.9" lengthAdjust="spacingAndGlyphs">0.40</text>
<text x="200.8" y="614.8" font-size="7.3" text-anchor="end" textLength="13.9" lengthAdjust="spacingAndGlyphs">0.00</text>
<text x="183.8" y="567.75" font-size="7.4" text-anchor="middle" textLength="54" lengthAdjust="spacingAndGlyphs" transform="rotate(-90 183.8 567.75)">RDG (arb.units)</text>
<text x="206.5" y="613.5" font-size="7.7" text-anchor="end" textLength="16.2" lengthAdjust="spacingAndGlyphs" transform="rotate(-90 206.5 613.5)">-0.05</text>
<text x="226.9" y="613.5" font-size="7.7" text-anchor="end" textLength="16.2" lengthAdjust="spacingAndGlyphs" transform="rotate(-90 226.9 613.5)">-0.03</text>
<text x="248.7" y="613.5" font-size="7.7" text-anchor="end" textLength="16.2" lengthAdjust="spacingAndGlyphs" transform="rotate(-90 248.7 613.5)">-0.01</text>
<text x="269.7" y="613.5" font-size="7.7" text-anchor="end" textLength="13.4" lengthAdjust="spacingAndGlyphs" transform="rotate(-90 269.7 613.5)">0.01</text>
<text x="291.7" y="613.5" font-size="7.7" text-anchor="end" textLength="13.4" lengthAdjust="spacingAndGlyphs" transform="rotate(-90 291.7 613.5)">0.03</text>
<text x="312.7" y="613.5" font-size="7.7" text-anchor="end" textLength="13.4" lengthAdjust="spacingAndGlyphs" transform="rotate(-90 312.7 613.5)">0.05</text>
<text x="258.9" y="641.4" font-size="7.5" text-anchor="middle" textLength="73.5" lengthAdjust="spacingAndGlyphs">sign(λ<tspan font-size="5.5" dy="1.5">2</tspan><tspan dy="-1.5">)ρ (arb.units)</tspan></text>
<text x="254.4" y="658" font-size="10" text-anchor="middle" font-weight="normal" fill="#111" textLength="57" lengthAdjust="spacingAndGlyphs" stroke="#111" stroke-width="0.28"><tspan font-style="italic">cis-cis</tspan>-TWG1</text>
<rect x="315.2" y="523.4" width="5.5" height="88.6" fill="url(#cb1)"/>
<text x="321.3" y="533.9" font-size="7.3" textLength="18.2" lengthAdjust="spacingAndGlyphs">0.015</text>
<text x="321.3" y="549.65" font-size="7.3" textLength="18.2" lengthAdjust="spacingAndGlyphs">0.005</text>
<text x="321.3" y="565.4" font-size="7.3" textLength="20.8" lengthAdjust="spacingAndGlyphs">-0.005</text>
<text x="321.3" y="581.15" font-size="7.3" textLength="20.8" lengthAdjust="spacingAndGlyphs">-0.015</text>
<text x="321.3" y="596.9" font-size="7.3" textLength="20.8" lengthAdjust="spacingAndGlyphs">-0.025</text>
<text x="321.3" y="612.65" font-size="7.3" textLength="20.8" lengthAdjust="spacingAndGlyphs">-0.035</text>
<polyline points="244.4,607.2 256.7,564.4 270.3,607.2" stroke="#111" stroke-width="0.9" fill="none"/>
<polyline points="246.6,604.7 256.7,588.6 267.7,604.7" stroke="#111" stroke-width="0.9" fill="none"/>
<polyline points="247.5,599 256.7,604.6 266,599" stroke="#111" stroke-width="0.9" fill="none"/>
<polyline points="278.7,605.5 288.9,583.5 300.8,605.5" stroke="#111" stroke-width="0.9" fill="none"/>
<text x="254.2" y="563.3" font-size="8.2" text-anchor="middle" textLength="28.8" lengthAdjust="spacingAndGlyphs">C-H···π</text>
<text x="290.1" y="571.2" font-size="8.2" text-anchor="middle" textLength="33.8" lengthAdjust="spacingAndGlyphs">Intra-ring</text>
<text x="290.2" y="579" font-size="8.2" text-anchor="middle" textLength="43.2" lengthAdjust="spacingAndGlyphs">nonbonding</text>
<text x="255.9" y="587.8" font-size="8.2" text-anchor="middle" textLength="39" lengthAdjust="spacingAndGlyphs">Δ-stacking</text>
<text x="256.3" y="610.7" font-size="8.2" text-anchor="middle" textLength="19.4" lengthAdjust="spacingAndGlyphs">H···H</text>
<g clip-path="url(#cp2)"><path d="M418.34,523.42 L418.06,524.31 L417.76,525.19 L417.45,526.05 L417.14,526.91 L416.82,527.76 L416.48,528.6 L416.14,529.44 L415.79,530.26 L415.42,531.08 L415.05,531.89 L414.66,532.69 L414.26,533.48 L413.85,534.26 L413.42,535.04 L412.99,535.81 L412.54,536.57 L412.07,537.33 L411.6,538.07 L411.11,538.81 L410.6,539.54 L410.08,540.27 L409.54,540.99 L408.98,541.7 L408.41,542.4 L407.82,543.1 L407.22,543.79 L406.59,544.47 L405.95,545.14 L405.29,545.81 L404.6,546.48 L403.9,547.13 L403.17,547.78 L402.42,548.42 L401.65,549.06 L400.86,549.69 L400.04,550.32 L399.2,550.93 L398.33,551.55 L397.44,552.15 L396.52,552.75 L395.57,553.34 L394.59,553.93 L393.58,554.51 L392.54,555.09 L391.47,555.66 L390.37,556.23 L389.23,556.78 L388.06,557.34 L386.85,557.89 L385.61,558.43 L384.33,558.97 L383.01,559.5 L381.65,560.03 L380.25,560.55 L378.8,561.06 L377.32,561.57 L375.78,562.08 L374.2,562.58 L372.58,563.08 L370.9,563.57 L370.9,578.1 L374.26,577.39 L377.42,576.67 L380.39,575.93 L383.19,575.18 L385.82,574.42 L388.3,573.63 L390.63,572.84 L392.82,572.02 L394.89,571.19 L396.83,570.34 L398.66,569.48 L400.38,568.6 L402,567.7 L403.52,566.78 L404.95,565.85 L406.3,564.91 L407.57,563.94 L408.76,562.97 L409.89,561.98 L410.94,560.97 L411.94,559.96 L412.87,558.94 L413.76,557.91 L414.58,556.88 L415.36,555.85 L416.1,554.81 L416.79,553.78 L417.44,552.75 L418.05,551.73 L418.63,550.72 L419.17,549.72 L419.68,548.72 L420.16,547.75 L420.61,546.78 L421.03,545.83 L421.43,544.89 L421.81,543.96 L422.16,543.05 L422.49,542.15 L422.81,541.25 L423.1,540.37 L423.38,539.5 L423.64,538.63 L423.88,537.76 L424.12,536.9 L424.33,536.03 L424.54,535.17 L424.73,534.29 L424.91,533.41 L425.08,532.52 L425.24,531.62 L425.39,530.7 L425.54,529.76 L425.67,528.81 L425.79,527.83 L425.91,526.83 L426.02,525.81 L426.13,524.76 L426.23,523.68 L426.25,523.4Z" fill="url(#bg2)"/><path d="M434.44,523.42 L434.68,524.48 L434.94,525.53 L435.2,526.56 L435.46,527.58 L435.74,528.59 L436.03,529.59 L436.33,530.57 L436.64,531.54 L436.97,532.5 L437.3,533.45 L437.65,534.39 L438.01,535.32 L438.38,536.24 L438.76,537.14 L439.16,538.04 L439.58,538.92 L440.01,539.8 L440.45,540.66 L440.91,541.51 L441.39,542.36 L441.89,543.19 L442.4,544.01 L442.93,544.83 L443.48,545.63 L444.05,546.43 L444.65,547.21 L445.26,547.99 L445.9,548.75 L446.56,549.51 L447.24,550.26 L447.95,551 L448.68,551.73 L449.44,552.45 L450.23,553.16 L451.05,553.87 L451.9,554.57 L452.78,555.25 L453.69,555.93 L454.63,556.61 L455.61,557.27 L456.62,557.93 L457.67,558.58 L458.76,559.22 L459.89,559.85 L461.06,560.47 L462.27,561.09 L463.53,561.7 L464.83,562.31 L466.18,562.9 L467.58,563.49 L469.03,564.08 L470.53,564.65 L472.09,565.22 L473.7,565.78 L475.38,566.34 L477.11,566.89 L478.91,567.43 L480.77,567.96 L482.7,568.49 L484.7,569.02 L484.7,582.33 L481.27,581.7 L478.05,581.05 L475.02,580.39 L472.17,579.72 L469.5,579.03 L466.99,578.33 L464.62,577.61 L462.41,576.88 L460.32,576.13 L458.36,575.37 L456.52,574.59 L454.79,573.8 L453.16,572.99 L451.63,572.16 L450.2,571.32 L448.85,570.47 L447.58,569.6 L446.39,568.72 L445.27,567.83 L444.21,566.92 L443.22,566.01 L442.29,565.09 L441.42,564.17 L440.6,563.25 L439.83,562.32 L439.1,561.39 L438.42,560.47 L437.78,559.55 L437.18,558.64 L436.61,557.74 L436.08,556.85 L435.58,555.97 L435.12,555.1 L434.67,554.24 L434.26,553.39 L433.87,552.56 L433.5,551.74 L433.16,550.93 L432.84,550.13 L432.53,549.34 L432.25,548.55 L431.98,547.77 L431.73,547 L431.49,546.22 L431.27,545.45 L431.06,544.67 L430.86,543.89 L430.68,543.1 L430.51,542.3 L430.34,541.49 L430.19,540.66 L430.05,539.82 L429.91,538.96 L429.78,538.08 L429.66,537.18 L429.55,536.26 L429.45,535.31 L429.35,534.33 L429.25,533.33 L429.17,532.29 L429.17,523.4Z" fill="url(#bg2)"/><g mask="url(#mk2)"><path d="M413.92,559.08 L414.14,590.3 L423.25,592.53 L425.87,541.24 L425.87,523.4 L420.97,523.4Z" fill="url(#bg2)"/><path d="M429.28,523.4 L429.28,541.24 L432.35,592.53 L437.81,594.76 L442.59,594.76 L461.94,593.87 L484.7,594.76 L484.7,581.38 L441.46,554.62 L434.63,523.4Z" fill="url(#bg2)"/></g><path transform="scale(.1)" stroke="url(#bg2d)" stroke-width="6" fill="none" d="M4140 5623h6m-29 9h6m-2 2h6m-3-6h6m-4 1h6m1 5h6m-4-8h6m-34 16h6m1 2h6m-1-5h6m-4-2h6m-3 1h6m-2-1h6m-5 3h6m-4 1h6m-1 3h6m-49 11h6m-4-2h6m-4 0h6m-5-7h6m-6 4h6m-2-4h6m4 4h6m1 5h6m-5-4h6m-5-4h6m-4 2h6m-2-2h6m-3 7h6m-6 1h6m-2-7h6m-6 2h6m-1 4h6m-5-2h6m-65 8h6m-1 1h6m-3-4h6m-2 0h6m-5 4h6m-4 3h6m-5-8h6m-6 7h6m-4-5h6m-6 3h6m0 2h6m-6-5h6m-2 4h6m-4-3h6m-4 4h6m-2-1h6m-5-1h6m-4-5h6m-5 4h6m-5 3h6m-5-6h6m-6 6h6m-4 0h6m-5-8h6m-4 2h6m-6 3h6m-5 0h6m-6 4h6m0-4h6m-80 12h6m-4 2h6m6 1h6m-6-3h6m-3 0h6m-4-1h6m-2 4h6m-5-2h6m-4 0h6m-6-3h6m-5 3h6m0-6h6m-6-2h6m-5 5h6m-4-2h6m-6-2h6m-1 2h6m-4 3h6m-5-1h6m-3-1h6m-3 4h6m-6-8h6m-1 8h6m-5 2h6m3-3h6m-4 3h6m-6-3h6m-5-1h6m-6-4h6m1 6h6m-6-7h6m-84 14h6m-4-3h6m0 6h6m-4-5h6m-6 0h6m-4 3h6m-4 3h6m-1-7h6m-5-1h6m-4 2h6m-5-2h6m1-1h6m-2 6h6m-5 0h6m-3-2h6m4-1h6m-5-3h6m-5 3h6m-3-1h6m-5 7h6m2-4h6m-5-1h6m-6-4h6m1 4h6m-5-1h6m-3 7h6m-6-8h6m-3 7h6m-6-1h6m-6-6h6m-3 5h6m-4-5h6m-123 17h6m35-3h6m-2 2h6m-3-6h6m-5 6h6m-2-7h6m-6-1h6m-4 5h6m-5-3h6m-3 2h6m-4 3h6m-6 0h6m-6-3h6m-4 3h6m-2 2h6m-1-3h6m-6 3h6m-3-2h6m-4 0h6m-4 0h6m-4-3h6m-6 2h6m-4-5h6m-2 7h6m0-5h6m-6-3h6m-6 6h6m-2-5h6m-4 7h6m4-6h6m-6 4h6m-5-2h6m-6-3h6m-4 4h6m-5-3h6m-4 6h6m-140 4h6m22-2h6m0 7h6m0-5h6m-2 2h6m15 5h6m-1-4h6m-3-1h6m-5 1h6m-3 2h6m-6 0h6m-5-4h6m-2 5h6m-5-8h6m-2 5h6m-5 0h6m-5-5h6m-4 9h6m-5-8h6m-3 5h6m-5 1h6m-3-1h6m1-5h6m-3 6h6m-2-5h6m-6 7h6m-5-6h6m-2 2h6m-6-1h6m-4 1h6m2 2h6m-5-2h6m-2 2h6m-5-5h6m-4 8h6m-6-10h6m-189 19h6m11-5h6m27 1h6m51-3h6m0 4h6m-3-1h6m-2-1h6m-5-3h6m-6 3h6m-6 6h6m-5-2h6m-2-8h6m-5 9h6m-3-7h6m-2 7h6m-5-2h6m-2-1h6m-6-5h6m-3 9h6m-4-3h6m-1-6h6m-4 8h6m1-7h6m-6 2h6m-5 1h6m-4 5h6m-3-9h6m-4 1h6m-3 8h6m-1-9h6m-2 4h6m-4 5h6m-4-1h6m5-9h6m8 6h6m2-2h6m0 2h6m-234 11h6m35 1h6m15-4h6m7 0h6m8 5h6m8-8h6m19-1h6m-3 1h6m0-1h6m-2 3h6m-6-1h6m-2 3h6m-6-1h6m-4 3h6m-4-1h6m-6-4h6m-2 4h6m-6-5h6m-3 7h6m-5-2h6m-2 3h6m-4-8h6m-6 4h6m-3 2h6m-1 3h6m-2-3h6m-4-3h6m2 3h6m-5-5h6m-3 0h6m-5 7h6m17-8h6m-2 8h6m3-1h6m-5-2h6m-6 3h6m10-2h6m0-3h6m-5 4h6m-2-4h6m-1 0h6m20 5h6m-299 3h6m5 1h6m-1 6h6m2-3h6m6 2h6m0-8h6m2 4h6m25 2h6m41 3h6m-4-2h6m-2-1h6m-3 4h6m-3-6h6m-3 6h6m-4-8h6m-3 4h6m-6 0h6m-5-3h6m-6 0h6m-2 6h6m-6-3h6m-3 3h6m-2-5h6m-6 3h6m-5-1h6m-4-2h6m7 3h6m-6-4h6m-4 5h6m-3-2h6m-3-1h6m-6 3h6m1 1h6m1-3h6m-6-3h6m7-2h6m-2 6h6m-3-4h6m1-2h6m11 8h6m-3-1h6m26-2h6m-5 4h6m19-3h6m-1-6h6m-4 1h6m-5 8h6m-4-8h6m-333 16h6m-6-6h6m7-1h6m40 4h6m3-2h6m-6-2h6m10 2h6m12 5h6m-1-4h6m-5-1h6m-4 3h6m-2-4h6m-3 5h6m12-4h6m-3 4h6m4-2h6m-4-3h6m-6-2h6m-4 5h6m-3 2h6m-5-6h6m-4 5h6m-3-4h6m-4 5h6m-1-2h6m-5 3h6m-3-8h6m-5 2h6m1-1h6m-5 4h6m-6 3h6m-4-7h6m1 7h6m2-6h6m-3 1h6m-3 0h6m-4 3h6m13-2h6m-3 6h6m13-9h6m-2 7h6m-1-2h6m-1-1h6m-1 3h6m-5-2h6m-5-4h6m-5 1h6m0 6h6m-3-4h6m4 1h6m-4-3h6m-1 1h6m-2 4h6m-4 1h6m-6-4h6m10-2h6m-316 13h6m30-1h6m13-3h6m-3 2h6m16 0h6m-4 1h6m3-1h6m20-3h6m3-1h6m-5 7h6m5 0h6m-4-6h6m-5 0h6m-4 6h6m-5-5h6m-2 0h6m-4 0h6m-5 0h6m-1 8h6m-5-9h6m-2 7h6m-3-2h6m-6 2h6m-1-7h6m-5 0h6m-5 9h6m-5-9h6m-6 0h6m-6-1h6m-2 2h6m0 3h6m-6-4h6m-5 8h6m0-6h6m-6 3h6m-5-5h6m-5 5h6m-5 0h6m-4 1h6m-2-1h6m-6-4h6m9 0h6m-5 6h6m-5-1h6m-6-6h6m7 3h6m-2-3h6m9 1h6m-6 7h6m-3-7h6m-6 3h6m3-1h6m-1 6h6m1-4h6m21 3h6m-4-2h6m6-7h6m-5 5h6m-4-3h6m-6-1h6m-3 6h6m48-5h6m1 4h6m-2-2h6m-383 8h6m14 0h6m8 3h6m-3 2h6m-2-2h6m-3-4h6m21 6h6m9-5h6m-4 1h6m3 3h6m29-6h6m-2 6h6m4 2h6m-4-7h6m-1-1h6m-3 6h6m-2-5h6m-5 7h6m-2 1h6m-5-5h6m-4 0h6m-2 1h6m-6 3h6m-5-8h6m-4 8h6m-3-1h6m-5-1h6m-3-1h6m-4 1h6m-3 0h6m-5 2h6m-4-2h6m-1 2h6m-5 2h6m-5-1h6m-2-3h6m-5 0h6m-4 2h6m0-7h6m-5 6h6m0-2h6m-1 5h6m4-9h6m1 2h6m-3-1h6m-5 3h6m10 2h6m6-2h6m-3-3h6m-6-2h6m-6 5h6m3-4h6m10 4h6m64-1h6m-374 15h6m8 1h6m23-4h6m2-2h6m41 5h6m2-3h6m4 0h6m12-4h6m-5-1h6m-5 3h6m2 4h6m-5-3h6m-3-4h6m-5 4h6m-3 5h6m-4-6h6m-5 4h6m-5-5h6m-4 0h6m11 3h6m8 3h6m-5-2h6m-6-3h6m-5-2h6m-3 0h6m-4 3h6m2 4h6m1 0h6m-5-9h6m-5 4h6m0 3h6m1-1h6m-5 1h6m2 1h6m-5-3h6m-5-5h6m0 7h6m-5 1h6m-4-6h6m-2 1h6m4 5h6m-5-3h6m18-1h6m-4 4h6m7 0h6m-5-2h6m56-1h6m2-2h6m-4 7h6m13-6h6m-360 7h6m2 0h6m0 7h6m-3 2h6m10-1h6m39-6h6m4 7h6m3-6h6m-5-4h6m-3 10h6m-5-10h6m-4 9h6m1-3h6m-5 2h6m0 1h6m-5 0h6m-1-9h6m1 9h6m-1-5h6m-6 0h6m7 6h6m-5-9h6m-5 8h6m-5-4h6m-3-2h6m-5 3h6m-6-3h6m-3 2h6m11-3h6m5 6h6m-3-5h6m-5 1h6m-1 5h6m-6-7h6m0 3h6m-4-4h6m-4 7h6m16-6h6m7 4h6m10-2h6m65 1h6m0-2h6m-4 0h6m-1 0h6m6 1h6m-3 4h6m-2-8h6m-393 11h6m-2 2h6m32-2h6m25 1h6m2 1h6m12 6h6m-3-7h6m1 6h6m13-5h6m-4 3h6m-6-5h6m-3 1h6m-2 2h6m-6-3h6m-5 7h6m-5 0h6m-3-6h6m-3 0h6m-5 2h6m-6 1h6m-6 3h6m-5-4h6m-6-3h6m-4 7h6m-5 2h6m-4-3h6m-6 1h6m-3 0h6m-4 0h6m3-4h6m-5-1h6m-6 1h6m-2-1h6m2-1h6m9 1h6m4 1h6m4 1h6m-2 1h6m-1-2h6m-6-1h6m0 6h6m17-8h6m-4 1h6m13 2h6m0 0h6m0-4h6m-2 0h6m-3 4h6m61-3h6m14 0h6m-3 5h6m-2 0h6m6 0h6m-4-3h6m-410 7h6m-5 0h6m7 10h6m6-5h6m6 4h6m24-5h6m20-1h6m-1-2h6m-5 6h6m8 3h6m-1-2h6m5 2h6m-2-4h6m-4 3h6m-4-2h6m-4-2h6m-1-4h6m-4 0h6m0 6h6m-4-2h6m-5-1h6m-2-3h6m-6 8h6m-2-7h6m9 8h6m2-1h6m2-8h6m-5 0h6m0 3h6m0 6h6m0-10h6m-5 9h6m-5-7h6m-4-1h6m1 0h6m129 7h6m13-8h6m0 7h6m0-2h6m2-2h6m3 3h6m-6 1h6m-411 5h6m6 8h6m-4 0h6m24-9h6m-5 9h6m-4-8h6m-4 3h6m-6-4h6m-5-1h6m17 3h6m9 7h6m16-5h6m-4 1h6m17 1h6m-5-5h6m-5 2h6m-6 0h6m-5 1h6m-5-2h6m-3 5h6m-1-7h6m-5 6h6m-5-3h6m-6-1h6m-3 2h6m-5-5h6m-3 5h6m-5 0h6m-6-3h6m-6 4h6m-6 0h6m-2-5h6m0 1h6m-4 2h6m-6 3h6m-3-4h6m-3 2h6m-6 2h6m-5-1h6m-5-3h6m-6 6h6m-5-2h6m2 0h6m-5-5h6m5-1h6m-3 7h6m40-1h6m24-2h6m80-4h6m17 8h6m-333 3h6m8 7h6m-3-6h6m1 2h6m-5 3h6m0-7h6m33 0h6m0 9h6m-5-8h6m-2 6h6m1-3h6m-4-5h6m-4 5h6m-5 5h6m-4-2h6m1-5h6m-4 7h6m-3-6h6m-6-2h6m-5 6h6m-5 0h6m0-8h6m-3 3h6m-5 0h6m-5-1h6m-6 4h6m-3-4h6m-3-1h6m-6 7h6m15-7h6m10 1h6m1 7h6m11-3h6m-2-1h6m5-2h6m-3-1h6m-2 5h6m12-3h6m68-3h6m19 9h6m0-2h6m3-5h6m12 0h6m-2 3h6m2-1h6m-3-2h6m5 5h6m30 1h6m-470 2h6m-2 9h6m61-8h6m1 7h6m-6-2h6m-1-3h6m19-2h6m0-2h6m0 6h6m-2 2h6m-3-4h6m-5 2h6m-3 2h6m-4-5h6m-6 0h6m-3 2h6m-2-2h6m-6-2h6m-3 0h6m-3-1h6m-1 2h6m-4 3h6m0-2h6m-2-1h6m-5 0h6m-3 2h6m8 4h6m-4-1h6m-1-3h6m-4 6h6m3-4h6m0 0h6m11 4h6m26-9h6m-6 5h6m8 4h6m3-1h6m66-4h6m7-4h6m16 0h6m-5 8h6m-4-6h6m14 0h6m-5 1h6m-5 1h6m-6 5h6m10-4h6m3 1h6m20-2h6m-1 2h6m-2 3h6m-3-1h6m-5 1h6m8-9h6m-1 7h6m-1-1h6m-5 2h6m-5-1h6m-6-5h6m13 5h6m3-4h6m-4 4h6m1-4h6m-5 4h6m-2-1h6m-5 3h6m-3-2h6m21-2h6m-584 11h6m11 1h6m16-1h6m0-5h6m4 2h6m-1-1h6m8-2h6m24 8h6m-1 0h6m-3-6h6m4 3h6m-4-6h6m-4 6h6m-3 2h6m-6-2h6m-4 4h6m-3-8h6m-6-1h6m-5 0h6m0 4h6m-6-3h6m-5 4h6m-5-1h6m-5-3h6m-4 7h6m-4-8h6m-3 9h6m-4-9h6m-1 0h6m-5 7h6m-6 2h6m-3-7h6m-4 5h6m-6-6h6m-3 1h6m-3 1h6m-5 0h6m-6 5h6m-6-5h6m-4-3h6m-5 5h6m-6-2h6m-5 3h6m-4-5h6m-6 6h6m6-1h6m12-7h6m-2 8h6m-1-2h6m3-3h6m3 4h6m5-2h6m2-4h6m8 0h6m3 5h6m77 2h6m28-4h6m-3 5h6m9-7h6m-1 1h6m-6 2h6m-6-5h6m5 8h6m5 1h6m3-1h6m-5 1h6m-5-3h6m0-6h6m-3 10h6m-6 0h6m12-8h6m10 7h6m-4-5h6m7 2h6m-4 1h6m14-3h6m2 5h6m-4-1h6m-1-7h6m-6 4h6m16-5h6m1 5h6m-2 0h6m6 4h6m13-1h6m-1-5h6m9 0h6m-5 4h6m10 1h6m-6-6h6m6 4h6m-6 1h6m2-1h6m1 0h6m-1 0h6m-681 13h6m9-2h6m1 2h6m-3-9h6m-4 8h6m5-4h6m-1 4h6m-2-6h6m4-1h6m19 5h6m14-4h6m-4 3h6m-6-2h6m10 6h6m-3-4h6m-4 1h6m-6 1h6m-5 0h6m8-6h6m-5-1h6m-3 1h6m-6 2h6m-3 1h6m-5 1h6m-2-3h6m-3 7h6m-3-6h6m-2 6h6m-5-1h6m-3-6h6m-3 4h6m-6 0h6m-4-1h6m-6-4h6m3 4h6m-4-1h6m8 0h6m8 4h6m-2-8h6m-5 1h6m4 3h6m-5 5h6m12-7h6m8 4h6m2-4h6m1 0h6m-3 6h6m77-6h6m-4 6h6m-5-8h6m3 6h6m3-1h6m6-4h6m14 6h6m-5-4h6m-3 2h6m-3-3h6m-6 8h6m-3-9h6m-5 9h6m7-10h6m33 3h6m24 6h6m-1-8h6m-2 2h6m-4-2h6m-4 3h6m-3-3h6m-4 2h6m4 6h6m0-1h6m1-7h6m-5 6h6m29-1h6m0 1h6m-3-1h6m10-6h6m-5 8h6m-6 0h6m6-3h6m-4 4h6m16-6h6m19 2h6m8-2h6m2-2h6m14 3h6m1-1h6m-3 2h6m62 3h6m-4-2h6m-4 3h6m32 0h6m-805 10h6m14-1h6m-4-3h6m42 0h6m11 4h6m-3-9h6m-5 8h6m-3-1h6m-1-6h6m5 6h6m-4-3h6m-5 5h6m-5 1h6m-5-7h6m1 5h6m-6-8h6m-4 7h6m-5-1h6m-4 3h6m-6-1h6m-5-7h6m-6 6h6m-2 0h6m-5-1h6m-6 3h6m1-7h6m26 7h6m-3-6h6m29-1h6m0 3h6m6 2h6m-3-5h6m95 4h6m16 1h6m5-7h6m14 10h6m-5-4h6m21-6h6m-2 4h6m17 2h6m-6 0h6m29-5h6m11 3h6m2-1h6m-5 0h6m2 1h6m3 0h6m-2 3h6m-4-2h6m-1 2h6m14-7h6m20 4h6m0 4h6m7-1h6m4-4h6m-4 3h6m-4 3h6m6-6h6m8 0h6m2 2h6m-2 1h6m28-2h6m-2 4h6m3-4h6m29-2h6m-3 4h6m4-4h6m4 6h6m3-7h6m-5-1h6m9 9h6m1-9h6m17 0h6m-1 2h6m-3 6h6m-2-2h6m-1 0h6m-848 8h6m-6 5h6m-1 0h6m-1-1h6m-6-4h6m-5 5h6m12-1h6m1-4h6m1-2h6m13 7h6m13-1h6m24-7h6m-4 7h6m-5 0h6m-5-7h6m-5 7h6m2-1h6m-5-4h6m-5-3h6m-5 3h6m-3-1h6m-5 5h6m-5 1h6m-4-4h6m-6 5h6m-2 1h6m-5-2h6m-4-1h6m-5-1h6m-5 1h6m-5-1h6m0-1h6m-5 0h6m-5-3h6m-6-1h6m-4 1h6m-2 0h6m-4 2h6m-6 5h6m-5 1h6m-5-8h6m-6 4h6m-3 4h6m-2-4h6m2-3h6m17-1h6m0-1h6m3 4h6m1-3h6m0 7h6m14-8h6m82 0h6m14 8h6m5 0h6m-6-4h6m-3 4h6m-2-3h6m13-4h6m2-1h6m10 3h6m2 2h6m0 1h6m5 1h6m6 0h6m-1 0h6m18-3h6m-5-1h6m25-1h6m1 2h6m5 4h6m-4-4h6m15 3h6m8-2h6m1-3h6m-2 2h6m0-1h6m12-4h6m1 7h6m15-1h6m14-5h6m-2 8h6m-1-8h6m-1 8h6m9-1h6m8-4h6m5 3h6m12-2h6m40 0h6m11 2h6m-1-2h6m-2 1h6m-4-4h6m5 4h6m14-6h6m3 4h6m2 3h6m-5-3h6m-2 3h6m11-1h6m-877 6h6m8 7h6m2-6h6m32-3h6m-2 10h6m17-2h6m-6-6h6m24 3h6m-1-1h6m-6 4h6m-3-5h6m-5 0h6m-4 0h6m-6-2h6m-3 4h6m-5-1h6m-4 3h6m-5-5h6m-4 1h6m-6 3h6m-5-2h6m-4 1h6m-2-3h6m-4 8h6m-5-2h6m1 0h6m-3-8h6m-3 6h6m-6-5h6m11 7h6m8-7h6m0 3h6m1 1h6m-4-2h6m-2 3h6m-4-1h6m26 1h6m-4-2h6m-5 6h6m-4-7h6m-6 5h6m2 2h6m-1-4h6m71 4h6m4-3h6m2 3h6m46-9h6m16 8h6m25-1h6m22-1h6m0 2h6m2-5h6m1 2h6m3 2h6m21-3h6m18 1h6m-3-4h6m-2 3h6m0-2h6m11 3h6m2 0h6m15-4h6m17 3h6m-5-3h6m-5 4h6m6-5h6m4 0h6m9 1h6m4 7h6m16-7h6m5 5h6m-4 2h6m11-9h6m-3 1h6m0 2h6m9 5h6m-4-2h6m-3 4h6m3-5h6m-1-2h6m-1 3h6m21-5h6m10 8h6m-6-4h6m-2-2h6m-850 11h6m3 4h6m0-3h6m24 4h6m0-5h6m-4 0h6m-4 3h6m30-1h6m5 3h6m6-3h6m-5-2h6m2 5h6m-5-8h6m-6 7h6m-6-5h6m0-1h6m-6 1h6m-1 2h6m-5 4h6m-3-7h6m-5 1h6m-5 0h6m-5 1h6m-4 5h6m3-7h6m-4 6h6m-3-1h6m-6 0h6m-5-1h6m-2-5h6m2 4h6m-5-1h6m3 0h6m2 6h6m1-9h6m7 7h6m0-6h6m-3 4h6m-2 0h6m7-4h6m-3 6h6m-5-3h6m-3-4h6m0 1h6m86-1h6m-5 3h6m-4-3h6m7 7h6m33-5h6m15-1h6m-1 4h6m19-6h6m20 7h6m-3-7h6m0 5h6m41 4h6m-4 0h6m22-8h6m21 7h6m-4-3h6m1-1h6m4-2h6m-3 0h6m1 7h6m-5-5h6m-1-4h6m10 8h6m4 1h6m0-4h6m17-3h6m-1 1h6m4 0h6m16 4h6m2-3h6m-3-2h6m35 3h6m61-1h6m7 3h6m14-6h6m-857 10h6m-6 7h6m-3-6h6m-5-1h6m9 4h6m0 1h6m14-5h6m-4 5h6m41 3h6m-3-3h6m-2 3h6m1 0h6m2 1h6m-3-4h6m-3-1h6m-5 0h6m-5 0h6m-5-2h6m-3 3h6m-4-3h6m-5 0h6m-3 3h6m-6-1h6m0-2h6m-5 1h6m-4 1h6m5 1h6m-3-5h6m6 3h6m-4 3h6m1-1h6m-3 3h6m-2-6h6m1-1h6m-5 3h6m-3-4h6m-5 2h6m4 3h6m10 1h6m-2-5h6m-5-1h6m-2 6h6m-1-4h6m-5 4h6m-3-2h6m78 0h6m3-4h6m30 5h6m-1-2h6m1-2h6m9 6h6m-5-4h6m-4 5h6m3-5h6m15 0h6m4 1h6m8 2h6m13-4h6m8 0h6m18 3h6m-6-5h6m-4 4h6m20-2h6m-2 2h6m7 4h6m11-9h6m9 6h6m-2 3h6m5-2h6m13-6h6m11 8h6m12-7h6m-3 1h6m5 6h6m-1-9h6m1 5h6m1 1h6m0 1h6m9 0h6m4 0h6m-6-5h6m-3 7h6m-3-5h6m4 3h6m12 3h6m1-9h6m41 9h6m3-4h6m13-2h6m-847 13h6m-5-4h6m5-2h6m1 4h6m-5-4h6m10 7h6m1-1h6m6 0h6m26-1h6m-4 3h6m2-6h6m0 6h6m-5-5h6m-5 1h6m-4-3h6m-5 3h6m10 5h6m-2-8h6m-2 1h6m-6-2h6m-6 0h6m-5 4h6m-2-5h6m-5 2h6m-4 6h6m-5-4h6m3 5h6m5 1h6m-6-6h6m-5 4h6m3 1h6m2 0h6m9-9h6m31 8h6m-1 2h6m10-10h6m-4 1h6m67 5h6m0 1h6m-4 3h6m40-5h6m-6 4h6m18-8h6m-5 0h6m-1 8h6m6-1h6m-3-5h6m31-2h6m-2 0h6m5 1h6m29 2h6m0-3h6m28 4h6m21 2h6m-5-3h6m15-2h6m8 1h6m-3 4h6m-6-7h6m25 2h6m10 2h6m1 2h6m2 2h6m5 2h6m31-7h6m0 3h6m-3 3h6m8 1h6m10-5h6m14 2h6m1-2h6m14-2h6m-3 3h6m-2 2h6m-2-3h6m-2 4h6m10 0h6m-855 2h6m1 3h6m9-1h6m1 0h6m4-3h6m18 9h6m22-1h6m-5-2h6m-1 4h6m-4-3h6m8-4h6m-4-3h6m-6 7h6m-1 2h6m-5-7h6m-5 7h6m-1-8h6m-5-1h6m-3 1h6m-6 0h6m-5 5h6m-6-4h6m-1 6h6m-6 0h6m-4 2h6m-5-6h6m-6-2h6m-5 0h6m2 6h6m-1-4h6m-2-1h6m-5 0h6m1 3h6m-4-1h6m-3-4h6m4 6h6m8-4h6m-6 1h6m10-2h6m-4 2h6m-4-4h6m-6 8h6m-5-2h6m18 2h6m-2-6h6m-3 6h6m-5-4h6m122-3h6m24 8h6m-3 0h6m4-8h6m-3 4h6m19 5h6m-5-1h6m18-3h6m-1 0h6m4 2h6m-4-2h6m2-2h6m0-2h6m5 5h6m15 0h6m4-4h6m-4-3h6m-6 0h6m14 8h6m21-4h6m-2 3h6m-6-6h6m24 6h6m-4-6h6m-1-1h6m-6 7h6m31-4h6m-3-2h6m7 3h6m-5 4h6m-6-7h6m-4 3h6m15-4h6m4 2h6m2 4h6m16 0h6m19-3h6m21-1h6m-2 0h6m0 0h6m3 5h6m15-6h6m-828 15h6m1 4h6m8-7h6m20 5h6m-5-6h6m-5 4h6m6-3h6m3 7h6m-2-6h6m-5 3h6m0-5h6m1 4h6m-4 0h6m-6-4h6m-5-2h6m-5 2h6m-2 2h6m-3 2h6m-3-6h6m-5 8h6m-5 1h6m-2 1h6m-4-8h6m-5 5h6m-3-3h6m-1-2h6m-1 8h6m0-6h6m-5 1h6m-5 1h6m-3 0h6m6 2h6m14-3h6m9-3h6m-1-1h6m9 8h6m-4-7h6m-2-1h6m-4 3h6m-2-1h6m4 5h6m91-7h6m-6 2h6m-1-3h6m-2 6h6m3 0h6m-1 3h6m-4-8h6m-4 5h6m-1-6h6m-3 8h6m2-6h6m-2 5h6m-5-5h6m16 5h6m-4-7h6m-5 8h6m11-4h6m8 4h6m0-6h6m1 5h6m-3-2h6m4-1h6m8-2h6m12 8h6m-3-6h6m17-3h6m-5 3h6m0 4h6m-5-4h6m25 3h6m6-6h6m-4 0h6m23 2h6m2 5h6m4-2h6m-3-1h6m-5 1h6m14-3h6m20 4h6m-4 1h6m0-2h6m19-2h6m15 2h6m28-5h6m-2-1h6m9 6h6m-1-5h6m-6 6h6m10-6h6m18 6h6m19-7h6m-859 12h6m5 8h6m26-5h6m10 4h6m11-4h6m5-2h6m34-1h6m0 6h6m-6-1h6m-4-4h6m-4 6h6m-2-3h6m1-3h6m-6-2h6m3 1h6m-3-1h6m-3 2h6m13 3h6m-5 2h6m-3-2h6m-5-6h6m5 0h6m33 5h6m-2-1h6m-4-1h6m-4 6h6m-4-2h6m76 1h6m-3-1h6m-4-5h6m-5 2h6m22 1h6m-6 4h6m0-8h6m-5 0h6m26 5h6m10 1h6m-6-2h6m-1 5h6m6-4h6m46-5h6m5 1h6m4 2h6m-4-2h6m-2 3h6m-3 1h6m-2 1h6m9 0h6m-5 3h6m-3-9h6m-2 2h6m-3 6h6m0-1h6m-1-3h6m-4 0h6m22-2h6m-2 6h6m20-3h6m19-2h6m-1 2h6m3 0h6m2 4h6m-2-6h6m2-3h6m-6 6h6m-5 1h6m-1-4h6m-4 0h6m-1-4h6m7 7h6m12-7h6m4 1h6m10 2h6m11 1h6m6 1h6m7-1h6m2 1h6m4 0h6m-1-2h6m-3 6h6m-2-1h6m22 0h6m-5-2h6m-3-1h6m-848 7h6m9 1h6m37 5h6m7 1h6m48-1h6m-3 2h6m5-4h6m12 3h6m-2-2h6m3-1h6m10 2h6m-3 0h6m0 0h6m-5-6h6m-6 2h6m-5 0h6m3-1h6m-4-1h6m-6 0h6m-3 7h6m-6-2h6m13-3h6m83-4h6m0 3h6m-3 1h6m-3 6h6m3-4h6m9 2h6m-4-4h6m13 2h6m-4 3h6m23 1h6m16-9h6m9 2h6m-4-2h6m-5 7h6m-5 0h6m24 2h6m-3-10h6m4 4h6m12-3h6m-6 2h6m-5 3h6m27-2h6m14 2h6m6 0h6m0-1h6m-1 1h6m-6 2h6m0-7h6m-3-1h6m20 5h6m38 4h6m7-3h6m16 1h6m-2 2h6m32-2h6m-5 2h6m-5-5h6m-1-1h6m-1-1h6m-5 7h6m47 0h6m3-3h6m19 3h6m-821 9h6m6-2h6m-4 2h6m2-3h6m-4-2h6m22-2h6m-1 4h6m-5-2h6m39-1h6m-1 5h6m-2-5h6m13 5h6m4-2h6m-4-5h6m10 8h6m2-8h6m-3 6h6m0 3h6m2-8h6m3 6h6m11-2h6m88 0h6m8 1h6m1 0h6m2 1h6m4-6h6m-2 3h6m26-2h6m17-1h6m10 9h6m-4-1h6m5-4h6m9-2h6m-3-1h6m1 6h6m-1 1h6m10-7h6m3 3h6m-5 0h6m21-3h6m7-2h6m-3 7h6m-1-4h6m-6 0h6m8 3h6m-1-1h6m-3 3h6m-5 1h6m9 1h6m-5-8h6m29 6h6m6-4h6m2 6h6m-5-3h6m-2 2h6m-5-7h6m18-1h6m6 2h6m-2 3h6m1-1h6m15-4h6m-4 5h6m-3 2h6m-1-3h6m20 3h6m2-7h6m5 0h6m-5 7h6m-1-6h6m8 7h6m-4-5h6m-1-2h6m13 7h6m-5-8h6m5 4h6m-837 13h6m-3-1h6m5-3h6m13 1h6m-2-1h6m-1 2h6m20-4h6m-6-1h6m9 1h6m-4 7h6m16-4h6m13-4h6m-2 9h6m-4-3h6m-3 2h6m10-7h6m8 4h6m-6-5h6m-4 6h6m-4 0h6m-4 2h6m16-7h6m28 1h6m84-1h6m-4 8h6m3-6h6m0 3h6m-2 1h6m-6 0h6m5-2h6m5 1h6m35-3h6m0 3h6m3-3h6m4 1h6m5-5h6m3 6h6m-4-2h6m3-1h6m-4 0h6m2-1h6m5 4h6m-1-4h6m12 3h6m-1 1h6m-5 3h6m-1 0h6m15-1h6m-5 0h6m-1-7h6m2 4h6m0-3h6m20 4h6m-1 0h6m-6 3h6m22 0h6m2-4h6m-2 4h6m-3-1h6m-2-2h6m11-4h6m34 0h6m22 4h6m-1 2h6m10-8h6m-5 5h6m-4-1h6m46 6h6m15-6h6m-1 4h6m-815 7h6m-2-1h6m-1-4h6m-5 4h6m7 1h6m47 3h6m5-1h6m10-6h6m6 4h6m1-1h6m1 3h6m9-1h6m-5 4h6m3-5h6m-4-5h6m-5 10h6m24-3h6m-4-4h6m5 0h6m95-2h6m-1 5h6m-4-5h6m-3 7h6m21-3h6m-5 4h6m-6-1h6m3-4h6m-4 1h6m23 4h6m-6 1h6m-6-3h6m-4-6h6m1 8h6m13-3h6m11 3h6m-3-2h6m6-1h6m-4 3h6m2-8h6m-5 5h6m1-4h6m-5 6h6m0-1h6m1-7h6m16 3h6m-2 5h6m3-4h6m13-2h6m10 3h6m-3 4h6m-4-3h6m1-3h6m0 4h6m3-1h6m11-4h6m34 7h6m-6-1h6m7 2h6m-4-10h6m4 8h6m0-2h6m-6-3h6m-5 5h6m3-3h6m-4-3h6m4 3h6m6 3h6m10-2h6m-1 1h6m4-6h6m1 6h6m2-5h6m-2 4h6m38-6h6m6 8h6m20-5h6m-838 10h6m6 0h6m22 2h6m14 1h6m-3 4h6m5-5h6m33 1h6m-3-3h6m22 0h6m-2 7h6m-5-5h6m-2 5h6m4-2h6m2-2h6m-1-2h6m0 4h6m0-6h6m10 3h6m3 5h6m-6-7h6m104 1h6m-2 2h6m-3 0h6m1 1h6m23 0h6m-6-3h6m33 6h6m30-3h6m-2-1h6m-6-1h6m0-2h6m11 3h6m50-4h6m-3 2h6m-5-3h6m-1 9h6m6-7h6m3 2h6m-4-2h6m1 1h6m-3-3h6m-3 4h6m-2-4h6m-4 8h6m57-5h6m-4 6h6m2 0h6m43-4h6m0-2h6m19 5h6m6-4h6m10-1h6m29-2h6m6 2h6m18 3h6m-823 12h6m9-3h6m20 3h6m9-7h6m16 2h6m-2 3h6m9 0h6m-2 3h6m-5-4h6m13-3h6m-5 6h6m8-6h6m-4 4h6m6-4h6m1 0h6m27-3h6m-3 6h6m0-5h6m-3 8h6m0-4h6m-2 0h6m-1 0h6m76 1h6m1-4h6m-3 7h6m0 0h6m-5-6h6m-1 1h6m-3 0h6m5 5h6m-5-1h6m-6-3h6m44-4h6m-2 0h6m-5 2h6m-3-1h6m-5 4h6m-3-5h6m4 1h6m-3 2h6m2 2h6m8-3h6m-6 3h6m0-2h6m0-2h6m6-1h6m-1 8h6m-2-8h6m-4 8h6m8-1h6m7 1h6m8-4h6m13-4h6m-3 6h6m-5-6h6m15-1h6m2 8h6m-1-6h6m64-2h6m0 5h6m-1 1h6m2-5h6m13-1h6m-5 8h6m-4-5h6m5-2h6m0 4h6m-5 3h6m-6-4h6m10-1h6m-3-2h6m6 5h6m-3-2h6m-2 3h6m2-4h6m-5 3h6m4 1h6m0 1h6m3-7h6m47 1h6m-821 15h6m4-6h6m-4 2h6m1 3h6m36 3h6m10-4h6m-2 2h6m1 0h6m3-1h6m-4 3h6m1-5h6m8-1h6m15 1h6m-2 0h6m11 0h6m-4 6h6m24-5h6m-4 3h6m-5-5h6m-6-3h6m95 6h6m2-2h6m9 2h6m-4-5h6m2 1h6m-5 2h6m10 3h6m-2-6h6m18 8h6m11 0h6m7-9h6m-4 4h6m8 1h6m-6-2h6m1 3h6m-3-2h6m35 2h6m12-2h6m-2 1h6m-3 5h6m-6-10h6m-2 2h6m4 5h6m16-2h6m-3 2h6m2-3h6m-2 2h6m115 3h6m-5-3h6m0-3h6m-1 6h6m7-7h6m18 7h6m3-7h6m-1-2h6m22 0h6m10 9h6m13-2h6m2-4h6m-3 0h6m3 3h6m-4-2h6m-826 10h6m-3 5h6m5-5h6m9 2h6m-5 2h6m8-3h6m11 1h6m17-4h6m9 6h6m2 1h6m3-7h6m21 5h6m0 0h6m18-3h6m-2 0h6m7 3h6m3-3h6m0 6h6m-3-6h6m-2 2h6m81 2h6m-1-5h6m3-2h6m15 1h6m1 6h6m-3-5h6m31 2h6m10-5h6m2 6h6m24 1h6m0-1h6m15 2h6m21-2h6m-6-3h6m19 2h6m1-2h6m-6 4h6m1 2h6m9-5h6m152 5h6m5 0h6m2-2h6m35-7h6m0 4h6m9 1h6m10-4h6m-2 4h6m9 5h6m-798 3h6m-5 0h6m-1 3h6m0-5h6m6 8h6m4-7h6m3 2h6m17 3h6m-5 1h6m-4-6h6m1 4h6m11 1h6m7 0h6m7-2h6m5-3h6m6 2h6m6 6h6m4-2h6m4-6h6m-4-1h6m-2 0h6m97 8h6m30-2h6m-1-4h6m31-2h6m0 6h6m-4-1h6m0-4h6m-4 1h6m-3 3h6m20 0h6m7-2h6m12-2h6m48 6h6m137-7h6m-3 9h6m0-7h6m20 3h6m-2 3h6m3-6h6m-3 4h6m-6-1h6m-3-2h6m-1 3h6m-1 3h6m30-3h6m0 2h6m22-7h6m-3 4h6m-3-4h6m-5-1h6m5 3h6m1-2h6m-2 0h6m-814 17h6m-4-3h6m-3 2h6m15-4h6m0 2h6m26 4h6m4-1h6m0-4h6m3 1h6m-6 1h6m9-7h6m-3 6h6m15-2h6m2 5h6m-5-4h6m5-2h6m-4 6h6m14-9h6m10 6h6m92-5h6m34 4h6m-4 3h6m-1-7h6m-6 8h6m-1-2h6m27-2h6m-1 2h6m5-2h6m1-2h6m1-1h6m-2-1h6m11 5h6m4-3h6m-3 3h6m7 1h6m8-7h6m10 5h6m-5 3h6m-2-3h6m4-1h6m-5-2h6m153-1h6m-5-1h6m6 1h6m8 7h6m-3-2h6m-6-4h6m7 1h6m0 6h6m-5-9h6m7 1h6m-1 8h6m-2-9h6m-4 7h6m8-4h6m-1 2h6m8-2h6m-3-2h6m2 6h6m20-6h6m-4 0h6m-4 4h6m-798 6h6m-4 1h6m16 5h6m-1-2h6m-3-3h6m6 7h6m19-2h6m0 0h6m5-4h6m-3 2h6m1 1h6m8 0h6m-6-4h6m0-2h6m-2 4h6m-4-2h6m13 2h6m12-4h6m5 2h6m11 1h6m84 7h6m16-8h6m-1 0h6m12 4h6m3 0h6m51 3h6m-3-9h6m-5 6h6m10-2h6m-5-3h6m2 0h6m-5 7h6m5-5h6m2 7h6m22-2h6m2-7h6m201 7h6m-3-4h6m8 4h6m-4 1h6m-1-6h6m9 0h6m-3 2h6m27-3h6m5 5h6m-2 3h6m-5-2h6m-1-2h6m-3 3h6m-771 5h6m15 3h6m-6-5h6m15 8h6m21-8h6m9-2h6m3 9h6m-4-6h6m4 5h6m-1-6h6m2 1h6m-4 0h6m-4 2h6m9 4h6m4-7h6m1 8h6m9-2h6m-1-5h6m126 4h6m37-6h6m20 0h6m-4 0h6m1 9h6m-1-3h6m1-2h6m26-3h6m9 6h6m206-3h6m29 2h6m0 1h6m20-4h6m2 0h6m5 3h6m-5 0h6m10-4h6m11-2h6m-5 9h6m-783 2h6m-5 3h6m3-2h6m1 6h6m22-2h6m34-5h6m-5 5h6m3 2h6m8-9h6m17 1h6m-2 2h6m-6 1h6m0-3h6m-5 6h6m5 0h6m13-4h6m91 4h6m9-2h6m-4-4h6m5 2h6m73 2h6m-3 3h6m23-5h6m-5-2h6m-6 4h6m22 1h6m2-4h6m-5 2h6m212-1h6m-4 2h6m36 1h6m-1 3h6m19-1h6m-3-6h6m-766 9h6m6 8h6m-3 0h6m-6-7h6m29 1h6m-4 7h6m-2-3h6m-4-5h6m8 2h6m-6-1h6m-5-2h6m8 7h6m3-1h6m1-6h6m-1 2h6m6-1h6m-5-1h6m50 1h6m-6 0h6m9 0h6m98 7h6m-5 1h6m-2-10h6m7 6h6m7 0h6m-4-3h6m-5-3h6m-2 10h6m-3-9h6m49 5h6m48-6h6m17 1h6m218 1h6m24 0h6m19 5h6m-2-3h6m-2 0h6m-761 15h6m0-7h6m-4 7h6m-3-9h6m18 3h6m8-2h6m2 8h6m243-7h6m10 3h6m1 4h6m48-1h6m0-8h6m27 7h6m6-5h6m265 0h6m-6 6h6m-5-5h6m5 1h6m2 0h6m1 6h6m-3-6h6m-732 8h6m18 1h6m11 0h6m3-1h6m-5-1h6m25 0h6m295 3h6m319-3h6m-5 2h6"/><path d="M370.9,578.03 L398.21,574.38 L413.57,570.23 L413.57,554.62 L398.21,563.54Z" fill="url(#bg2)"/><polyline points="370.9,574.34 371.81,574.14 372.72,573.93 373.63,573.71 374.54,573.49 375.45,573.27 376.36,573.04 377.27,572.8 378.18,572.56 379.09,572.31 380,572.05 380.91,571.79 381.82,571.53 382.74,571.25 383.65,570.97 384.56,570.68 385.47,570.38 386.38,570.07 387.29,569.76 388.2,569.43 389.11,569.1" stroke="#fff" stroke-width="0.55" fill="none"/></g>
<rect x="371.4" y="523.4" width="113.8" height="89.2" fill="none" stroke="#555" stroke-width="0.7"/>
<line x1="371.4" y1="523.4" x2="372.6" y2="523.4" stroke="#555" stroke-width="0.5"/>
<line x1="371.4" y1="532.32" x2="372.2" y2="532.32" stroke="#555" stroke-width="0.5"/>
<line x1="371.4" y1="541.24" x2="372.6" y2="541.24" stroke="#555" stroke-width="0.5"/>
<line x1="371.4" y1="550.16" x2="372.2" y2="550.16" stroke="#555" stroke-width="0.5"/>
<line x1="371.4" y1="559.08" x2="372.6" y2="559.08" stroke="#555" stroke-width="0.5"/>
<line x1="371.4" y1="568" x2="372.2" y2="568" stroke="#555" stroke-width="0.5"/>
<line x1="371.4" y1="576.92" x2="372.6" y2="576.92" stroke="#555" stroke-width="0.5"/>
<line x1="371.4" y1="585.84" x2="372.2" y2="585.84" stroke="#555" stroke-width="0.5"/>
<line x1="371.4" y1="594.76" x2="372.6" y2="594.76" stroke="#555" stroke-width="0.5"/>
<line x1="371.4" y1="603.68" x2="372.2" y2="603.68" stroke="#555" stroke-width="0.5"/>
<line x1="371.4" y1="612.6" x2="372.6" y2="612.6" stroke="#555" stroke-width="0.5"/>
<line x1="371.4" y1="612.6" x2="371.4" y2="611.4" stroke="#555" stroke-width="0.5"/>
<line x1="382.78" y1="612.6" x2="382.78" y2="611.8" stroke="#555" stroke-width="0.5"/>
<line x1="394.16" y1="612.6" x2="394.16" y2="611.4" stroke="#555" stroke-width="0.5"/>
<line x1="405.54" y1="612.6" x2="405.54" y2="611.8" stroke="#555" stroke-width="0.5"/>
<line x1="416.92" y1="612.6" x2="416.92" y2="611.4" stroke="#555" stroke-width="0.5"/>
<line x1="428.3" y1="612.6" x2="428.3" y2="611.8" stroke="#555" stroke-width="0.5"/>
<line x1="439.68" y1="612.6" x2="439.68" y2="611.4" stroke="#555" stroke-width="0.5"/>
<line x1="451.06" y1="612.6" x2="451.06" y2="611.8" stroke="#555" stroke-width="0.5"/>
<line x1="462.44" y1="612.6" x2="462.44" y2="611.4" stroke="#555" stroke-width="0.5"/>
<line x1="473.82" y1="612.6" x2="473.82" y2="611.8" stroke="#555" stroke-width="0.5"/>
<line x1="485.2" y1="612.6" x2="485.2" y2="611.4" stroke="#555" stroke-width="0.5"/>
<text x="370.8" y="526" font-size="7.3" text-anchor="end" textLength="13.9" lengthAdjust="spacingAndGlyphs">2.00</text>
<text x="370.8" y="543.84" font-size="7.3" text-anchor="end" textLength="13.9" lengthAdjust="spacingAndGlyphs">1.60</text>
<text x="370.8" y="561.68" font-size="7.3" text-anchor="end" textLength="13.9" lengthAdjust="spacingAndGlyphs">1.20</text>
<text x="370.8" y="579.52" font-size="7.3" text-anchor="end" textLength="13.9" lengthAdjust="spacingAndGlyphs">0.80</text>
<text x="370.8" y="597.36" font-size="7.3" text-anchor="end" textLength="13.9" lengthAdjust="spacingAndGlyphs">0.40</text>
<text x="370.8" y="615.2" font-size="7.3" text-anchor="end" textLength="13.9" lengthAdjust="spacingAndGlyphs">0.00</text>
<text x="353.8" y="568" font-size="7.4" text-anchor="middle" textLength="54" lengthAdjust="spacingAndGlyphs" transform="rotate(-90 353.8 568)">RDG (arb.units)</text>
<text x="376.3" y="613.9" font-size="7.7" text-anchor="end" textLength="16.2" lengthAdjust="spacingAndGlyphs" transform="rotate(-90 376.3 613.9)">-0.05</text>
<text x="398.2" y="613.9" font-size="7.7" text-anchor="end" textLength="16.2" lengthAdjust="spacingAndGlyphs" transform="rotate(-90 398.2 613.9)">-0.03</text>
<text x="420.1" y="613.9" font-size="7.7" text-anchor="end" textLength="16.2" lengthAdjust="spacingAndGlyphs" transform="rotate(-90 420.1 613.9)">-0.01</text>
<text x="442.7" y="613.9" font-size="7.7" text-anchor="end" textLength="13.4" lengthAdjust="spacingAndGlyphs" transform="rotate(-90 442.7 613.9)">0.01</text>
<text x="465.3" y="613.9" font-size="7.7" text-anchor="end" textLength="13.4" lengthAdjust="spacingAndGlyphs" transform="rotate(-90 465.3 613.9)">0.03</text>
<text x="486.7" y="613.9" font-size="7.7" text-anchor="end" textLength="13.4" lengthAdjust="spacingAndGlyphs" transform="rotate(-90 486.7 613.9)">0.05</text>
<text x="431.5" y="641.4" font-size="7.5" text-anchor="middle" textLength="73.5" lengthAdjust="spacingAndGlyphs">sign(λ<tspan font-size="5.5" dy="1.5">2</tspan><tspan dy="-1.5">)ρ (arb.units)</tspan></text>
<text x="428.7" y="658" font-size="10" text-anchor="middle" font-weight="normal" fill="#111" textLength="53.4" lengthAdjust="spacingAndGlyphs" stroke="#111" stroke-width="0.28"><tspan font-style="italic">meso</tspan>-DWG1</text>
<rect x="487.7" y="523.4" width="5.9" height="90.2" fill="url(#cb2)"/>
<text x="494.2" y="527.2" font-size="7.3" textLength="18.2" lengthAdjust="spacingAndGlyphs">0.015</text>
<text x="494.2" y="542.15" font-size="7.3" textLength="18.2" lengthAdjust="spacingAndGlyphs">0.010</text>
<text x="494.2" y="557.1" font-size="7.3" textLength="18.2" lengthAdjust="spacingAndGlyphs">0.005</text>
<text x="494.2" y="572.05" font-size="7.3" textLength="18.2" lengthAdjust="spacingAndGlyphs">0.000</text>
<text x="494.2" y="587" font-size="7.3" textLength="20.8" lengthAdjust="spacingAndGlyphs">-0.005</text>
<text x="494.2" y="601.95" font-size="7.3" textLength="20.8" lengthAdjust="spacingAndGlyphs">-0.010</text>
<text x="494.2" y="616.9" font-size="7.3" textLength="20.8" lengthAdjust="spacingAndGlyphs">-0.015</text>
<polyline points="413.2,608.9 426.7,564.9 439.4,608.9" stroke="#111" stroke-width="0.9" fill="none"/>
<polyline points="422.5,604.7 426.7,594.5 431,604.7" stroke="#111" stroke-width="0.9" fill="none"/>
<polyline points="452.1,608.9 462.8,577.6 474.1,608.9" stroke="#111" stroke-width="0.9" fill="none"/>
<text x="426.7" y="564.5" font-size="8.2" text-anchor="middle" textLength="28.8" lengthAdjust="spacingAndGlyphs">C-H···π</text>
<text x="461.9" y="566.7" font-size="8.2" text-anchor="middle" textLength="33" lengthAdjust="spacingAndGlyphs">Intra-ring</text>
<text x="462.3" y="574.3" font-size="8.2" text-anchor="middle" textLength="42.4" lengthAdjust="spacingAndGlyphs">nonbonding</text>
<text x="427.2" y="593.8" font-size="8.2" text-anchor="middle" textLength="17.7" lengthAdjust="spacingAndGlyphs">H···H</text>
<g clip-path="url(#cp3)"><path d="M589.72,522.58 L589.43,523.46 L589.14,524.33 L588.84,525.2 L588.53,526.05 L588.21,526.9 L587.87,527.74 L587.53,528.57 L587.18,529.4 L586.82,530.21 L586.45,531.02 L586.07,531.82 L585.67,532.61 L585.26,533.39 L584.85,534.17 L584.41,534.93 L583.97,535.69 L583.51,536.45 L583.04,537.19 L582.55,537.93 L582.05,538.66 L581.54,539.39 L581.01,540.1 L580.46,540.81 L579.89,541.51 L579.31,542.21 L578.72,542.9 L578.1,543.58 L577.47,544.26 L576.81,544.93 L576.14,545.59 L575.44,546.24 L574.73,546.89 L573.99,547.54 L573.24,548.17 L572.46,548.8 L571.65,549.43 L570.82,550.04 L569.97,550.66 L569.09,551.26 L568.18,551.86 L567.25,552.46 L566.29,553.04 L565.3,553.63 L564.28,554.2 L563.23,554.77 L562.15,555.34 L561.03,555.9 L559.89,556.45 L558.7,557 L557.49,557.55 L556.23,558.08 L554.94,558.62 L553.61,559.14 L552.24,559.67 L550.83,560.18 L549.37,560.7 L547.87,561.2 L546.33,561.71 L544.74,562.2 L543.1,562.7 L543.1,577.69 L546.56,576.95 L549.8,576.19 L552.85,575.41 L555.7,574.62 L558.38,573.82 L560.9,572.99 L563.26,572.15 L565.47,571.29 L567.55,570.41 L569.5,569.51 L571.33,568.6 L573.05,567.66 L574.66,566.71 L576.18,565.74 L577.59,564.75 L578.93,563.75 L580.18,562.73 L581.35,561.69 L582.45,560.64 L583.48,559.58 L584.45,558.51 L585.36,557.43 L586.21,556.35 L587.01,555.26 L587.76,554.18 L588.47,553.1 L589.13,552.02 L589.75,550.95 L590.33,549.89 L590.88,548.84 L591.39,547.81 L591.87,546.79 L592.32,545.78 L592.75,544.79 L593.15,543.81 L593.52,542.85 L593.87,541.9 L594.2,540.96 L594.51,540.03 L594.8,539.11 L595.07,538.2 L595.32,537.29 L595.56,536.38 L595.78,535.48 L596,534.57 L596.19,533.65 L596.38,532.72 L596.55,531.79 L596.72,530.84 L596.87,529.87 L597.01,528.88 L597.15,527.87 L597.27,526.84 L597.39,525.78 L597.5,524.69 L597.61,523.57 L597.69,522.5Z" fill="url(#bg3)"/><path d="M608.2,522.57 L608.47,523.47 L608.76,524.37 L609.06,525.26 L609.36,526.14 L609.68,527.01 L610,527.88 L610.34,528.73 L610.68,529.58 L611.04,530.41 L611.4,531.24 L611.78,532.06 L612.17,532.87 L612.57,533.68 L612.99,534.47 L613.42,535.26 L613.86,536.04 L614.31,536.81 L614.78,537.58 L615.26,538.33 L615.76,539.08 L616.27,539.82 L616.8,540.55 L617.35,541.28 L617.91,542 L618.49,542.71 L619.08,543.41 L619.7,544.11 L620.34,544.8 L620.99,545.48 L621.66,546.16 L622.36,546.83 L623.08,547.49 L623.82,548.15 L624.58,548.8 L625.37,549.44 L626.18,550.07 L627.01,550.7 L627.87,551.33 L628.76,551.94 L629.68,552.55 L630.62,553.16 L631.6,553.76 L632.6,554.35 L633.63,554.94 L634.7,555.52 L635.8,556.09 L636.93,556.66 L638.1,557.22 L639.31,557.78 L640.55,558.33 L641.83,558.88 L643.15,559.42 L644.51,559.95 L645.92,560.48 L647.36,561.01 L648.86,561.53 L650.39,562.04 L651.98,562.55 L653.61,563.05 L655.3,563.55 L655.3,576.96 L651.92,576.22 L648.74,575.46 L645.76,574.69 L642.95,573.9 L640.31,573.1 L637.84,572.28 L635.51,571.44 L633.32,570.58 L631.26,569.71 L629.33,568.82 L627.51,567.91 L625.81,566.98 L624.2,566.04 L622.7,565.08 L621.28,564.1 L619.95,563.1 L618.7,562.08 L617.52,561.06 L616.42,560.01 L615.38,558.96 L614.41,557.9 L613.49,556.82 L612.63,555.74 L611.82,554.66 L611.06,553.58 L610.34,552.5 L609.67,551.42 L609.04,550.35 L608.45,549.29 L607.89,548.23 L607.37,547.19 L606.87,546.16 L606.41,545.15 L605.98,544.15 L605.57,543.16 L605.19,542.19 L604.82,541.23 L604.49,540.28 L604.17,539.35 L603.87,538.42 L603.59,537.5 L603.32,536.59 L603.07,535.69 L602.84,534.78 L602.62,533.88 L602.41,532.97 L602.22,532.05 L602.04,531.13 L601.87,530.2 L601.71,529.25 L601.56,528.29 L601.41,527.31 L601.28,526.31 L601.16,525.28 L601.04,524.23 L600.93,523.15 L600.87,522.5Z" fill="url(#bg3)"/><g mask="url(#mk3)"><path d="M585.74,558.42 L586.3,607.81 L590.79,607.81 L597.52,535.97 L597.52,522.5 L592.47,522.5Z" fill="url(#bg3)"/><path d="M600.55,522.5 L600.55,535.97 L608.18,607.81 L610.98,607.81 L613.79,598.83 L632.86,595.24 L655.3,594.34 L655.3,571.89 L612.66,547.19 L605.93,522.5Z" fill="url(#bg3)"/></g><path transform="scale(.1)" stroke="url(#bg3d)" stroke-width="6" fill="none" d="M5974 5430h6m-1 13h6m-7 5h6m24-2h6m-25 18h6m7 5h6m-25 31h6m-15 7h6m35 11h6m-5 9h6m-41 13h6m-17 22h6m-6 13h6m15 19h6m-5 2h6m7 15h6m11-3h6m-52 11h6m40-3h6m-15 10h6m-53 10h6m-10 20h6m-3 0h6m57 8h6m-56 11h6m42-7h6m-14 27h6m-60 7h6m-22 3h6m8 6h6m26 0h6m26-1h6m2-4h6m-83 12h6m27 6h6m17-1h6m22 3h6m-38 19h6m-67 5h6m57-1h6m-42 44h6m31-5h6m-68 14h6m40-3h6m40 3h6m-71 6h6m19 13h6m34 13h6m-4 0h6m-42 8h6m-24 5h6m-2 3h6m17 0h6m-74 5h6m70 0h6m454 10h6m23-1h6m8-6h6m8 4h6m-612 11h6m71-5h6m26 1h6m334 3h6m-4-1h6m2 0h6m13 3h6m14-5h6m-2 1h6m9-2h6m-4 2h6m-2 4h6m2-7h6m-3 2h6m-3 5h6m4-7h6m-2 3h6m0 3h6m11 1h6m-3 0h6m-5-5h6m-3 4h6m2-7h6m0 4h6m-2-5h6m-3 9h6m5-6h6m-590 8h6m32 0h6m264 8h6m10 0h6m-4-1h6m11 0h6m0-4h6m2 5h6m-4-6h6m5 4h6m16 2h6m-6 0h6m-3-1h6m5 2h6m-1-6h6m-4 2h6m3-2h6m-5-1h6m4 3h6m-1-4h6m-3 4h6m-5 0h6m4-5h6m2 8h6m4-5h6m7 3h6m5 2h6m8 0h6m1-7h6m-4 6h6m3-3h6m-5-4h6m-3 8h6m-6-4h6m14-3h6m-4 1h6m-3 6h6m9-1h6m-6-2h6m0-5h6m-546 16h6m11 0h6m26-5h6m120 5h6m4 2h6m-3-1h6m15-4h6m-1 1h6m-3 2h6m-5 3h6m2-3h6m3-5h6m-5-1h6m6 8h6m0 0h6m0-7h6m4-1h6m-4 1h6m-4 4h6m10-1h6m-2 2h6m-3-1h6m12-1h6m-4-5h6m-6 7h6m-3-5h6m-4-2h6m7 6h6m-6-3h6m-4 2h6m-4 0h6m10 2h6m26 1h6m-3-3h6m-6-2h6m3 6h6m-3-3h6m-4-5h6m-5 6h6m9 0h6m17-5h6m0 5h6m-5-6h6m-5 0h6m-5 0h6m3 6h6m0-3h6m-5-3h6m-3 7h6m9-7h6m-5 6h6m2 0h6m3-7h6m-3 5h6m-2-2h6m-3-1h6m-4 5h6m5-7h6m2 6h6m-422 7h6m-3 0h6m-5 2h6m0-2h6m-3 0h6m0 6h6m-1-8h6m4 4h6m3-3h6m-4 7h6m-3-8h6m13 3h6m-2 0h6m-4-1h6m-6 2h6m-5-3h6m-6 1h6m-6 3h6m-5-4h6m7 2h6m2 5h6m17-3h6m6 4h6m-3-4h6m-3 2h6m-4-7h6m5 9h6m27-2h6m1-1h6m-3-6h6m9 5h6m-2-2h6m1 2h6m1-4h6m-3 3h6m1-4h6m2 5h6m-3-2h6m30 2h6m-4 2h6m18-1h6m-4-5h6m1 0h6m-5 7h6m-5-5h6m-5 0h6m0-2h6m3 5h6m9-1h6m9-5h6m0 8h6m7-1h6m8-6h6m-5-1h6m12 2h6m-2-1h6m2 8h6m-5-6h6m-545 11h6m0-4h6m36 0h6m56 5h6m10-3h6m-6 2h6m-5 0h6m-6-5h6m-1 5h6m-5-4h6m0 0h6m-2 5h6m-5 1h6m6 1h6m5-2h6m-2 1h6m18-6h6m3 5h6m6 3h6m5-5h6m27 0h6m14-3h6m0 5h6m-5 0h6m2 0h6m-1-2h6m-3-1h6m-3 0h6m-2 5h6m10-3h6m-3-2h6m7-1h6m6 6h6m-5-3h6m-5 2h6m-6-3h6m3-3h6m5 0h6m2 2h6m-3 3h6m-1 1h6m-5-7h6m2 3h6m-5 5h6m-4 1h6m15-1h6m2-7h6m-4 0h6m1 4h6m6-4h6m-2 3h6m-1 0h6m-5 2h6m-1 2h6m-5-5h6m-4-2h6m-4 6h6m35-5h6m-5-1h6m5 8h6m-3-4h6m-614 8h6m22 5h6m160-1h6m-4-1h6m3 3h6m-2-7h6m-3 3h6m0 5h6m-2-2h6m-1-1h6m0-6h6m6 4h6m4 3h6m-5-6h6m7 6h6m-6-2h6m9-4h6m0 1h6m-3 6h6m-2-8h6m-1 1h6m4 6h6m0-1h6m9 2h6m-3-7h6m-5 3h6m-4 2h6m5 0h6m-6 2h6m12-4h6m-5 3h6m-6-4h6m-5 2h6m-5 1h6m-6-2h6m5 2h6m3-2h6m25 1h6m-5-1h6m7-4h6m-2 7h6m-1-5h6m7 1h6m-2-4h6m-1 1h6m15 4h6m-2-4h6m-2 9h6m-1-1h6m6-2h6m-4 2h6m-5-1h6m1-3h6m-3-4h6m-3 2h6m22 0h6m-3 2h6m2 3h6m1-6h6m5 3h6m-5-3h6m-2 0h6m4 3h6m3-4h6m-509 13h6m68-1h6m3 4h6m8 3h6m17-8h6m4 7h6m-4-8h6m8 1h6m-5 6h6m-2 2h6m0-1h6m4-1h6m21-3h6m1 0h6m4 0h6m-3 3h6m2 1h6m-4-2h6m0-6h6m1 7h6m-6-8h6m4 3h6m18-1h6m-5 1h6m11 6h6m-3-1h6m1 1h6m20-8h6m-2 8h6m11 1h6m-4-1h6m-4-4h6m1-3h6m6 6h6m14-5h6m23 6h6m-6-7h6m-2 3h6m1 3h6m2-8h6m7 3h6m12 1h6m-6 5h6m-5-7h6m12-2h6m-3 7h6m-3 0h6m-4-2h6m-3 1h6m7 0h6m-608 7h6m24 4h6m75 0h6m52 1h6m-6 2h6m0-3h6m-2-4h6m-2 1h6m3-2h6m3 3h6m-6 2h6m-4 2h6m-3-8h6m0 6h6m-3-3h6m-4-3h6m5 1h6m4 6h6m15 2h6m6-7h6m14 0h6m-6-2h6m-4 8h6m4-4h6m5-3h6m25-2h6m3 9h6m6-7h6m-2 5h6m-3-5h6m-5 3h6m9 0h6m-1 2h6m8-2h6m-5-5h6m-5 2h6m16 5h6m11 0h6m-1-1h6m-4 4h6m10-4h6m9 1h6m-5-3h6m-6-3h6m-3 7h6m-2-7h6m2 3h6m0 4h6m-4-7h6m-4 8h6m-2-2h6m-1-2h6m-4 5h6m-4-9h6m-3 3h6m-2-2h6m-4 0h6m-4 6h6m19-7h6m-559 13h6m82-1h6m8-2h6m61 2h6m2 2h6m5 2h6m-2-1h6m1 3h6m6 1h6m-1-8h6m9 6h6m-6-4h6m-5 5h6m-3-6h6m-3-2h6m11 1h6m-3 7h6m-4 1h6m13-3h6m2-5h6m-1 6h6m-5-6h6m-4 0h6m2 4h6m3-3h6m-3-3h6m-3 0h6m1 9h6m-3-1h6m-3-2h6m-5 1h6m-4-5h6m-1 6h6m11-8h6m22 2h6m-5 2h6m9-1h6m-6 0h6m6 6h6m-1-1h6m-6-3h6m-2 3h6m12-4h6m21 4h6m-3-1h6m1-4h6m-5 3h6m3-4h6m-4 6h6m-6-3h6m9 5h6m4-2h6m-3-1h6m-2-2h6m-1-3h6m1 4h6m4 2h6m-4-5h6m-2 6h6m-3-4h6m8-1h6m-610 16h6m70-7h6m47 0h6m76 0h6m-3-1h6m-4 3h6m-4-1h6m-3-1h6m8 1h6m-4 0h6m6 2h6m-1-1h6m10-4h6m-5 6h6m-2-4h6m6-1h6m-5 5h6m-1-5h6m-4 2h6m-4 0h6m10-3h6m-6 4h6m2 0h6m-6 3h6m-6-3h6m-5 1h6m-2 3h6m-3 0h6m-4-8h6m5 1h6m-4 2h6m-3 2h6m-1-3h6m1-1h6m1-1h6m-6 0h6m-1 1h6m9 4h6m-3-1h6m-1 2h6m-3 2h6m-5-4h6m3 1h6m0 1h6m-3 3h6m3-3h6m0-5h6m0 6h6m10-2h6m-4 0h6m-2-6h6m8 2h6m0 6h6m8-2h6m-3 4h6m-6-6h6m-5 3h6m0-3h6m-1-3h6m3 7h6m-6-8h6m3 4h6m-3-3h6m1 1h6m-5 5h6m36-4h6m-1 6h6m-4-4h6m4 0h6m0 3h6m25 0h6m-625 10h6m37 1h6m12 0h6m-2-2h6m11 1h6m113 0h6m-5-6h6m7 6h6m5 0h6m1-1h6m-6-2h6m-5-4h6m6 0h6m29 8h6m-5-1h6m-5 1h6m0 0h6m-5-6h6m21 1h6m1-1h6m3 2h6m-3-4h6m-4 8h6m-6 0h6m-2-8h6m-2 3h6m-5 0h6m-4-3h6m27 4h6m-4-1h6m6 4h6m-5-5h6m-3 2h6m-6-2h6m12-1h6m-1 2h6m-4-3h6m-4 4h6m11-4h6m-3 1h6m4 3h6m-4 1h6m-5 3h6m14-1h6m-1-6h6m-6 5h6m3-3h6m12 2h6m0 1h6m-3-3h6m-6 3h6m1-1h6m3-1h6m-2 1h6m-3-2h6m-5 1h6m-1 5h6m3-5h6m-4 1h6m-5-5h6m3 4h6m-3 0h6m-4 0h6m13-3h6m-5 2h6m4-1h6m-5 2h6m-625 11h6m11-3h6m40 5h6m35-6h6m90-1h6m-5 2h6m1 3h6m2 3h6m-3-8h6m-3 6h6m-3-6h6m2 2h6m10 4h6m0 0h6m-3-7h6m-4 4h6m-4-1h6m-6 5h6m-6 2h6m-6-1h6m5-4h6m1 1h6m-6 3h6m-2-1h6m-3 1h6m5-4h6m-2-4h6m4 2h6m5 2h6m-3 1h6m1-4h6m-2 6h6m-1-8h6m-2 6h6m8 4h6m3-6h6m-3-3h6m-5 1h6m-5 7h6m22-6h6m3 2h6m-6-2h6m-3 7h6m16-8h6m14 3h6m-4 1h6m-2 4h6m0 0h6m-2 0h6m-1-9h6m-2 8h6m4-8h6m14 1h6m-5 5h6m8 3h6m2-5h6m5 1h6m-5 2h6m6-1h6m6 2h6m-2-1h6m-2-6h6m0 5h6m-5 0h6m4 3h6m11-5h6m3-3h6m-2 5h6m-2 3h6m-572 1h6m32 2h6m35 4h6m71-1h6m-5 3h6m-2 0h6m5 0h6m3-6h6m-4 1h6m11-1h6m0 1h6m33 4h6m-1-7h6m14 6h6m0-4h6m1 2h6m-4 3h6m-2 1h6m-5-2h6m-5-6h6m-5 2h6m1 0h6m-6-2h6m7 4h6m-6 5h6m-1-5h6m1 4h6m1-2h6m7 1h6m7-6h6m17 7h6m2-7h6m3 2h6m-4-3h6m21 5h6m0 1h6m-1 3h6m8-6h6m3-4h6m3 6h6m-5-5h6m-4 6h6m7 0h6m-3-2h6m13 1h6m-2-1h6m-2-3h6m0 6h6m-3-7h6m-3 4h6m-2 4h6m-1-3h6m1-4h6m15 2h6m-5 4h6m-593 3h6m60 3h6m25 1h6m66 4h6m7-8h6m0 5h6m-5 0h6m7 3h6m-1-4h6m2 0h6m-3-5h6m-1 9h6m-3-9h6m3 4h6m2-2h6m1 2h6m4 6h6m3-2h6m-5-1h6m-2-4h6m-1 7h6m19-9h6m0 0h6m15 8h6m9-7h6m12 3h6m-6 5h6m-5-8h6m4 0h6m-5 4h6m-6-5h6m6 0h6m3 9h6m-4-9h6m-1 7h6m3-5h6m29-1h6m5-2h6m5 2h6m6 3h6m22-2h6m3 2h6m19 4h6m-3-7h6m12 8h6m1-1h6m2-4h6m-611 7h6m5 2h6m3 4h6m101-3h6m73 4h6m2-3h6m14 1h6m4 3h6m0-9h6m0-1h6m-1 9h6m1-6h6m17-2h6m4 4h6m-4 3h6m-2-1h6m14 0h6m0 0h6m-2 3h6m-3-1h6m-2-2h6m-4-5h6m-4 3h6m16 4h6m4-8h6m2 8h6m-2-4h6m-5 0h6m-4 0h6m12 0h6m63-4h6m-6 2h6m-3 3h6m5-4h6m15 3h6m-3-2h6m17 3h6m2-1h6m-505 8h6m-2-2h6m16-1h6m30 6h6m3-1h6m58 0h6m3 3h6m-2-6h6m-1 2h6m7-1h6m27 4h6m-6 2h6m1-2h6m-1 2h6m0-4h6m-2 1h6m-3 1h6m5 1h6m-6 1h6m5-6h6m-2-1h6m-3 5h6m-4 0h6m2 0h6m-5-5h6m-1 2h6m8-2h6m7 4h6m-6-4h6m10 0h6m-5 6h6m1-5h6m12 0h6m-6 2h6m92 4h6m-1-7h6m-6 2h6m3 2h6m-1-3h6m-4 6h6m0-2h6m-1 0h6m-4-3h6m20 2h6m0-4h6m2 3h6m-5 2h6m-5-6h6m5 9h6m-3-8h6m12 5h6m2-6h6m-1 2h6m-610 12h6m43-3h6m45 6h6m25-5h6m52-2h6m16 2h6m15 3h6m-4 0h6m8-1h6m-4 2h6m3-5h6m-4 4h6m2-3h6m-1 5h6m-4-2h6m2-4h6m-5 2h6m-5-3h6m3 4h6m6 0h6m8 2h6m-5 0h6m34-4h6m-5 3h6m-3 0h6m115-2h6m-3-3h6m-3 8h6m-4-9h6m-5 6h6m20-1h6m-6 4h6m18-9h6m0 0h6m-3 8h6m2-1h6m2-1h6m3 1h6m3-7h6m0 2h6m2 4h6m-2-4h6m-624 17h6m6-6h6m184-1h6m-1 0h6m35 0h6m-4-1h6m-3 7h6m-1 2h6m6-2h6m-1-1h6m-2-3h6m-5 5h6m-3-8h6m-4 2h6m32-1h6m19 1h6m-2 3h6m6-1h6m-3-5h6m129 1h6m-1 0h6m0 1h6m-4-2h6m15 8h6m3-3h6m20-3h6m-3-2h6m4 1h6m-2 2h6m-1-1h6m-4 4h6m5 2h6m3 0h6m0-4h6m-547 14h6m6-5h6m19 1h6m101 2h6m-4-5h6m-2 0h6m-3 0h6m3 4h6m3 0h6m1 0h6m-1 4h6m8-4h6m-1 5h6m-5 0h6m0-5h6m-3 0h6m9-2h6m-1 6h6m2 0h6m1-6h6m-1-2h6m5 8h6m-4-5h6m-3 0h6m-4 0h6m161-4h6m-1 9h6m2-8h6m5 5h6m5-5h6m-5 8h6m1-2h6m4 1h6m-4 0h6m-5 0h6m4-3h6m6 1h6m-5 2h6m9-8h6m-637 20h6m-6-10h6m7 2h6m235 1h6m1-1h6m28-1h6m6 5h6m0-4h6m4 0h6m-5 1h6m6-1h6m-4 5h6m3-7h6m-5 4h6m0-3h6m180 1h6m4 2h6m2 3h6m-5 0h6m-5-6h6m5 8h6m9-6h6m17 0h6m22 0h6m-590 14h6m8-3h6m46 5h6m31-5h6m99-3h6m2 7h6m-5-1h6m7-3h6m24 4h6m-3-6h6m10 2h6m3 0h6m-4 0h6m206 6h6m-4-2h6m5-7h6m2 0h6m2 3h6m4 4h6m-1-3h6m-2-4h6m-575 10h6m44 1h6m186 0h6m15 7h6m0 1h6m0-8h6m-3 6h6m2-7h6m-1 6h6m-4-3h6m-4 0h6m226 3h6m4 1h6m8-2h6m-3-3h6m-293 12h6m7-4h6m244 0h6m-5 2h6m-4 0h6m5 3h6m0-1h6"/><polyline points="543.1,573.3 543.94,573.1 544.78,572.9 545.62,572.7 546.47,572.49 547.31,572.27 548.15,572.05 548.99,571.83 549.83,571.6 550.67,571.37 551.51,571.13 552.36,570.88 553.2,570.63 554.04,570.37 554.88,570.11 555.72,569.84 556.56,569.56 557.41,569.28 558.25,568.99 559.09,568.68 559.93,568.38" stroke="#fff" stroke-width="0.55" fill="none"/><path d="M575.86,569.64 L579.23,575.93 L581.81,587.61 L582.59,610.05 L585.96,610.05 L585.96,558.42 L581.25,562.91Z" fill="url(#bg3)"/></g>
<rect x="543.4" y="522.5" width="112.2" height="89.8" fill="none" stroke="#555" stroke-width="0.7"/>
<line x1="543.4" y1="522.5" x2="544.6" y2="522.5" stroke="#555" stroke-width="0.5"/>
<line x1="543.4" y1="531.48" x2="544.2" y2="531.48" stroke="#555" stroke-width="0.5"/>
<line x1="543.4" y1="540.46" x2="544.6" y2="540.46" stroke="#555" stroke-width="0.5"/>
<line x1="543.4" y1="549.44" x2="544.2" y2="549.44" stroke="#555" stroke-width="0.5"/>
<line x1="543.4" y1="558.42" x2="544.6" y2="558.42" stroke="#555" stroke-width="0.5"/>
<line x1="543.4" y1="567.4" x2="544.2" y2="567.4" stroke="#555" stroke-width="0.5"/>
<line x1="543.4" y1="576.38" x2="544.6" y2="576.38" stroke="#555" stroke-width="0.5"/>
<line x1="543.4" y1="585.36" x2="544.2" y2="585.36" stroke="#555" stroke-width="0.5"/>
<line x1="543.4" y1="594.34" x2="544.6" y2="594.34" stroke="#555" stroke-width="0.5"/>
<line x1="543.4" y1="603.32" x2="544.2" y2="603.32" stroke="#555" stroke-width="0.5"/>
<line x1="543.4" y1="612.3" x2="544.6" y2="612.3" stroke="#555" stroke-width="0.5"/>
<line x1="543.4" y1="612.3" x2="543.4" y2="611.1" stroke="#555" stroke-width="0.5"/>
<line x1="554.62" y1="612.3" x2="554.62" y2="611.5" stroke="#555" stroke-width="0.5"/>
<line x1="565.84" y1="612.3" x2="565.84" y2="611.1" stroke="#555" stroke-width="0.5"/>
<line x1="577.06" y1="612.3" x2="577.06" y2="611.5" stroke="#555" stroke-width="0.5"/>
<line x1="588.28" y1="612.3" x2="588.28" y2="611.1" stroke="#555" stroke-width="0.5"/>
<line x1="599.5" y1="612.3" x2="599.5" y2="611.5" stroke="#555" stroke-width="0.5"/>
<line x1="610.72" y1="612.3" x2="610.72" y2="611.1" stroke="#555" stroke-width="0.5"/>
<line x1="621.94" y1="612.3" x2="621.94" y2="611.5" stroke="#555" stroke-width="0.5"/>
<line x1="633.16" y1="612.3" x2="633.16" y2="611.1" stroke="#555" stroke-width="0.5"/>
<line x1="644.38" y1="612.3" x2="644.38" y2="611.5" stroke="#555" stroke-width="0.5"/>
<line x1="655.6" y1="612.3" x2="655.6" y2="611.1" stroke="#555" stroke-width="0.5"/>
<text x="542.8" y="525.1" font-size="7.3" text-anchor="end" textLength="13.9" lengthAdjust="spacingAndGlyphs">2.00</text>
<text x="542.8" y="543.06" font-size="7.3" text-anchor="end" textLength="13.9" lengthAdjust="spacingAndGlyphs">1.60</text>
<text x="542.8" y="561.02" font-size="7.3" text-anchor="end" textLength="13.9" lengthAdjust="spacingAndGlyphs">1.20</text>
<text x="542.8" y="578.98" font-size="7.3" text-anchor="end" textLength="13.9" lengthAdjust="spacingAndGlyphs">0.80</text>
<text x="542.8" y="596.94" font-size="7.3" text-anchor="end" textLength="13.9" lengthAdjust="spacingAndGlyphs">0.40</text>
<text x="542.8" y="614.9" font-size="7.3" text-anchor="end" textLength="13.9" lengthAdjust="spacingAndGlyphs">0.00</text>
<text x="525.8" y="567.4" font-size="7.4" text-anchor="middle" textLength="54" lengthAdjust="spacingAndGlyphs" transform="rotate(-90 525.8 567.4)">RDG (arb.units)</text>
<text x="548.2" y="613.6" font-size="7.7" text-anchor="end" textLength="16.2" lengthAdjust="spacingAndGlyphs" transform="rotate(-90 548.2 613.6)">-0.05</text>
<text x="570" y="613.6" font-size="7.7" text-anchor="end" textLength="16.2" lengthAdjust="spacingAndGlyphs" transform="rotate(-90 570 613.6)">-0.03</text>
<text x="592.2" y="613.6" font-size="7.7" text-anchor="end" textLength="16.2" lengthAdjust="spacingAndGlyphs" transform="rotate(-90 592.2 613.6)">-0.01</text>
<text x="613.7" y="613.6" font-size="7.7" text-anchor="end" textLength="13.4" lengthAdjust="spacingAndGlyphs" transform="rotate(-90 613.7 613.6)">0.01</text>
<text x="635.7" y="613.6" font-size="7.7" text-anchor="end" textLength="13.4" lengthAdjust="spacingAndGlyphs" transform="rotate(-90 635.7 613.6)">0.03</text>
<text x="657.2" y="613.6" font-size="7.7" text-anchor="end" textLength="13.4" lengthAdjust="spacingAndGlyphs" transform="rotate(-90 657.2 613.6)">0.05</text>
<text x="599.3" y="641.4" font-size="7.5" text-anchor="middle" textLength="73.5" lengthAdjust="spacingAndGlyphs">sign(λ<tspan font-size="5.5" dy="1.5">2</tspan><tspan dy="-1.5">)ρ (arb.units)</tspan></text>
<text x="600.5" y="658" font-size="10" text-anchor="middle" font-weight="normal" fill="#111" textLength="42.9" lengthAdjust="spacingAndGlyphs" stroke="#111" stroke-width="0.28"><tspan font-style="italic">rac</tspan>-DWG1</text>
<rect x="658.7" y="522.4" width="5.5" height="89.9" fill="url(#cb3)"/>
<text x="664.8" y="526.2" font-size="7.3" textLength="18.2" lengthAdjust="spacingAndGlyphs">0.015</text>
<text x="664.8" y="541.15" font-size="7.3" textLength="18.2" lengthAdjust="spacingAndGlyphs">0.010</text>
<text x="664.8" y="556.1" font-size="7.3" textLength="18.2" lengthAdjust="spacingAndGlyphs">0.005</text>
<text x="664.8" y="571.05" font-size="7.3" textLength="18.2" lengthAdjust="spacingAndGlyphs">0.000</text>
<text x="664.8" y="586" font-size="7.3" textLength="20.8" lengthAdjust="spacingAndGlyphs">-0.005</text>
<text x="664.8" y="600.95" font-size="7.3" textLength="20.8" lengthAdjust="spacingAndGlyphs">-0.010</text>
<text x="664.8" y="615.9" font-size="7.3" textLength="20.8" lengthAdjust="spacingAndGlyphs">-0.015</text>
<polyline points="585.2,608.1 597.9,559.8 614.8,609.8" stroke="#111" stroke-width="0.9" fill="none"/>
<polyline points="587.7,608.1 597.9,583.5 608.9,608.9" stroke="#111" stroke-width="0.9" fill="none"/>
<polyline points="592.8,606.4 598.7,603 604.7,606.4" stroke="#111" stroke-width="0.9" fill="none"/>
<polyline points="623.3,607.2 634.8,573.3 647,607.2" stroke="#111" stroke-width="0.9" fill="none"/>
<text x="597" y="557.7" font-size="8.2" text-anchor="middle" textLength="28.8" lengthAdjust="spacingAndGlyphs">C-H···π</text>
<text x="633.4" y="564.1" font-size="8.2" text-anchor="middle" textLength="33.9" lengthAdjust="spacingAndGlyphs">Intra-ring</text>
<text x="633.5" y="571.8" font-size="8.2" text-anchor="middle" textLength="42.3" lengthAdjust="spacingAndGlyphs">nonbonding</text>
<text x="600" y="584.1" font-size="8.2" text-anchor="middle" textLength="29.6" lengthAdjust="spacingAndGlyphs">stacking</text>
<text x="598.8" y="601.1" font-size="8.2" text-anchor="middle" textLength="16.9" lengthAdjust="spacingAndGlyphs">H···H</text></svg></body></html>
